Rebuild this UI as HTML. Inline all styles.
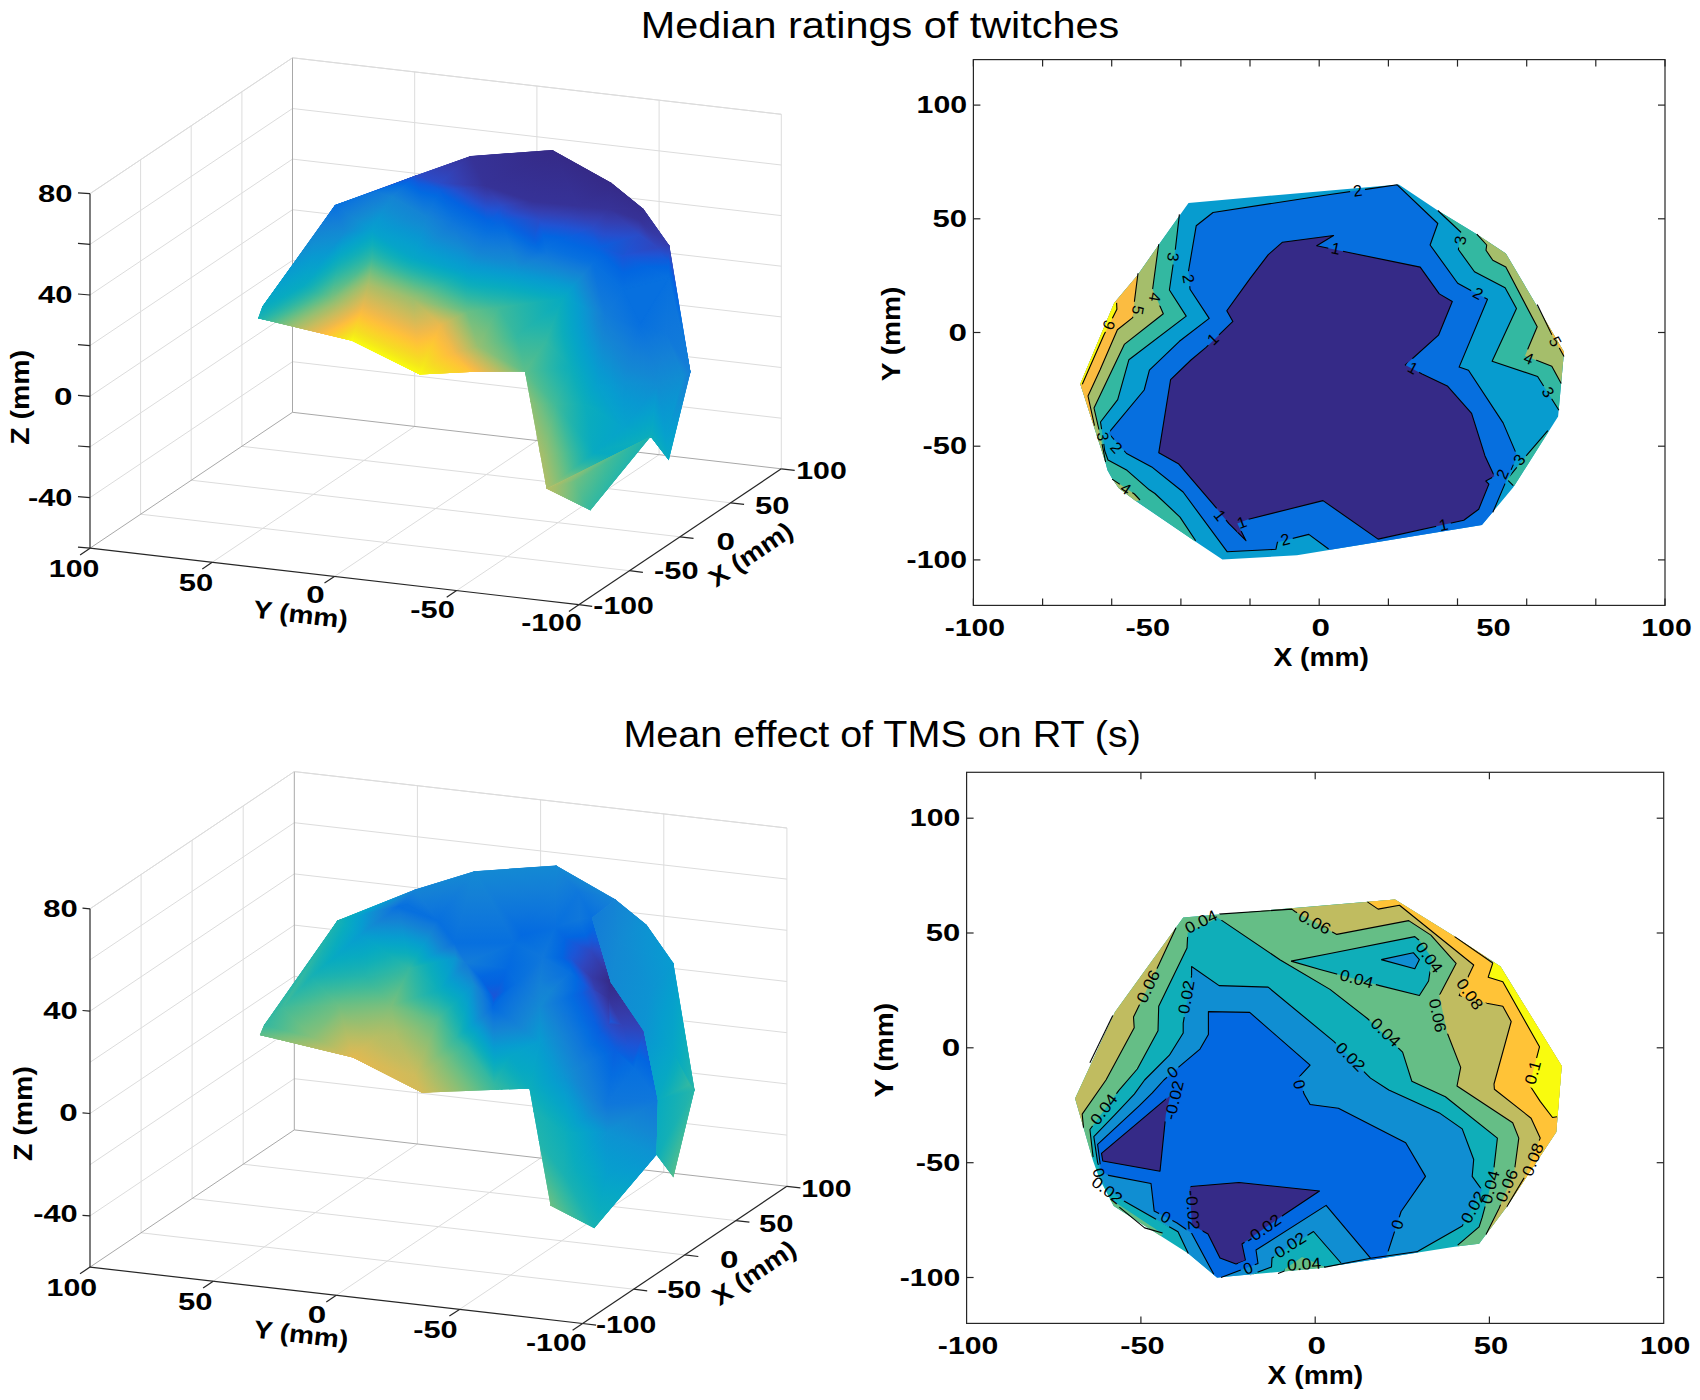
<!DOCTYPE html><html><head><meta charset="utf-8"><style>html,body{margin:0;padding:0;background:#fff;overflow:hidden}svg{display:block}</style></head><body><svg width="1700" height="1400" viewBox="0 0 1700 1400" font-family="Liberation Sans">
<rect width="1700" height="1400" fill="#fff"/>
<line x1="140.6" y1="514.2" x2="629.4" y2="570.7" stroke="#dcdcdc" stroke-width="1.0"/>
<line x1="456.6" y1="590.6" x2="659.1" y2="454.7" stroke="#dcdcdc" stroke-width="1.0"/>
<line x1="191.2" y1="480.2" x2="680" y2="536.8" stroke="#dcdcdc" stroke-width="1.0"/>
<line x1="334.4" y1="576.5" x2="536.9" y2="440.6" stroke="#dcdcdc" stroke-width="1.0"/>
<line x1="241.9" y1="446.3" x2="730.7" y2="502.8" stroke="#dcdcdc" stroke-width="1.0"/>
<line x1="212.2" y1="562.3" x2="414.7" y2="426.4" stroke="#dcdcdc" stroke-width="1.0"/>
<line x1="140.6" y1="514.2" x2="140.6" y2="159.7" stroke="#dcdcdc" stroke-width="1.0"/>
<line x1="191.2" y1="480.2" x2="191.2" y2="125.8" stroke="#dcdcdc" stroke-width="1.0"/>
<line x1="241.9" y1="446.3" x2="241.9" y2="91.8" stroke="#dcdcdc" stroke-width="1.0"/>
<line x1="90" y1="497.6" x2="292.5" y2="361.7" stroke="#dcdcdc" stroke-width="1.0"/>
<line x1="90" y1="446.9" x2="292.5" y2="311" stroke="#dcdcdc" stroke-width="1.0"/>
<line x1="90" y1="396.3" x2="292.5" y2="260.4" stroke="#dcdcdc" stroke-width="1.0"/>
<line x1="90" y1="345.6" x2="292.5" y2="209.7" stroke="#dcdcdc" stroke-width="1.0"/>
<line x1="90" y1="295" x2="292.5" y2="159.1" stroke="#dcdcdc" stroke-width="1.0"/>
<line x1="90" y1="244.4" x2="292.5" y2="108.5" stroke="#dcdcdc" stroke-width="1.0"/>
<line x1="90" y1="193.7" x2="292.5" y2="57.8" stroke="#dcdcdc" stroke-width="1.0"/>
<line x1="414.7" y1="426.4" x2="414.7" y2="71.9" stroke="#dcdcdc" stroke-width="1.0"/>
<line x1="536.9" y1="440.6" x2="536.9" y2="86.1" stroke="#dcdcdc" stroke-width="1.0"/>
<line x1="659.1" y1="454.7" x2="659.1" y2="100.2" stroke="#dcdcdc" stroke-width="1.0"/>
<line x1="292.5" y1="361.7" x2="781.3" y2="418.2" stroke="#dcdcdc" stroke-width="1.0"/>
<line x1="292.5" y1="311" x2="781.3" y2="367.5" stroke="#dcdcdc" stroke-width="1.0"/>
<line x1="292.5" y1="260.4" x2="781.3" y2="316.9" stroke="#dcdcdc" stroke-width="1.0"/>
<line x1="292.5" y1="209.7" x2="781.3" y2="266.2" stroke="#dcdcdc" stroke-width="1.0"/>
<line x1="292.5" y1="159.1" x2="781.3" y2="215.6" stroke="#dcdcdc" stroke-width="1.0"/>
<line x1="292.5" y1="108.5" x2="781.3" y2="165" stroke="#dcdcdc" stroke-width="1.0"/>
<line x1="292.5" y1="57.8" x2="781.3" y2="114.3" stroke="#dcdcdc" stroke-width="1.0"/>
<line x1="292.5" y1="412.3" x2="292.5" y2="57.8" stroke="#a8a8a8" stroke-width="1.0"/>
<line x1="781.3" y1="468.8" x2="781.3" y2="114.3" stroke="#dcdcdc" stroke-width="1.0"/>
<line x1="90" y1="548.2" x2="292.5" y2="412.3" stroke="#a8a8a8" stroke-width="1.0"/>
<line x1="292.5" y1="412.3" x2="781.3" y2="468.8" stroke="#a8a8a8" stroke-width="1.0"/>
<line x1="90" y1="193.7" x2="292.5" y2="57.8" stroke="#dcdcdc" stroke-width="1.0"/>
<line x1="292.5" y1="57.8" x2="781.3" y2="114.3" stroke="#dcdcdc" stroke-width="1.0"/>
<defs><clipPath id="cps1"><polygon points="258.1,318.3 262.2,306.7 335,205.1 416.4,175.3 470.6,156.1 552.4,149.9 611.3,182.8 643.4,208.8 669.4,245.5 690.5,372 668.8,460.2 651.1,437.2 546.6,488.7 524.9,371.5 470,371.9 419.7,374.6 351.8,340.7"/></clipPath><linearGradient id="gs1_0" gradientUnits="userSpaceOnUse" x1="397" y1="410.6" x2="420.6" y2="375.2"><stop offset="0.000" stop-color="#18b1b2"/><stop offset="0.071" stop-color="#2cb7a5"/><stop offset="0.143" stop-color="#45bb96"/><stop offset="0.214" stop-color="#62be87"/><stop offset="0.286" stop-color="#7fbf7a"/><stop offset="0.357" stop-color="#99bf70"/><stop offset="0.429" stop-color="#b0bd66"/><stop offset="0.500" stop-color="#c6bc5e"/><stop offset="0.571" stop-color="#daba55"/><stop offset="0.643" stop-color="#eeb94b"/><stop offset="0.714" stop-color="#febf3d"/><stop offset="0.786" stop-color="#fdcb30"/><stop offset="0.857" stop-color="#f7d925"/><stop offset="0.929" stop-color="#f5e81a"/><stop offset="1.000" stop-color="#f9fb0e"/></linearGradient><linearGradient id="gs1_1" gradientUnits="userSpaceOnUse" x1="663.1" y1="382.3" x2="679.4" y2="431.1"><stop offset="0.000" stop-color="#118cd2"/><stop offset="0.500" stop-color="#0997d1"/><stop offset="1.000" stop-color="#06a0cd"/></linearGradient><linearGradient id="gs1_2" gradientUnits="userSpaceOnUse" x1="667.8" y1="375.4" x2="680.4" y2="458.4"><stop offset="0.000" stop-color="#137fd7"/><stop offset="0.200" stop-color="#1487d3"/><stop offset="0.400" stop-color="#0d92d2"/><stop offset="0.600" stop-color="#079cd0"/><stop offset="0.800" stop-color="#06a4ca"/><stop offset="1.000" stop-color="#07aac1"/></linearGradient><linearGradient id="gs1_3" gradientUnits="userSpaceOnUse" x1="687.7" y1="395.4" x2="670.8" y2="393.4"><stop offset="0.000" stop-color="#137fd7"/><stop offset="0.333" stop-color="#1389d3"/><stop offset="0.667" stop-color="#0a96d1"/><stop offset="1.000" stop-color="#06a0cd"/></linearGradient><linearGradient id="gs1_4" gradientUnits="userSpaceOnUse" x1="535.9" y1="403.1" x2="488.5" y2="420.9"><stop offset="0.000" stop-color="#7abf7c"/><stop offset="0.143" stop-color="#93bf72"/><stop offset="0.286" stop-color="#a9be69"/><stop offset="0.429" stop-color="#bebc61"/><stop offset="0.571" stop-color="#d2bb59"/><stop offset="0.714" stop-color="#e5b950"/><stop offset="0.857" stop-color="#f7ba45"/><stop offset="1.000" stop-color="#ffc436"/></linearGradient><linearGradient id="gs1_5" gradientUnits="userSpaceOnUse" x1="560.1" y1="414.9" x2="531.3" y2="426.9"><stop offset="0.000" stop-color="#3fba99"/><stop offset="0.250" stop-color="#58bd8c"/><stop offset="0.500" stop-color="#73bf80"/><stop offset="0.750" stop-color="#8bbf75"/><stop offset="1.000" stop-color="#a1be6c"/></linearGradient><linearGradient id="gs1_6" gradientUnits="userSpaceOnUse" x1="536" y1="430.1" x2="442.8" y2="456.5"><stop offset="0.000" stop-color="#a1be6c"/><stop offset="0.111" stop-color="#b7bd64"/><stop offset="0.222" stop-color="#cbbb5b"/><stop offset="0.333" stop-color="#dfba53"/><stop offset="0.444" stop-color="#f2b949"/><stop offset="0.556" stop-color="#fec13a"/><stop offset="0.667" stop-color="#fccd2e"/><stop offset="0.778" stop-color="#f7da25"/><stop offset="0.889" stop-color="#f5e81a"/><stop offset="1.000" stop-color="#f9fb0e"/></linearGradient><linearGradient id="gs1_7" gradientUnits="userSpaceOnUse" x1="542.3" y1="399.6" x2="420.1" y2="401.3"><stop offset="0.000" stop-color="#a1be6c"/><stop offset="0.111" stop-color="#b7bd64"/><stop offset="0.222" stop-color="#cbbb5b"/><stop offset="0.333" stop-color="#dfba53"/><stop offset="0.444" stop-color="#f2b949"/><stop offset="0.556" stop-color="#fec13a"/><stop offset="0.667" stop-color="#fccd2e"/><stop offset="0.778" stop-color="#f7da25"/><stop offset="0.889" stop-color="#f5e81a"/><stop offset="1.000" stop-color="#f9fb0e"/></linearGradient><linearGradient id="gs1_8" gradientUnits="userSpaceOnUse" x1="449.1" y1="358.8" x2="433.7" y2="383.4"><stop offset="0.000" stop-color="#ffc436"/><stop offset="0.250" stop-color="#fbd02c"/><stop offset="0.500" stop-color="#f6dc23"/><stop offset="0.750" stop-color="#f5ea19"/><stop offset="1.000" stop-color="#f9fb0e"/></linearGradient><linearGradient id="gs1_9" gradientUnits="userSpaceOnUse" x1="634.4" y1="393.6" x2="652.1" y2="436.8"><stop offset="0.000" stop-color="#118cd2"/><stop offset="0.250" stop-color="#0997d1"/><stop offset="0.500" stop-color="#06a0cd"/><stop offset="0.750" stop-color="#06a7c5"/><stop offset="1.000" stop-color="#0cadbb"/></linearGradient><linearGradient id="gs1_10" gradientUnits="userSpaceOnUse" x1="670.5" y1="413.2" x2="645.4" y2="424.9"><stop offset="0.000" stop-color="#118cd2"/><stop offset="0.250" stop-color="#0997d1"/><stop offset="0.500" stop-color="#06a0cd"/><stop offset="0.750" stop-color="#06a7c5"/><stop offset="1.000" stop-color="#0cadbb"/></linearGradient><linearGradient id="gs1_11" gradientUnits="userSpaceOnUse" x1="668.5" y1="440.5" x2="656.9" y2="447.2"><stop offset="0.000" stop-color="#06a0cd"/><stop offset="0.500" stop-color="#06a7c5"/><stop offset="1.000" stop-color="#0cadbb"/></linearGradient><linearGradient id="gs1_12" gradientUnits="userSpaceOnUse" x1="608.3" y1="400.5" x2="590.5" y2="412.8"><stop offset="0.000" stop-color="#06a0cd"/><stop offset="0.500" stop-color="#06a7c5"/><stop offset="1.000" stop-color="#0cadbb"/></linearGradient><linearGradient id="gs1_13" gradientUnits="userSpaceOnUse" x1="416.3" y1="297.8" x2="432.9" y2="371.6"><stop offset="0.000" stop-color="#9bbf6f"/><stop offset="0.111" stop-color="#b2bd66"/><stop offset="0.222" stop-color="#c7bc5d"/><stop offset="0.333" stop-color="#dbba55"/><stop offset="0.444" stop-color="#efb94b"/><stop offset="0.556" stop-color="#febf3c"/><stop offset="0.667" stop-color="#fdcc2f"/><stop offset="0.778" stop-color="#f7d925"/><stop offset="0.889" stop-color="#f5e81a"/><stop offset="1.000" stop-color="#f9fb0e"/></linearGradient><linearGradient id="gs1_14" gradientUnits="userSpaceOnUse" x1="450.3" y1="341.9" x2="413.7" y2="365.2"><stop offset="0.000" stop-color="#ecb94c"/><stop offset="0.200" stop-color="#fdbe3e"/><stop offset="0.400" stop-color="#fdcb30"/><stop offset="0.600" stop-color="#f7d826"/><stop offset="0.800" stop-color="#f5e71b"/><stop offset="1.000" stop-color="#f9fb0e"/></linearGradient><linearGradient id="gs1_15" gradientUnits="userSpaceOnUse" x1="447.1" y1="217.2" x2="409.3" y2="254.2"><stop offset="0.000" stop-color="#0f77db"/><stop offset="0.200" stop-color="#1480d6"/><stop offset="0.400" stop-color="#138ad3"/><stop offset="0.600" stop-color="#0b95d2"/><stop offset="0.800" stop-color="#069fce"/><stop offset="1.000" stop-color="#06a6c6"/></linearGradient><linearGradient id="gs1_16" gradientUnits="userSpaceOnUse" x1="449.3" y1="149.3" x2="438.8" y2="182.4"><stop offset="0.000" stop-color="#363297"/><stop offset="0.500" stop-color="#353eaf"/><stop offset="1.000" stop-color="#2b4bc7"/></linearGradient><linearGradient id="gs1_17" gradientUnits="userSpaceOnUse" x1="375" y1="189.5" x2="375.7" y2="191.7"><stop offset="0.000" stop-color="#2b4bc7"/><stop offset="0.333" stop-color="#0860df"/><stop offset="0.667" stop-color="#056de0"/><stop offset="1.000" stop-color="#0f77db"/></linearGradient><linearGradient id="gs1_18" gradientUnits="userSpaceOnUse" x1="393.8" y1="176.6" x2="394.9" y2="196.8"><stop offset="0.000" stop-color="#2b4bc7"/><stop offset="0.200" stop-color="#0d5dde"/><stop offset="0.400" stop-color="#026ae1"/><stop offset="0.600" stop-color="#0a73dd"/><stop offset="0.800" stop-color="#117bd9"/><stop offset="1.000" stop-color="#1484d4"/></linearGradient><linearGradient id="gs1_19" gradientUnits="userSpaceOnUse" x1="422" y1="178.6" x2="406.4" y2="205.4"><stop offset="0.000" stop-color="#2b4bc7"/><stop offset="0.200" stop-color="#0d5dde"/><stop offset="0.400" stop-color="#026ae1"/><stop offset="0.600" stop-color="#0a73dd"/><stop offset="0.800" stop-color="#117bd9"/><stop offset="1.000" stop-color="#1484d4"/></linearGradient><linearGradient id="gs1_20" gradientUnits="userSpaceOnUse" x1="477" y1="345.1" x2="461.2" y2="364.8"><stop offset="0.000" stop-color="#95bf71"/><stop offset="0.167" stop-color="#abbe68"/><stop offset="0.333" stop-color="#bfbc60"/><stop offset="0.500" stop-color="#d3bb58"/><stop offset="0.667" stop-color="#e6b950"/><stop offset="0.833" stop-color="#f7ba45"/><stop offset="1.000" stop-color="#ffc436"/></linearGradient><linearGradient id="gs1_21" gradientUnits="userSpaceOnUse" x1="457.9" y1="355.5" x2="451.9" y2="365.3"><stop offset="0.000" stop-color="#f6ba46"/><stop offset="0.500" stop-color="#fec13a"/><stop offset="1.000" stop-color="#fdcb30"/></linearGradient><linearGradient id="gs1_22" gradientUnits="userSpaceOnUse" x1="450.9" y1="341" x2="435.6" y2="351.9"><stop offset="0.000" stop-color="#ecb94c"/><stop offset="0.500" stop-color="#fdbe3e"/><stop offset="1.000" stop-color="#fdcb30"/></linearGradient><linearGradient id="gs1_23" gradientUnits="userSpaceOnUse" x1="373.5" y1="192.6" x2="387.3" y2="224"><stop offset="0.000" stop-color="#0f77db"/><stop offset="0.250" stop-color="#1480d6"/><stop offset="0.500" stop-color="#128bd3"/><stop offset="0.750" stop-color="#0a97d1"/><stop offset="1.000" stop-color="#06a0cd"/></linearGradient><linearGradient id="gs1_24" gradientUnits="userSpaceOnUse" x1="403.4" y1="203.7" x2="383.7" y2="237.5"><stop offset="0.000" stop-color="#1484d4"/><stop offset="0.333" stop-color="#118dd2"/><stop offset="0.667" stop-color="#0998d1"/><stop offset="1.000" stop-color="#06a0cd"/></linearGradient><linearGradient id="gs1_25" gradientUnits="userSpaceOnUse" x1="413.3" y1="211.8" x2="397.2" y2="251.5"><stop offset="0.000" stop-color="#1484d4"/><stop offset="0.250" stop-color="#118dd2"/><stop offset="0.500" stop-color="#0997d1"/><stop offset="0.750" stop-color="#06a0cd"/><stop offset="1.000" stop-color="#06a6c6"/></linearGradient><linearGradient id="gs1_26" gradientUnits="userSpaceOnUse" x1="353.6" y1="195.5" x2="371.8" y2="230.9"><stop offset="0.000" stop-color="#0770df"/><stop offset="0.200" stop-color="#1079da"/><stop offset="0.400" stop-color="#1482d5"/><stop offset="0.600" stop-color="#128cd2"/><stop offset="0.800" stop-color="#0a97d1"/><stop offset="1.000" stop-color="#06a0cd"/></linearGradient><linearGradient id="gs1_27" gradientUnits="userSpaceOnUse" x1="273.6" y1="300.8" x2="277.4" y2="308.3"><stop offset="0.000" stop-color="#07aac1"/><stop offset="0.500" stop-color="#0eaeba"/><stop offset="1.000" stop-color="#18b1b2"/></linearGradient><linearGradient id="gs1_28" gradientUnits="userSpaceOnUse" x1="336.7" y1="357.5" x2="346.4" y2="338"><stop offset="0.000" stop-color="#18b1b2"/><stop offset="0.071" stop-color="#2cb7a5"/><stop offset="0.143" stop-color="#45bb96"/><stop offset="0.214" stop-color="#62be87"/><stop offset="0.286" stop-color="#7fbf7a"/><stop offset="0.357" stop-color="#99bf70"/><stop offset="0.429" stop-color="#b0bd66"/><stop offset="0.500" stop-color="#c6bc5e"/><stop offset="0.571" stop-color="#daba55"/><stop offset="0.643" stop-color="#eeb94b"/><stop offset="0.714" stop-color="#febf3d"/><stop offset="0.786" stop-color="#fdcb30"/><stop offset="0.857" stop-color="#f7d925"/><stop offset="0.929" stop-color="#f5e81a"/><stop offset="1.000" stop-color="#f9fb0e"/></linearGradient><linearGradient id="gs1_29" gradientUnits="userSpaceOnUse" x1="587.6" y1="430.2" x2="539.9" y2="444.7"><stop offset="0.000" stop-color="#07aac1"/><stop offset="0.143" stop-color="#13b0b6"/><stop offset="0.286" stop-color="#24b5aa"/><stop offset="0.429" stop-color="#3ab99d"/><stop offset="0.571" stop-color="#54bd8e"/><stop offset="0.714" stop-color="#70bf81"/><stop offset="0.857" stop-color="#8abf76"/><stop offset="1.000" stop-color="#a1be6c"/></linearGradient><linearGradient id="gs1_30" gradientUnits="userSpaceOnUse" x1="591.6" y1="419.3" x2="557.1" y2="422.1"><stop offset="0.000" stop-color="#07aac1"/><stop offset="0.333" stop-color="#14b0b5"/><stop offset="0.667" stop-color="#27b5a8"/><stop offset="1.000" stop-color="#3fba99"/></linearGradient><linearGradient id="gs1_31" gradientUnits="userSpaceOnUse" x1="622.7" y1="429.6" x2="582.9" y2="426.6"><stop offset="0.000" stop-color="#06a3cb"/><stop offset="0.500" stop-color="#06a8c4"/><stop offset="1.000" stop-color="#0cadbb"/></linearGradient><linearGradient id="gs1_32" gradientUnits="userSpaceOnUse" x1="595.5" y1="457.7" x2="542.3" y2="469.7"><stop offset="0.000" stop-color="#07aac1"/><stop offset="0.143" stop-color="#14b0b5"/><stop offset="0.286" stop-color="#27b5a8"/><stop offset="0.429" stop-color="#3fba99"/><stop offset="0.571" stop-color="#5cbe8a"/><stop offset="0.714" stop-color="#7abf7c"/><stop offset="0.857" stop-color="#95bf71"/><stop offset="1.000" stop-color="#adbe68"/></linearGradient><linearGradient id="gs1_33" gradientUnits="userSpaceOnUse" x1="604.6" y1="453.6" x2="600.4" y2="494.3"><stop offset="0.000" stop-color="#07aac1"/><stop offset="0.143" stop-color="#14b0b5"/><stop offset="0.286" stop-color="#27b5a8"/><stop offset="0.429" stop-color="#3fba99"/><stop offset="0.571" stop-color="#5cbe8a"/><stop offset="0.714" stop-color="#7abf7c"/><stop offset="0.857" stop-color="#95bf71"/><stop offset="1.000" stop-color="#adbe68"/></linearGradient><linearGradient id="gs1_34" gradientUnits="userSpaceOnUse" x1="637.3" y1="456.9" x2="639.5" y2="436"><stop offset="0.000" stop-color="#07aac1"/><stop offset="1.000" stop-color="#0cadbb"/></linearGradient><linearGradient id="gs1_35" gradientUnits="userSpaceOnUse" x1="618.8" y1="428.7" x2="626" y2="447.1"><stop offset="0.000" stop-color="#06a3cb"/><stop offset="0.500" stop-color="#06a8c4"/><stop offset="1.000" stop-color="#0cadbb"/></linearGradient><linearGradient id="gs1_36" gradientUnits="userSpaceOnUse" x1="530.2" y1="272.1" x2="521.4" y2="313"><stop offset="0.000" stop-color="#0d93d2"/><stop offset="0.167" stop-color="#079dcf"/><stop offset="0.333" stop-color="#06a5c8"/><stop offset="0.500" stop-color="#09acbe"/><stop offset="0.667" stop-color="#17b1b3"/><stop offset="0.833" stop-color="#29b6a7"/><stop offset="1.000" stop-color="#3fba99"/></linearGradient><linearGradient id="gs1_37" gradientUnits="userSpaceOnUse" x1="489" y1="187.6" x2="466.3" y2="230.6"><stop offset="0.000" stop-color="#363297"/><stop offset="0.200" stop-color="#3340b4"/><stop offset="0.400" stop-color="#2251d1"/><stop offset="0.600" stop-color="#0363e1"/><stop offset="0.800" stop-color="#066edf"/><stop offset="1.000" stop-color="#0f77db"/></linearGradient><linearGradient id="gs1_38" gradientUnits="userSpaceOnUse" x1="493.1" y1="186.6" x2="488.6" y2="232.1"><stop offset="0.000" stop-color="#363297"/><stop offset="0.250" stop-color="#3341b5"/><stop offset="0.500" stop-color="#2053d4"/><stop offset="0.750" stop-color="#0265e1"/><stop offset="1.000" stop-color="#0770df"/></linearGradient><linearGradient id="gs1_39" gradientUnits="userSpaceOnUse" x1="477.2" y1="168.9" x2="442.1" y2="186.9"><stop offset="0.000" stop-color="#363297"/><stop offset="0.500" stop-color="#353eaf"/><stop offset="1.000" stop-color="#2b4bc7"/></linearGradient><linearGradient id="gs1_40" gradientUnits="userSpaceOnUse" x1="547.8" y1="140.9" x2="480.5" y2="175.5"><stop offset="0.000" stop-color="#352a87"/><stop offset="1.000" stop-color="#363297"/></linearGradient><linearGradient id="gs1_41" gradientUnits="userSpaceOnUse" x1="658.9" y1="335.2" x2="673.4" y2="378.9"><stop offset="0.000" stop-color="#0f77db"/><stop offset="0.500" stop-color="#1481d6"/><stop offset="1.000" stop-color="#118cd2"/></linearGradient><linearGradient id="gs1_42" gradientUnits="userSpaceOnUse" x1="684.4" y1="356.4" x2="674.1" y2="364.7"><stop offset="0.000" stop-color="#0f77db"/><stop offset="0.500" stop-color="#1481d6"/><stop offset="1.000" stop-color="#118cd2"/></linearGradient><linearGradient id="gs1_43" gradientUnits="userSpaceOnUse" x1="455.3" y1="224.6" x2="437.8" y2="267.9"><stop offset="0.000" stop-color="#0f77db"/><stop offset="0.200" stop-color="#1480d6"/><stop offset="0.400" stop-color="#138ad3"/><stop offset="0.600" stop-color="#0b95d2"/><stop offset="0.800" stop-color="#069fce"/><stop offset="1.000" stop-color="#06a6c6"/></linearGradient><linearGradient id="gs1_44" gradientUnits="userSpaceOnUse" x1="496.5" y1="266.3" x2="490.6" y2="306.8"><stop offset="0.000" stop-color="#0d93d2"/><stop offset="0.167" stop-color="#079dcf"/><stop offset="0.333" stop-color="#06a5c8"/><stop offset="0.500" stop-color="#09acbe"/><stop offset="0.667" stop-color="#17b1b3"/><stop offset="0.833" stop-color="#29b6a7"/><stop offset="1.000" stop-color="#3fba99"/></linearGradient><linearGradient id="gs1_45" gradientUnits="userSpaceOnUse" x1="436" y1="261" x2="422.4" y2="301.8"><stop offset="0.000" stop-color="#06a0cd"/><stop offset="0.125" stop-color="#06a8c4"/><stop offset="0.250" stop-color="#0eaeba"/><stop offset="0.375" stop-color="#1eb3ae"/><stop offset="0.500" stop-color="#33b8a1"/><stop offset="0.625" stop-color="#4cbc93"/><stop offset="0.750" stop-color="#67be85"/><stop offset="0.875" stop-color="#83bf79"/><stop offset="1.000" stop-color="#9bbf6f"/></linearGradient><linearGradient id="gs1_46" gradientUnits="userSpaceOnUse" x1="596" y1="381.1" x2="578.6" y2="387.3"><stop offset="0.000" stop-color="#06a0cd"/><stop offset="0.500" stop-color="#06a7c5"/><stop offset="1.000" stop-color="#0cadbb"/></linearGradient><linearGradient id="gs1_47" gradientUnits="userSpaceOnUse" x1="579.1" y1="388.9" x2="553.5" y2="398"><stop offset="0.000" stop-color="#0cadbb"/><stop offset="0.333" stop-color="#1ab2b1"/><stop offset="0.667" stop-color="#2bb6a6"/><stop offset="1.000" stop-color="#3fba99"/></linearGradient><linearGradient id="gs1_48" gradientUnits="userSpaceOnUse" x1="511.4" y1="324.2" x2="475.9" y2="340.3"><stop offset="0.000" stop-color="#33b8a1"/><stop offset="0.250" stop-color="#4abc93"/><stop offset="0.500" stop-color="#64be86"/><stop offset="0.750" stop-color="#7dbf7b"/><stop offset="1.000" stop-color="#95bf71"/></linearGradient><linearGradient id="gs1_49" gradientUnits="userSpaceOnUse" x1="564.4" y1="303.9" x2="501.5" y2="321.1"><stop offset="0.000" stop-color="#07aac1"/><stop offset="0.333" stop-color="#14b0b5"/><stop offset="0.667" stop-color="#27b5a8"/><stop offset="1.000" stop-color="#3fba99"/></linearGradient><linearGradient id="gs1_50" gradientUnits="userSpaceOnUse" x1="546.7" y1="296" x2="539.5" y2="340.4"><stop offset="0.000" stop-color="#07aac1"/><stop offset="0.333" stop-color="#11afb8"/><stop offset="0.667" stop-color="#20b4ad"/><stop offset="1.000" stop-color="#33b8a1"/></linearGradient><linearGradient id="gs1_51" gradientUnits="userSpaceOnUse" x1="333.8" y1="206.4" x2="366.4" y2="236.8"><stop offset="0.000" stop-color="#0770df"/><stop offset="0.200" stop-color="#1079da"/><stop offset="0.400" stop-color="#1482d5"/><stop offset="0.600" stop-color="#128cd2"/><stop offset="0.800" stop-color="#0a97d1"/><stop offset="1.000" stop-color="#06a0cd"/></linearGradient><linearGradient id="gs1_52" gradientUnits="userSpaceOnUse" x1="390.2" y1="240.4" x2="378.9" y2="261.5"><stop offset="0.000" stop-color="#06a0cd"/><stop offset="0.250" stop-color="#06a8c4"/><stop offset="0.500" stop-color="#0eaeba"/><stop offset="0.750" stop-color="#1eb3ae"/><stop offset="1.000" stop-color="#33b8a1"/></linearGradient><linearGradient id="gs1_53" gradientUnits="userSpaceOnUse" x1="355.3" y1="225.2" x2="372.6" y2="257.6"><stop offset="0.000" stop-color="#1389d3"/><stop offset="0.167" stop-color="#0b95d1"/><stop offset="0.333" stop-color="#06a0cd"/><stop offset="0.500" stop-color="#06a7c5"/><stop offset="0.667" stop-color="#0daebb"/><stop offset="0.833" stop-color="#1eb3ae"/><stop offset="1.000" stop-color="#33b8a1"/></linearGradient><linearGradient id="gs1_54" gradientUnits="userSpaceOnUse" x1="500.4" y1="205.5" x2="491.5" y2="233.6"><stop offset="0.000" stop-color="#2b4bc7"/><stop offset="0.333" stop-color="#105bdd"/><stop offset="0.667" stop-color="#0267e1"/><stop offset="1.000" stop-color="#0770df"/></linearGradient><linearGradient id="gs1_55" gradientUnits="userSpaceOnUse" x1="503" y1="219.6" x2="499.2" y2="267.9"><stop offset="0.000" stop-color="#0860df"/><stop offset="0.200" stop-color="#046ce0"/><stop offset="0.400" stop-color="#0d75dc"/><stop offset="0.600" stop-color="#137ed7"/><stop offset="0.800" stop-color="#1487d3"/><stop offset="1.000" stop-color="#0d93d2"/></linearGradient><linearGradient id="gs1_56" gradientUnits="userSpaceOnUse" x1="472.8" y1="178.2" x2="447.8" y2="220.5"><stop offset="0.000" stop-color="#363297"/><stop offset="0.200" stop-color="#3340b4"/><stop offset="0.400" stop-color="#2251d1"/><stop offset="0.600" stop-color="#0363e1"/><stop offset="0.800" stop-color="#066edf"/><stop offset="1.000" stop-color="#0f77db"/></linearGradient><linearGradient id="gs1_57" gradientUnits="userSpaceOnUse" x1="458.3" y1="177.1" x2="452.7" y2="194.6"><stop offset="0.000" stop-color="#363297"/><stop offset="0.333" stop-color="#343fb1"/><stop offset="0.667" stop-color="#264ecd"/><stop offset="1.000" stop-color="#0860df"/></linearGradient><linearGradient id="gs1_58" gradientUnits="userSpaceOnUse" x1="449.7" y1="198" x2="431.7" y2="221.2"><stop offset="0.000" stop-color="#0860df"/><stop offset="0.250" stop-color="#036be0"/><stop offset="0.500" stop-color="#0b74dd"/><stop offset="0.750" stop-color="#127bd9"/><stop offset="1.000" stop-color="#1484d4"/></linearGradient><linearGradient id="gs1_59" gradientUnits="userSpaceOnUse" x1="432.9" y1="180.5" x2="430.7" y2="187.5"><stop offset="0.000" stop-color="#2b4bc7"/><stop offset="1.000" stop-color="#0860df"/></linearGradient><linearGradient id="gs1_60" gradientUnits="userSpaceOnUse" x1="431.4" y1="179.1" x2="422.1" y2="216"><stop offset="0.000" stop-color="#2b4bc7"/><stop offset="0.200" stop-color="#0d5dde"/><stop offset="0.400" stop-color="#026ae1"/><stop offset="0.600" stop-color="#0a73dd"/><stop offset="0.800" stop-color="#117bd9"/><stop offset="1.000" stop-color="#1484d4"/></linearGradient><linearGradient id="gs1_61" gradientUnits="userSpaceOnUse" x1="648.3" y1="208.1" x2="653.7" y2="247.7"><stop offset="0.000" stop-color="#362e8f"/><stop offset="1.000" stop-color="#353eaf"/></linearGradient><linearGradient id="gs1_62" gradientUnits="userSpaceOnUse" x1="653.6" y1="239.5" x2="622.1" y2="253.8"><stop offset="0.000" stop-color="#2f46bf"/><stop offset="1.000" stop-color="#1b55d7"/></linearGradient><linearGradient id="gs1_63" gradientUnits="userSpaceOnUse" x1="659" y1="229.2" x2="651.7" y2="244.5"><stop offset="0.000" stop-color="#363297"/><stop offset="0.500" stop-color="#353cab"/><stop offset="1.000" stop-color="#2f46bf"/></linearGradient><linearGradient id="gs1_64" gradientUnits="userSpaceOnUse" x1="649.5" y1="228.2" x2="642" y2="237.4"><stop offset="0.000" stop-color="#363297"/><stop offset="0.500" stop-color="#353eaf"/><stop offset="1.000" stop-color="#2b4bc7"/></linearGradient><linearGradient id="gs1_65" gradientUnits="userSpaceOnUse" x1="642.7" y1="378.3" x2="622.5" y2="426.9"><stop offset="0.000" stop-color="#118cd2"/><stop offset="0.500" stop-color="#0899d1"/><stop offset="1.000" stop-color="#06a3cb"/></linearGradient><linearGradient id="gs1_66" gradientUnits="userSpaceOnUse" x1="626.7" y1="389.6" x2="606.4" y2="404.3"><stop offset="0.000" stop-color="#0d93d2"/><stop offset="0.500" stop-color="#079cd0"/><stop offset="1.000" stop-color="#06a3cb"/></linearGradient><linearGradient id="gs1_67" gradientUnits="userSpaceOnUse" x1="495.8" y1="232.9" x2="492.2" y2="266.6"><stop offset="0.000" stop-color="#0770df"/><stop offset="0.250" stop-color="#0f78db"/><stop offset="0.500" stop-color="#1480d6"/><stop offset="0.750" stop-color="#1388d3"/><stop offset="1.000" stop-color="#0d93d2"/></linearGradient><linearGradient id="gs1_68" gradientUnits="userSpaceOnUse" x1="489.4" y1="253.9" x2="485.8" y2="274.6"><stop offset="0.000" stop-color="#1484d4"/><stop offset="0.333" stop-color="#118dd2"/><stop offset="0.667" stop-color="#0998d1"/><stop offset="1.000" stop-color="#06a0cd"/></linearGradient><linearGradient id="gs1_69" gradientUnits="userSpaceOnUse" x1="477.2" y1="227.3" x2="467.4" y2="246.1"><stop offset="0.000" stop-color="#0770df"/><stop offset="0.500" stop-color="#117ada"/><stop offset="1.000" stop-color="#1484d4"/></linearGradient><linearGradient id="gs1_70" gradientUnits="userSpaceOnUse" x1="474.2" y1="236.2" x2="456.8" y2="265.2"><stop offset="0.000" stop-color="#0f77db"/><stop offset="0.250" stop-color="#1480d6"/><stop offset="0.500" stop-color="#128bd3"/><stop offset="0.750" stop-color="#0a97d1"/><stop offset="1.000" stop-color="#06a0cd"/></linearGradient><linearGradient id="gs1_71" gradientUnits="userSpaceOnUse" x1="443.6" y1="302.9" x2="435.4" y2="323.9"><stop offset="0.000" stop-color="#6bbf83"/><stop offset="0.167" stop-color="#86bf78"/><stop offset="0.333" stop-color="#9dbe6e"/><stop offset="0.500" stop-color="#b2bd65"/><stop offset="0.667" stop-color="#c7bc5d"/><stop offset="0.833" stop-color="#daba55"/><stop offset="1.000" stop-color="#ecb94c"/></linearGradient><linearGradient id="gs1_72" gradientUnits="userSpaceOnUse" x1="461.2" y1="268.6" x2="440.6" y2="311.8"><stop offset="0.000" stop-color="#06a0cd"/><stop offset="0.125" stop-color="#06a8c4"/><stop offset="0.250" stop-color="#0eaeba"/><stop offset="0.375" stop-color="#1eb3ae"/><stop offset="0.500" stop-color="#33b8a1"/><stop offset="0.625" stop-color="#4cbc93"/><stop offset="0.750" stop-color="#67be85"/><stop offset="0.875" stop-color="#83bf79"/><stop offset="1.000" stop-color="#9bbf6f"/></linearGradient><linearGradient id="gs1_73" gradientUnits="userSpaceOnUse" x1="482.2" y1="274.5" x2="474" y2="313.5"><stop offset="0.000" stop-color="#06a0cd"/><stop offset="0.167" stop-color="#06a8c4"/><stop offset="0.333" stop-color="#0eaeba"/><stop offset="0.500" stop-color="#1fb4ad"/><stop offset="0.667" stop-color="#35b8a0"/><stop offset="0.833" stop-color="#4fbc91"/><stop offset="1.000" stop-color="#6bbf83"/></linearGradient><linearGradient id="gs1_74" gradientUnits="userSpaceOnUse" x1="493.6" y1="304.8" x2="468.9" y2="339.4"><stop offset="0.000" stop-color="#3fba99"/><stop offset="0.333" stop-color="#5cbe8a"/><stop offset="0.667" stop-color="#7abf7c"/><stop offset="1.000" stop-color="#95bf71"/></linearGradient><linearGradient id="gs1_75" gradientUnits="userSpaceOnUse" x1="478.2" y1="330" x2="450.1" y2="347.2"><stop offset="0.000" stop-color="#6bbf83"/><stop offset="0.167" stop-color="#88bf77"/><stop offset="0.333" stop-color="#a1be6c"/><stop offset="0.500" stop-color="#b8bd63"/><stop offset="0.667" stop-color="#cebb5b"/><stop offset="0.833" stop-color="#e2b951"/><stop offset="1.000" stop-color="#f6ba46"/></linearGradient><linearGradient id="gs1_76" gradientUnits="userSpaceOnUse" x1="471.5" y1="319.1" x2="443.5" y2="336.5"><stop offset="0.000" stop-color="#6bbf83"/><stop offset="0.167" stop-color="#88bf77"/><stop offset="0.333" stop-color="#a1be6c"/><stop offset="0.500" stop-color="#b8bd63"/><stop offset="0.667" stop-color="#cebb5b"/><stop offset="0.833" stop-color="#e2b951"/><stop offset="1.000" stop-color="#f6ba46"/></linearGradient><linearGradient id="gs1_77" gradientUnits="userSpaceOnUse" x1="571.6" y1="360.7" x2="525.3" y2="359.3"><stop offset="0.000" stop-color="#0cadbb"/><stop offset="0.250" stop-color="#1ab2b1"/><stop offset="0.500" stop-color="#2db7a5"/><stop offset="0.750" stop-color="#43bb97"/><stop offset="1.000" stop-color="#5cbe8a"/></linearGradient><linearGradient id="gs1_78" gradientUnits="userSpaceOnUse" x1="531" y1="339" x2="525.7" y2="371.6"><stop offset="0.000" stop-color="#33b8a1"/><stop offset="0.500" stop-color="#46bb95"/><stop offset="1.000" stop-color="#5cbe8a"/></linearGradient><linearGradient id="gs1_79" gradientUnits="userSpaceOnUse" x1="545.8" y1="389" x2="532.2" y2="397.8"><stop offset="0.000" stop-color="#3fba99"/><stop offset="0.500" stop-color="#5cbe8a"/><stop offset="1.000" stop-color="#7abf7c"/></linearGradient><linearGradient id="gs1_80" gradientUnits="userSpaceOnUse" x1="572.7" y1="369.6" x2="534.1" y2="389.5"><stop offset="0.000" stop-color="#0cadbb"/><stop offset="0.250" stop-color="#1ab2b1"/><stop offset="0.500" stop-color="#2db7a5"/><stop offset="0.750" stop-color="#43bb97"/><stop offset="1.000" stop-color="#5cbe8a"/></linearGradient><linearGradient id="gs1_81" gradientUnits="userSpaceOnUse" x1="526.1" y1="373.6" x2="484.6" y2="397.4"><stop offset="0.000" stop-color="#5cbe8a"/><stop offset="0.125" stop-color="#78bf7d"/><stop offset="0.250" stop-color="#92bf73"/><stop offset="0.375" stop-color="#a8be69"/><stop offset="0.500" stop-color="#bebc61"/><stop offset="0.625" stop-color="#d1bb59"/><stop offset="0.750" stop-color="#e5b950"/><stop offset="0.875" stop-color="#f7ba45"/><stop offset="1.000" stop-color="#ffc436"/></linearGradient><linearGradient id="gs1_82" gradientUnits="userSpaceOnUse" x1="500.2" y1="351.9" x2="478.7" y2="378.9"><stop offset="0.000" stop-color="#5cbe8a"/><stop offset="0.125" stop-color="#78bf7d"/><stop offset="0.250" stop-color="#92bf73"/><stop offset="0.375" stop-color="#a8be69"/><stop offset="0.500" stop-color="#bebc61"/><stop offset="0.625" stop-color="#d1bb59"/><stop offset="0.750" stop-color="#e5b950"/><stop offset="0.875" stop-color="#f7ba45"/><stop offset="1.000" stop-color="#ffc436"/></linearGradient><linearGradient id="gs1_83" gradientUnits="userSpaceOnUse" x1="520.3" y1="340.9" x2="492.1" y2="363.3"><stop offset="0.000" stop-color="#33b8a1"/><stop offset="0.250" stop-color="#4abc93"/><stop offset="0.500" stop-color="#64be86"/><stop offset="0.750" stop-color="#7dbf7b"/><stop offset="1.000" stop-color="#95bf71"/></linearGradient><linearGradient id="gs1_84" gradientUnits="userSpaceOnUse" x1="329.4" y1="206.2" x2="334.8" y2="232.8"><stop offset="0.000" stop-color="#0770df"/><stop offset="0.333" stop-color="#0f78db"/><stop offset="0.667" stop-color="#1480d6"/><stop offset="1.000" stop-color="#1389d3"/></linearGradient><linearGradient id="gs1_85" gradientUnits="userSpaceOnUse" x1="317.9" y1="230.7" x2="329.9" y2="278.6"><stop offset="0.000" stop-color="#1484d4"/><stop offset="0.250" stop-color="#108fd2"/><stop offset="0.500" stop-color="#089ad0"/><stop offset="0.750" stop-color="#06a3ca"/><stop offset="1.000" stop-color="#07aac1"/></linearGradient><linearGradient id="gs1_86" gradientUnits="userSpaceOnUse" x1="301.6" y1="244.6" x2="309.2" y2="251"><stop offset="0.000" stop-color="#0770df"/><stop offset="0.167" stop-color="#1079da"/><stop offset="0.333" stop-color="#1483d5"/><stop offset="0.500" stop-color="#108ed2"/><stop offset="0.667" stop-color="#089ad0"/><stop offset="0.833" stop-color="#06a3ca"/><stop offset="1.000" stop-color="#07aac1"/></linearGradient><linearGradient id="gs1_87" gradientUnits="userSpaceOnUse" x1="282" y1="249.2" x2="301.2" y2="286.6"><stop offset="0.000" stop-color="#1484d4"/><stop offset="0.250" stop-color="#108fd2"/><stop offset="0.500" stop-color="#089ad0"/><stop offset="0.750" stop-color="#06a3ca"/><stop offset="1.000" stop-color="#07aac1"/></linearGradient><linearGradient id="gs1_88" gradientUnits="userSpaceOnUse" x1="407.9" y1="255.9" x2="392.2" y2="294.7"><stop offset="0.000" stop-color="#06a6c6"/><stop offset="0.125" stop-color="#0badbc"/><stop offset="0.250" stop-color="#1ab2b1"/><stop offset="0.375" stop-color="#2eb7a4"/><stop offset="0.500" stop-color="#46bb95"/><stop offset="0.625" stop-color="#62be87"/><stop offset="0.750" stop-color="#7dbf7b"/><stop offset="0.875" stop-color="#96bf71"/><stop offset="1.000" stop-color="#adbe68"/></linearGradient><linearGradient id="gs1_89" gradientUnits="userSpaceOnUse" x1="393.1" y1="248.5" x2="374.4" y2="288"><stop offset="0.000" stop-color="#06a6c6"/><stop offset="0.125" stop-color="#0badbc"/><stop offset="0.250" stop-color="#1ab2b1"/><stop offset="0.375" stop-color="#2eb7a4"/><stop offset="0.500" stop-color="#46bb95"/><stop offset="0.625" stop-color="#62be87"/><stop offset="0.750" stop-color="#7dbf7b"/><stop offset="0.875" stop-color="#96bf71"/><stop offset="1.000" stop-color="#adbe68"/></linearGradient><linearGradient id="gs1_90" gradientUnits="userSpaceOnUse" x1="602.8" y1="285.6" x2="564.3" y2="301.9"><stop offset="0.000" stop-color="#0770df"/><stop offset="0.167" stop-color="#1079da"/><stop offset="0.333" stop-color="#1483d5"/><stop offset="0.500" stop-color="#108ed2"/><stop offset="0.667" stop-color="#089ad0"/><stop offset="0.833" stop-color="#06a3ca"/><stop offset="1.000" stop-color="#07aac1"/></linearGradient><linearGradient id="gs1_91" gradientUnits="userSpaceOnUse" x1="605.5" y1="314.3" x2="543.3" y2="322.1"><stop offset="0.000" stop-color="#127cd8"/><stop offset="0.143" stop-color="#1486d3"/><stop offset="0.286" stop-color="#0d93d2"/><stop offset="0.429" stop-color="#069ece"/><stop offset="0.571" stop-color="#06a6c6"/><stop offset="0.714" stop-color="#0cadbb"/><stop offset="0.857" stop-color="#1db3af"/><stop offset="1.000" stop-color="#33b8a1"/></linearGradient><linearGradient id="gs1_92" gradientUnits="userSpaceOnUse" x1="610" y1="332.2" x2="547.5" y2="348.3"><stop offset="0.000" stop-color="#127cd8"/><stop offset="0.143" stop-color="#1486d3"/><stop offset="0.286" stop-color="#0d93d2"/><stop offset="0.429" stop-color="#069ece"/><stop offset="0.571" stop-color="#06a6c6"/><stop offset="0.714" stop-color="#0cadbb"/><stop offset="0.857" stop-color="#1db3af"/><stop offset="1.000" stop-color="#33b8a1"/></linearGradient><linearGradient id="gs1_93" gradientUnits="userSpaceOnUse" x1="617.3" y1="345.6" x2="570.2" y2="364"><stop offset="0.000" stop-color="#127cd8"/><stop offset="0.200" stop-color="#1486d3"/><stop offset="0.400" stop-color="#0d93d2"/><stop offset="0.600" stop-color="#069ece"/><stop offset="0.800" stop-color="#06a6c6"/><stop offset="1.000" stop-color="#0cadbb"/></linearGradient><linearGradient id="gs1_94" gradientUnits="userSpaceOnUse" x1="629.5" y1="343.6" x2="590.6" y2="376.7"><stop offset="0.000" stop-color="#127cd8"/><stop offset="0.250" stop-color="#1484d4"/><stop offset="0.500" stop-color="#108ed2"/><stop offset="0.750" stop-color="#0998d1"/><stop offset="1.000" stop-color="#06a0cd"/></linearGradient><linearGradient id="gs1_95" gradientUnits="userSpaceOnUse" x1="652.1" y1="287.4" x2="698.1" y2="367.7"><stop offset="0.000" stop-color="#0770df"/><stop offset="0.500" stop-color="#0f77db"/><stop offset="1.000" stop-color="#137fd7"/></linearGradient><linearGradient id="gs1_96" gradientUnits="userSpaceOnUse" x1="385.9" y1="286.8" x2="372.7" y2="317.1"><stop offset="0.000" stop-color="#9bbf6f"/><stop offset="0.200" stop-color="#b0bd66"/><stop offset="0.400" stop-color="#c4bc5e"/><stop offset="0.600" stop-color="#d7ba57"/><stop offset="0.800" stop-color="#e9b94e"/><stop offset="1.000" stop-color="#fabc42"/></linearGradient><linearGradient id="gs1_97" gradientUnits="userSpaceOnUse" x1="412" y1="298.2" x2="384.2" y2="358.1"><stop offset="0.000" stop-color="#9bbf6f"/><stop offset="0.111" stop-color="#b2bd66"/><stop offset="0.222" stop-color="#c7bc5d"/><stop offset="0.333" stop-color="#dbba55"/><stop offset="0.444" stop-color="#efb94b"/><stop offset="0.556" stop-color="#febf3c"/><stop offset="0.667" stop-color="#fdcc2f"/><stop offset="0.778" stop-color="#f7d925"/><stop offset="0.889" stop-color="#f5e81a"/><stop offset="1.000" stop-color="#f9fb0e"/></linearGradient><linearGradient id="gs1_98" gradientUnits="userSpaceOnUse" x1="386.5" y1="324.7" x2="373.2" y2="351.4"><stop offset="0.000" stop-color="#fabc42"/><stop offset="0.200" stop-color="#fec535"/><stop offset="0.400" stop-color="#fbd12b"/><stop offset="0.600" stop-color="#f6dc23"/><stop offset="0.800" stop-color="#f5ea19"/><stop offset="1.000" stop-color="#f9fb0e"/></linearGradient><linearGradient id="gs1_99" gradientUnits="userSpaceOnUse" x1="518.9" y1="194.5" x2="504.8" y2="221.4"><stop offset="0.000" stop-color="#363297"/><stop offset="0.333" stop-color="#343fb1"/><stop offset="0.667" stop-color="#264ecd"/><stop offset="1.000" stop-color="#0860df"/></linearGradient><linearGradient id="gs1_100" gradientUnits="userSpaceOnUse" x1="527.9" y1="200.1" x2="520.9" y2="225"><stop offset="0.000" stop-color="#363297"/><stop offset="0.333" stop-color="#343fb1"/><stop offset="0.667" stop-color="#264ecd"/><stop offset="1.000" stop-color="#0860df"/></linearGradient><linearGradient id="gs1_101" gradientUnits="userSpaceOnUse" x1="535" y1="144.1" x2="517.5" y2="196.4"><stop offset="0.000" stop-color="#352a87"/><stop offset="1.000" stop-color="#363297"/></linearGradient><linearGradient id="gs1_102" gradientUnits="userSpaceOnUse" x1="507.8" y1="193.2" x2="503.3" y2="206.5"><stop offset="0.000" stop-color="#363297"/><stop offset="0.500" stop-color="#353eaf"/><stop offset="1.000" stop-color="#2b4bc7"/></linearGradient><linearGradient id="gs1_103" gradientUnits="userSpaceOnUse" x1="546.2" y1="254.5" x2="538.6" y2="293.9"><stop offset="0.000" stop-color="#0f77db"/><stop offset="0.200" stop-color="#1481d6"/><stop offset="0.400" stop-color="#118cd2"/><stop offset="0.600" stop-color="#0899d1"/><stop offset="0.800" stop-color="#06a3cb"/><stop offset="1.000" stop-color="#07aac1"/></linearGradient><linearGradient id="gs1_104" gradientUnits="userSpaceOnUse" x1="572.3" y1="256.3" x2="560" y2="297.7"><stop offset="0.000" stop-color="#0770df"/><stop offset="0.167" stop-color="#1079da"/><stop offset="0.333" stop-color="#1483d5"/><stop offset="0.500" stop-color="#108ed2"/><stop offset="0.667" stop-color="#089ad0"/><stop offset="0.833" stop-color="#06a3ca"/><stop offset="1.000" stop-color="#07aac1"/></linearGradient><linearGradient id="gs1_105" gradientUnits="userSpaceOnUse" x1="640.3" y1="241.6" x2="601.3" y2="250.1"><stop offset="0.000" stop-color="#2b4bc7"/><stop offset="1.000" stop-color="#0860df"/></linearGradient><linearGradient id="gs1_106" gradientUnits="userSpaceOnUse" x1="611.6" y1="247.1" x2="597.4" y2="265.7"><stop offset="0.000" stop-color="#1b55d7"/><stop offset="0.500" stop-color="#0266e1"/><stop offset="1.000" stop-color="#0770df"/></linearGradient><linearGradient id="gs1_107" gradientUnits="userSpaceOnUse" x1="602.8" y1="232.7" x2="587.8" y2="259.5"><stop offset="0.000" stop-color="#2b4bc7"/><stop offset="0.333" stop-color="#105bdd"/><stop offset="0.667" stop-color="#0267e1"/><stop offset="1.000" stop-color="#0770df"/></linearGradient><linearGradient id="gs1_108" gradientUnits="userSpaceOnUse" x1="630.2" y1="216.5" x2="625.4" y2="230.1"><stop offset="0.000" stop-color="#363297"/><stop offset="0.500" stop-color="#353eaf"/><stop offset="1.000" stop-color="#2b4bc7"/></linearGradient><linearGradient id="gs1_109" gradientUnits="userSpaceOnUse" x1="617.6" y1="209.6" x2="614.3" y2="248.3"><stop offset="0.000" stop-color="#363297"/><stop offset="0.333" stop-color="#343fb1"/><stop offset="0.667" stop-color="#264ecd"/><stop offset="1.000" stop-color="#0860df"/></linearGradient><linearGradient id="gs1_110" gradientUnits="userSpaceOnUse" x1="608.7" y1="209" x2="593.6" y2="244.1"><stop offset="0.000" stop-color="#363297"/><stop offset="0.333" stop-color="#343fb1"/><stop offset="0.667" stop-color="#264ecd"/><stop offset="1.000" stop-color="#0860df"/></linearGradient><linearGradient id="gs1_111" gradientUnits="userSpaceOnUse" x1="625.5" y1="188.3" x2="616.4" y2="212"><stop offset="0.000" stop-color="#352a87"/><stop offset="1.000" stop-color="#363297"/></linearGradient><linearGradient id="gs1_112" gradientUnits="userSpaceOnUse" x1="632.7" y1="205.1" x2="628.9" y2="216"><stop offset="0.000" stop-color="#362e8f"/><stop offset="1.000" stop-color="#363297"/></linearGradient><linearGradient id="gs1_113" gradientUnits="userSpaceOnUse" x1="649.8" y1="247" x2="649.6" y2="262.1"><stop offset="0.000" stop-color="#2f46bf"/><stop offset="0.500" stop-color="#2053d4"/><stop offset="1.000" stop-color="#0860df"/></linearGradient><linearGradient id="gs1_114" gradientUnits="userSpaceOnUse" x1="653.7" y1="256.1" x2="653.5" y2="277.5"><stop offset="0.000" stop-color="#1b55d7"/><stop offset="0.500" stop-color="#0266e1"/><stop offset="1.000" stop-color="#0770df"/></linearGradient><linearGradient id="gs1_115" gradientUnits="userSpaceOnUse" x1="667" y1="244.9" x2="662.8" y2="260.7"><stop offset="0.000" stop-color="#353eaf"/><stop offset="0.500" stop-color="#274dcb"/><stop offset="1.000" stop-color="#0860df"/></linearGradient><linearGradient id="gs1_116" gradientUnits="userSpaceOnUse" x1="681.8" y1="291.8" x2="670" y2="295"><stop offset="0.000" stop-color="#353eaf"/><stop offset="0.200" stop-color="#274ecc"/><stop offset="0.400" stop-color="#0761e0"/><stop offset="0.600" stop-color="#046de0"/><stop offset="0.800" stop-color="#0d76dc"/><stop offset="1.000" stop-color="#137fd7"/></linearGradient><linearGradient id="gs1_117" gradientUnits="userSpaceOnUse" x1="680.4" y1="302.8" x2="671.6" y2="305.3"><stop offset="0.000" stop-color="#0860df"/><stop offset="0.333" stop-color="#046ce0"/><stop offset="0.667" stop-color="#0d76dc"/><stop offset="1.000" stop-color="#137fd7"/></linearGradient><linearGradient id="gs1_118" gradientUnits="userSpaceOnUse" x1="632.6" y1="253.1" x2="641.1" y2="285.1"><stop offset="0.000" stop-color="#1b55d7"/><stop offset="0.500" stop-color="#0266e1"/><stop offset="1.000" stop-color="#0770df"/></linearGradient><linearGradient id="gs1_119" gradientUnits="userSpaceOnUse" x1="624.3" y1="257" x2="607.2" y2="275.5"><stop offset="0.000" stop-color="#1b55d7"/><stop offset="0.500" stop-color="#0266e1"/><stop offset="1.000" stop-color="#0770df"/></linearGradient><linearGradient id="gs1_120" gradientUnits="userSpaceOnUse" x1="614.1" y1="281.9" x2="593.4" y2="304.3"><stop offset="0.000" stop-color="#0770df"/><stop offset="0.500" stop-color="#0e76dc"/><stop offset="1.000" stop-color="#127cd8"/></linearGradient><linearGradient id="gs1_121" gradientUnits="userSpaceOnUse" x1="346.4" y1="288.2" x2="362.5" y2="311.3"><stop offset="0.000" stop-color="#7abf7c"/><stop offset="0.167" stop-color="#94bf72"/><stop offset="0.333" stop-color="#abbe68"/><stop offset="0.500" stop-color="#c0bc60"/><stop offset="0.667" stop-color="#d4bb58"/><stop offset="0.833" stop-color="#e8b94f"/><stop offset="1.000" stop-color="#fabc42"/></linearGradient><linearGradient id="gs1_122" gradientUnits="userSpaceOnUse" x1="314" y1="254.9" x2="341.8" y2="290.5"><stop offset="0.000" stop-color="#1389d3"/><stop offset="0.125" stop-color="#0a96d1"/><stop offset="0.250" stop-color="#06a1cc"/><stop offset="0.375" stop-color="#07a9c3"/><stop offset="0.500" stop-color="#12afb7"/><stop offset="0.625" stop-color="#25b5a9"/><stop offset="0.750" stop-color="#3eba9a"/><stop offset="0.875" stop-color="#5bbd8a"/><stop offset="1.000" stop-color="#7abf7c"/></linearGradient><linearGradient id="gs1_123" gradientUnits="userSpaceOnUse" x1="335.7" y1="296" x2="359.4" y2="336.2"><stop offset="0.000" stop-color="#7abf7c"/><stop offset="0.100" stop-color="#95bf71"/><stop offset="0.200" stop-color="#adbe68"/><stop offset="0.300" stop-color="#c3bc5f"/><stop offset="0.400" stop-color="#d8ba56"/><stop offset="0.500" stop-color="#ecb94c"/><stop offset="0.600" stop-color="#fdbe3e"/><stop offset="0.700" stop-color="#fdcb30"/><stop offset="0.800" stop-color="#f7d826"/><stop offset="0.900" stop-color="#f5e71b"/><stop offset="1.000" stop-color="#f9fb0e"/></linearGradient><linearGradient id="gs1_124" gradientUnits="userSpaceOnUse" x1="335.1" y1="236.2" x2="360.6" y2="282.5"><stop offset="0.000" stop-color="#1389d3"/><stop offset="0.125" stop-color="#0a96d1"/><stop offset="0.250" stop-color="#06a1cc"/><stop offset="0.375" stop-color="#07a9c3"/><stop offset="0.500" stop-color="#12afb7"/><stop offset="0.625" stop-color="#25b5a9"/><stop offset="0.750" stop-color="#3eba9a"/><stop offset="0.875" stop-color="#5bbd8a"/><stop offset="1.000" stop-color="#7abf7c"/></linearGradient><linearGradient id="gs1_125" gradientUnits="userSpaceOnUse" x1="351.4" y1="271.7" x2="362.6" y2="288.6"><stop offset="0.000" stop-color="#33b8a1"/><stop offset="0.200" stop-color="#4abc93"/><stop offset="0.400" stop-color="#65be86"/><stop offset="0.600" stop-color="#80bf7a"/><stop offset="0.800" stop-color="#97bf70"/><stop offset="1.000" stop-color="#adbe68"/></linearGradient><linearGradient id="gs1_126" gradientUnits="userSpaceOnUse" x1="292.8" y1="291.5" x2="305.1" y2="313.4"><stop offset="0.000" stop-color="#07aac1"/><stop offset="0.200" stop-color="#14b0b5"/><stop offset="0.400" stop-color="#27b5a8"/><stop offset="0.600" stop-color="#3fba99"/><stop offset="0.800" stop-color="#5cbe8a"/><stop offset="1.000" stop-color="#7abf7c"/></linearGradient><linearGradient id="gs1_127" gradientUnits="userSpaceOnUse" x1="300.8" y1="295.2" x2="331.4" y2="351.7"><stop offset="0.000" stop-color="#18b1b2"/><stop offset="0.071" stop-color="#2cb7a5"/><stop offset="0.143" stop-color="#45bb96"/><stop offset="0.214" stop-color="#62be87"/><stop offset="0.286" stop-color="#7fbf7a"/><stop offset="0.357" stop-color="#99bf70"/><stop offset="0.429" stop-color="#b0bd66"/><stop offset="0.500" stop-color="#c6bc5e"/><stop offset="0.571" stop-color="#daba55"/><stop offset="0.643" stop-color="#eeb94b"/><stop offset="0.714" stop-color="#febf3d"/><stop offset="0.786" stop-color="#fdcb30"/><stop offset="0.857" stop-color="#f7d925"/><stop offset="0.929" stop-color="#f5e81a"/><stop offset="1.000" stop-color="#f9fb0e"/></linearGradient><linearGradient id="gs1_128" gradientUnits="userSpaceOnUse" x1="550.2" y1="203" x2="548.5" y2="220.4"><stop offset="0.000" stop-color="#363297"/><stop offset="0.500" stop-color="#353eaf"/><stop offset="1.000" stop-color="#2b4bc7"/></linearGradient><linearGradient id="gs1_129" gradientUnits="userSpaceOnUse" x1="593.6" y1="207.4" x2="591.7" y2="227.1"><stop offset="0.000" stop-color="#363297"/><stop offset="0.500" stop-color="#353eaf"/><stop offset="1.000" stop-color="#2b4bc7"/></linearGradient><linearGradient id="gs1_130" gradientUnits="userSpaceOnUse" x1="600.8" y1="181.8" x2="598.2" y2="207.8"><stop offset="0.000" stop-color="#352a87"/><stop offset="1.000" stop-color="#363297"/></linearGradient><linearGradient id="gs1_131" gradientUnits="userSpaceOnUse" x1="586.4" y1="168.9" x2="568.6" y2="200.7"><stop offset="0.000" stop-color="#352a87"/><stop offset="1.000" stop-color="#363297"/></linearGradient><linearGradient id="gs1_132" gradientUnits="userSpaceOnUse" x1="557.5" y1="150.4" x2="552.2" y2="203.2"><stop offset="0.000" stop-color="#352a87"/><stop offset="1.000" stop-color="#363297"/></linearGradient><linearGradient id="gs1_133" gradientUnits="userSpaceOnUse" x1="523.6" y1="232.8" x2="505.9" y2="262.7"><stop offset="0.000" stop-color="#0860df"/><stop offset="0.200" stop-color="#046ce0"/><stop offset="0.400" stop-color="#0d75dc"/><stop offset="0.600" stop-color="#137ed7"/><stop offset="0.800" stop-color="#1487d3"/><stop offset="1.000" stop-color="#0d93d2"/></linearGradient><linearGradient id="gs1_134" gradientUnits="userSpaceOnUse" x1="531.7" y1="215" x2="521.8" y2="231.7"><stop offset="0.000" stop-color="#2b4bc7"/><stop offset="1.000" stop-color="#0860df"/></linearGradient><linearGradient id="gs1_135" gradientUnits="userSpaceOnUse" x1="650.8" y1="307" x2="673.2" y2="320.9"><stop offset="0.000" stop-color="#0770df"/><stop offset="1.000" stop-color="#0f77db"/></linearGradient><linearGradient id="gs1_137" gradientUnits="userSpaceOnUse" x1="630.9" y1="306" x2="606.8" y2="318"><stop offset="0.000" stop-color="#0770df"/><stop offset="0.500" stop-color="#0e76dc"/><stop offset="1.000" stop-color="#127cd8"/></linearGradient><linearGradient id="gs1_138" gradientUnits="userSpaceOnUse" x1="641.1" y1="325.5" x2="601.6" y2="360"><stop offset="0.000" stop-color="#0770df"/><stop offset="0.250" stop-color="#0f78db"/><stop offset="0.500" stop-color="#1480d6"/><stop offset="0.750" stop-color="#1388d3"/><stop offset="1.000" stop-color="#0d93d2"/></linearGradient><linearGradient id="gs1_139" gradientUnits="userSpaceOnUse" x1="645.1" y1="322.4" x2="666.7" y2="380.8"><stop offset="0.000" stop-color="#0770df"/><stop offset="0.333" stop-color="#1079da"/><stop offset="0.667" stop-color="#1482d5"/><stop offset="1.000" stop-color="#118cd2"/></linearGradient><linearGradient id="gs1_140" gradientUnits="userSpaceOnUse" x1="650.8" y1="327.5" x2="633.3" y2="387.3"><stop offset="0.000" stop-color="#0770df"/><stop offset="0.250" stop-color="#0f78db"/><stop offset="0.500" stop-color="#1480d6"/><stop offset="0.750" stop-color="#1388d3"/><stop offset="1.000" stop-color="#0d93d2"/></linearGradient><linearGradient id="gs1_141" gradientUnits="userSpaceOnUse" x1="534.6" y1="250" x2="534.4" y2="269.5"><stop offset="0.000" stop-color="#0770df"/><stop offset="0.250" stop-color="#0f78db"/><stop offset="0.500" stop-color="#1480d6"/><stop offset="0.750" stop-color="#1388d3"/><stop offset="1.000" stop-color="#0d93d2"/></linearGradient><linearGradient id="gs1_142" gradientUnits="userSpaceOnUse" x1="533.9" y1="239.2" x2="525.8" y2="271.5"><stop offset="0.000" stop-color="#0860df"/><stop offset="0.200" stop-color="#046ce0"/><stop offset="0.400" stop-color="#0d75dc"/><stop offset="0.600" stop-color="#137ed7"/><stop offset="0.800" stop-color="#1487d3"/><stop offset="1.000" stop-color="#0d93d2"/></linearGradient><linearGradient id="gs1_143" gradientUnits="userSpaceOnUse" x1="531.8" y1="227.4" x2="548.8" y2="243.9"><stop offset="0.000" stop-color="#2b4bc7"/><stop offset="0.333" stop-color="#105bdd"/><stop offset="0.667" stop-color="#0267e1"/><stop offset="1.000" stop-color="#0770df"/></linearGradient><linearGradient id="gs1_144" gradientUnits="userSpaceOnUse" x1="543" y1="248.4" x2="546.2" y2="255.1"><stop offset="0.000" stop-color="#0770df"/><stop offset="1.000" stop-color="#0f77db"/></linearGradient><linearGradient id="gs1_145" gradientUnits="userSpaceOnUse" x1="536.6" y1="238.5" x2="541.6" y2="249"><stop offset="0.000" stop-color="#0860df"/><stop offset="0.500" stop-color="#0269e1"/><stop offset="1.000" stop-color="#0770df"/></linearGradient><linearGradient id="gs1_146" gradientUnits="userSpaceOnUse" x1="556.6" y1="203.5" x2="551.7" y2="247.8"><stop offset="0.000" stop-color="#363297"/><stop offset="0.250" stop-color="#3341b5"/><stop offset="0.500" stop-color="#2053d4"/><stop offset="0.750" stop-color="#0265e1"/><stop offset="1.000" stop-color="#0770df"/></linearGradient><linearGradient id="gs1_147" gradientUnits="userSpaceOnUse" x1="575.8" y1="205.5" x2="567.9" y2="251"><stop offset="0.000" stop-color="#363297"/><stop offset="0.250" stop-color="#3341b5"/><stop offset="0.500" stop-color="#2053d4"/><stop offset="0.750" stop-color="#0265e1"/><stop offset="1.000" stop-color="#0770df"/></linearGradient><linearGradient id="gs1_148" gradientUnits="userSpaceOnUse" x1="584.1" y1="224.3" x2="573.8" y2="256.2"><stop offset="0.000" stop-color="#2b4bc7"/><stop offset="0.333" stop-color="#105bdd"/><stop offset="0.667" stop-color="#0267e1"/><stop offset="1.000" stop-color="#0770df"/></linearGradient><linearGradient id="gs1_149" gradientUnits="userSpaceOnUse" x1="562.6" y1="252.6" x2="560.5" y2="259"><stop offset="0.000" stop-color="#0770df"/><stop offset="1.000" stop-color="#0f77db"/></linearGradient><g id="tgs1"><polygon points="419.7,374.6 546.6,488.7 258.1,318.3" fill="url(#gs1_0)" stroke="url(#gs1_0)" stroke-width="0.8"/><polygon points="682.9,375.7 665.7,435.7 657.1,384.3" fill="url(#gs1_1)" stroke="url(#gs1_1)" stroke-width="0.8"/><polygon points="668.8,460.2 665.7,435.7 690.5,372" fill="url(#gs1_2)" stroke="url(#gs1_2)" stroke-width="0.8"/><polygon points="665.7,435.7 682.9,375.7 690.5,372" fill="url(#gs1_3)" stroke="url(#gs1_3)" stroke-width="0.8"/><polygon points="543,455 470,371.9 536.4,404.3" fill="url(#gs1_4)" stroke="url(#gs1_4)" stroke-width="0.8"/><polygon points="555.7,404.3 543,455 536.4,404.3" fill="url(#gs1_5)" stroke="url(#gs1_5)" stroke-width="0.8"/><polygon points="543,455 546.6,488.7 419.7,374.6" fill="url(#gs1_6)" stroke="url(#gs1_6)" stroke-width="0.8"/><polygon points="470,371.9 543,455 419.7,374.6" fill="url(#gs1_7)" stroke="url(#gs1_7)" stroke-width="0.8"/><polygon points="440,358 470,371.9 419.7,374.6" fill="url(#gs1_8)" stroke="url(#gs1_8)" stroke-width="0.8"/><polygon points="657.1,384.3 651.1,437.2 622.9,427.1" fill="url(#gs1_9)" stroke="url(#gs1_9)" stroke-width="0.8"/><polygon points="665.7,435.7 651.1,437.2 657.1,384.3" fill="url(#gs1_10)" stroke="url(#gs1_10)" stroke-width="0.8"/><polygon points="651.1,437.2 665.7,435.7 668.8,460.2" fill="url(#gs1_11)" stroke="url(#gs1_11)" stroke-width="0.8"/><polygon points="584.6,404.3 597.1,384.3 622.9,427.1" fill="url(#gs1_12)" stroke="url(#gs1_12)" stroke-width="0.8"/><polygon points="412.9,298.6 440,325.7 419.7,374.6" fill="url(#gs1_13)" stroke="url(#gs1_13)" stroke-width="0.8"/><polygon points="440,325.7 440,358 419.7,374.6" fill="url(#gs1_14)" stroke="url(#gs1_14)" stroke-width="0.8"/><polygon points="412.9,257.9 426.4,217.1 453.6,223.9" fill="url(#gs1_15)" stroke="url(#gs1_15)" stroke-width="0.8"/><polygon points="440,182.8 416.4,175.3 470.6,156.1" fill="url(#gs1_16)" stroke="url(#gs1_16)" stroke-width="0.8"/><polygon points="416.4,175.3 374.9,192 335,205.1" fill="url(#gs1_17)" stroke="url(#gs1_17)" stroke-width="0.8"/><polygon points="374.9,192 416.4,175.3 392,197" fill="url(#gs1_18)" stroke="url(#gs1_18)" stroke-width="0.8"/><polygon points="416.4,175.3 426.4,217.1 392,197" fill="url(#gs1_19)" stroke="url(#gs1_19)" stroke-width="0.8"/><polygon points="470,371.9 453.6,352.9 478.6,346.4" fill="url(#gs1_20)" stroke="url(#gs1_20)" stroke-width="0.8"/><polygon points="440,358 453.6,352.9 470,371.9" fill="url(#gs1_21)" stroke="url(#gs1_21)" stroke-width="0.8"/><polygon points="440,325.7 453.6,352.9 440,358" fill="url(#gs1_22)" stroke="url(#gs1_22)" stroke-width="0.8"/><polygon points="372.1,230.7 374.9,192 392,197" fill="url(#gs1_23)" stroke="url(#gs1_23)" stroke-width="0.8"/><polygon points="426.4,217.1 372.1,230.7 392,197" fill="url(#gs1_24)" stroke="url(#gs1_24)" stroke-width="0.8"/><polygon points="372.1,230.7 426.4,217.1 412.9,257.9" fill="url(#gs1_25)" stroke="url(#gs1_25)" stroke-width="0.8"/><polygon points="374.9,192 372.1,230.7 335,205.1" fill="url(#gs1_26)" stroke="url(#gs1_26)" stroke-width="0.8"/><polygon points="262.2,306.7 304.3,285 258.1,318.3" fill="url(#gs1_27)" stroke="url(#gs1_27)" stroke-width="0.8"/><polygon points="351.8,340.7 419.7,374.6 258.1,318.3" fill="url(#gs1_28)" stroke="url(#gs1_28)" stroke-width="0.8"/><polygon points="594.3,452.5 543,455 555.7,404.3" fill="url(#gs1_29)" stroke="url(#gs1_29)" stroke-width="0.8"/><polygon points="584.6,404.3 594.3,452.5 555.7,404.3" fill="url(#gs1_30)" stroke="url(#gs1_30)" stroke-width="0.8"/><polygon points="594.3,452.5 584.6,404.3 622.9,427.1" fill="url(#gs1_31)" stroke="url(#gs1_31)" stroke-width="0.8"/><polygon points="543,455 594.3,452.5 546.6,488.7" fill="url(#gs1_32)" stroke="url(#gs1_32)" stroke-width="0.8"/><polygon points="546.6,488.7 594.3,452.5 668.8,460.2" fill="url(#gs1_33)" stroke="url(#gs1_33)" stroke-width="0.8"/><polygon points="594.3,452.5 651.1,437.2 668.8,460.2" fill="url(#gs1_34)" stroke="url(#gs1_34)" stroke-width="0.8"/><polygon points="651.1,437.2 594.3,452.5 622.9,427.1" fill="url(#gs1_35)" stroke="url(#gs1_35)" stroke-width="0.8"/><polygon points="497.9,307.9 517.1,269.3 562.9,298.6" fill="url(#gs1_36)" stroke="url(#gs1_36)" stroke-width="0.8"/><polygon points="485.9,185.9 485.9,231.8 453.6,223.9" fill="url(#gs1_37)" stroke="url(#gs1_37)" stroke-width="0.8"/><polygon points="485.9,185.9 501.2,205.8 485.9,231.8" fill="url(#gs1_38)" stroke="url(#gs1_38)" stroke-width="0.8"/><polygon points="485.9,185.9 440,182.8 470.6,156.1" fill="url(#gs1_39)" stroke="url(#gs1_39)" stroke-width="0.8"/><polygon points="485.9,185.9 470.6,156.1 552.4,149.9" fill="url(#gs1_40)" stroke="url(#gs1_40)" stroke-width="0.8"/><polygon points="665.7,332.9 682.9,375.7 657.1,384.3" fill="url(#gs1_41)" stroke="url(#gs1_41)" stroke-width="0.8"/><polygon points="682.9,375.7 665.7,332.9 690.5,372" fill="url(#gs1_42)" stroke="url(#gs1_42)" stroke-width="0.8"/><polygon points="467.2,271.4 412.9,257.9 453.6,223.9" fill="url(#gs1_43)" stroke="url(#gs1_43)" stroke-width="0.8"/><polygon points="467.2,271.4 517.1,269.3 497.9,307.9" fill="url(#gs1_44)" stroke="url(#gs1_44)" stroke-width="0.8"/><polygon points="412.9,257.9 467.2,271.4 412.9,298.6" fill="url(#gs1_45)" stroke="url(#gs1_45)" stroke-width="0.8"/><polygon points="584.6,404.3 571.4,367.1 597.1,384.3" fill="url(#gs1_46)" stroke="url(#gs1_46)" stroke-width="0.8"/><polygon points="571.4,367.1 584.6,404.3 555.7,404.3" fill="url(#gs1_47)" stroke="url(#gs1_47)" stroke-width="0.8"/><polygon points="497.9,307.9 517.1,336.8 478.6,346.4" fill="url(#gs1_48)" stroke="url(#gs1_48)" stroke-width="0.8"/><polygon points="517.1,336.8 497.9,307.9 562.9,298.6" fill="url(#gs1_49)" stroke="url(#gs1_49)" stroke-width="0.8"/><polygon points="545.7,341.4 517.1,336.8 562.9,298.6" fill="url(#gs1_50)" stroke="url(#gs1_50)" stroke-width="0.8"/><polygon points="372.1,230.7 345,230.7 335,205.1" fill="url(#gs1_51)" stroke="url(#gs1_51)" stroke-width="0.8"/><polygon points="372.1,257.9 372.1,230.7 412.9,257.9" fill="url(#gs1_52)" stroke="url(#gs1_52)" stroke-width="0.8"/><polygon points="372.1,257.9 345,230.7 372.1,230.7" fill="url(#gs1_53)" stroke="url(#gs1_53)" stroke-width="0.8"/><polygon points="501.2,205.8 501.2,219.5 485.9,231.8" fill="url(#gs1_54)" stroke="url(#gs1_54)" stroke-width="0.8"/><polygon points="501.2,219.5 517.1,269.3 485.9,231.8" fill="url(#gs1_55)" stroke="url(#gs1_55)" stroke-width="0.8"/><polygon points="440,190.5 485.9,185.9 453.6,223.9" fill="url(#gs1_56)" stroke="url(#gs1_56)" stroke-width="0.8"/><polygon points="485.9,185.9 440,190.5 440,182.8" fill="url(#gs1_57)" stroke="url(#gs1_57)" stroke-width="0.8"/><polygon points="426.4,217.1 440,190.5 453.6,223.9" fill="url(#gs1_58)" stroke="url(#gs1_58)" stroke-width="0.8"/><polygon points="440,190.5 416.4,175.3 440,182.8" fill="url(#gs1_59)" stroke="url(#gs1_59)" stroke-width="0.8"/><polygon points="416.4,175.3 440,190.5 426.4,217.1" fill="url(#gs1_60)" stroke="url(#gs1_60)" stroke-width="0.8"/><polygon points="638.8,219.5 643.4,208.8 669.4,245.5" fill="url(#gs1_61)" stroke="url(#gs1_61)" stroke-width="0.8"/><polygon points="638.8,234.8 657.1,247.1 622.9,255.7" fill="url(#gs1_62)" stroke="url(#gs1_62)" stroke-width="0.8"/><polygon points="657.1,247.1 638.8,219.5 669.4,245.5" fill="url(#gs1_63)" stroke="url(#gs1_63)" stroke-width="0.8"/><polygon points="638.8,219.5 657.1,247.1 638.8,234.8" fill="url(#gs1_64)" stroke="url(#gs1_64)" stroke-width="0.8"/><polygon points="622.9,384.3 657.1,384.3 622.9,427.1" fill="url(#gs1_65)" stroke="url(#gs1_65)" stroke-width="0.8"/><polygon points="597.1,384.3 622.9,384.3 622.9,427.1" fill="url(#gs1_66)" stroke="url(#gs1_66)" stroke-width="0.8"/><polygon points="517.1,269.3 478.6,252 485.9,231.8" fill="url(#gs1_67)" stroke="url(#gs1_67)" stroke-width="0.8"/><polygon points="467.2,271.4 478.6,252 517.1,269.3" fill="url(#gs1_68)" stroke="url(#gs1_68)" stroke-width="0.8"/><polygon points="485.9,231.8 478.6,252 453.6,223.9" fill="url(#gs1_69)" stroke="url(#gs1_69)" stroke-width="0.8"/><polygon points="478.6,252 467.2,271.4 453.6,223.9" fill="url(#gs1_70)" stroke="url(#gs1_70)" stroke-width="0.8"/><polygon points="467.2,312.1 440,325.7 412.9,298.6" fill="url(#gs1_71)" stroke="url(#gs1_71)" stroke-width="0.8"/><polygon points="467.2,271.4 467.2,312.1 412.9,298.6" fill="url(#gs1_72)" stroke="url(#gs1_72)" stroke-width="0.8"/><polygon points="467.2,312.1 467.2,271.4 497.9,307.9" fill="url(#gs1_73)" stroke="url(#gs1_73)" stroke-width="0.8"/><polygon points="467.2,312.1 497.9,307.9 478.6,346.4" fill="url(#gs1_74)" stroke="url(#gs1_74)" stroke-width="0.8"/><polygon points="453.6,352.9 467.2,312.1 478.6,346.4" fill="url(#gs1_75)" stroke="url(#gs1_75)" stroke-width="0.8"/><polygon points="467.2,312.1 453.6,352.9 440,325.7" fill="url(#gs1_76)" stroke="url(#gs1_76)" stroke-width="0.8"/><polygon points="571.4,367.1 524.9,371.5 545.7,341.4" fill="url(#gs1_77)" stroke="url(#gs1_77)" stroke-width="0.8"/><polygon points="524.9,371.5 517.1,336.8 545.7,341.4" fill="url(#gs1_78)" stroke="url(#gs1_78)" stroke-width="0.8"/><polygon points="524.9,371.5 555.7,404.3 536.4,404.3" fill="url(#gs1_79)" stroke="url(#gs1_79)" stroke-width="0.8"/><polygon points="524.9,371.5 571.4,367.1 555.7,404.3" fill="url(#gs1_80)" stroke="url(#gs1_80)" stroke-width="0.8"/><polygon points="470,371.9 524.9,371.5 536.4,404.3" fill="url(#gs1_81)" stroke="url(#gs1_81)" stroke-width="0.8"/><polygon points="524.9,371.5 470,371.9 478.6,346.4" fill="url(#gs1_82)" stroke="url(#gs1_82)" stroke-width="0.8"/><polygon points="517.1,336.8 524.9,371.5 478.6,346.4" fill="url(#gs1_83)" stroke="url(#gs1_83)" stroke-width="0.8"/><polygon points="345,230.7 317.9,230.7 335,205.1" fill="url(#gs1_84)" stroke="url(#gs1_84)" stroke-width="0.8"/><polygon points="317.9,230.7 345,230.7 304.3,285" fill="url(#gs1_85)" stroke="url(#gs1_85)" stroke-width="0.8"/><polygon points="317.9,230.7 262.2,306.7 335,205.1" fill="url(#gs1_86)" stroke="url(#gs1_86)" stroke-width="0.8"/><polygon points="262.2,306.7 317.9,230.7 304.3,285" fill="url(#gs1_87)" stroke="url(#gs1_87)" stroke-width="0.8"/><polygon points="368.1,285 412.9,257.9 412.9,298.6" fill="url(#gs1_88)" stroke="url(#gs1_88)" stroke-width="0.8"/><polygon points="368.1,285 372.1,257.9 412.9,257.9" fill="url(#gs1_89)" stroke="url(#gs1_89)" stroke-width="0.8"/><polygon points="593,262.4 605.7,315.7 562.9,298.6" fill="url(#gs1_90)" stroke="url(#gs1_90)" stroke-width="0.8"/><polygon points="605.7,315.7 545.7,341.4 562.9,298.6" fill="url(#gs1_91)" stroke="url(#gs1_91)" stroke-width="0.8"/><polygon points="605.7,315.7 571.4,367.1 545.7,341.4" fill="url(#gs1_92)" stroke="url(#gs1_92)" stroke-width="0.8"/><polygon points="571.4,367.1 605.7,315.7 597.1,384.3" fill="url(#gs1_93)" stroke="url(#gs1_93)" stroke-width="0.8"/><polygon points="605.7,315.7 622.9,384.3 597.1,384.3" fill="url(#gs1_94)" stroke="url(#gs1_94)" stroke-width="0.8"/><polygon points="665.7,332.9 669,277.7 690.5,372" fill="url(#gs1_95)" stroke="url(#gs1_95)" stroke-width="0.8"/><polygon points="361.3,312.1 368.1,285 412.9,298.6" fill="url(#gs1_96)" stroke="url(#gs1_96)" stroke-width="0.8"/><polygon points="361.3,312.1 412.9,298.6 419.7,374.6" fill="url(#gs1_97)" stroke="url(#gs1_97)" stroke-width="0.8"/><polygon points="351.8,340.7 361.3,312.1 419.7,374.6" fill="url(#gs1_98)" stroke="url(#gs1_98)" stroke-width="0.8"/><polygon points="531.8,201.2 501.2,219.5 501.2,205.8" fill="url(#gs1_99)" stroke="url(#gs1_99)" stroke-width="0.8"/><polygon points="531.8,201.2 539.4,219.5 501.2,219.5" fill="url(#gs1_100)" stroke="url(#gs1_100)" stroke-width="0.8"/><polygon points="531.8,201.2 485.9,185.9 552.4,149.9" fill="url(#gs1_101)" stroke="url(#gs1_101)" stroke-width="0.8"/><polygon points="485.9,185.9 531.8,201.2 501.2,205.8" fill="url(#gs1_102)" stroke="url(#gs1_102)" stroke-width="0.8"/><polygon points="517.1,269.3 547.1,254.7 562.9,298.6" fill="url(#gs1_103)" stroke="url(#gs1_103)" stroke-width="0.8"/><polygon points="547.1,254.7 593,262.4 562.9,298.6" fill="url(#gs1_104)" stroke="url(#gs1_104)" stroke-width="0.8"/><polygon points="600.6,247.1 638.8,234.8 622.9,255.7" fill="url(#gs1_105)" stroke="url(#gs1_105)" stroke-width="0.8"/><polygon points="593,262.4 600.6,247.1 622.9,255.7" fill="url(#gs1_106)" stroke="url(#gs1_106)" stroke-width="0.8"/><polygon points="593,227.2 600.6,247.1 593,262.4" fill="url(#gs1_107)" stroke="url(#gs1_107)" stroke-width="0.8"/><polygon points="608.2,208.8 638.8,219.5 638.8,234.8" fill="url(#gs1_108)" stroke="url(#gs1_108)" stroke-width="0.8"/><polygon points="600.6,247.1 608.2,208.8 638.8,234.8" fill="url(#gs1_109)" stroke="url(#gs1_109)" stroke-width="0.8"/><polygon points="608.2,208.8 600.6,247.1 593,227.2" fill="url(#gs1_110)" stroke="url(#gs1_110)" stroke-width="0.8"/><polygon points="608.2,208.8 611.3,182.8 643.4,208.8" fill="url(#gs1_111)" stroke="url(#gs1_111)" stroke-width="0.8"/><polygon points="638.8,219.5 608.2,208.8 643.4,208.8" fill="url(#gs1_112)" stroke="url(#gs1_112)" stroke-width="0.8"/><polygon points="657.1,247.1 669,262.4 622.9,255.7" fill="url(#gs1_113)" stroke="url(#gs1_113)" stroke-width="0.8"/><polygon points="669,262.4 669,277.7 622.9,255.7" fill="url(#gs1_114)" stroke="url(#gs1_114)" stroke-width="0.8"/><polygon points="669,262.4 657.1,247.1 669.4,245.5" fill="url(#gs1_115)" stroke="url(#gs1_115)" stroke-width="0.8"/><polygon points="669,262.4 669.4,245.5 690.5,372" fill="url(#gs1_116)" stroke="url(#gs1_116)" stroke-width="0.8"/><polygon points="669,277.7 669,262.4 690.5,372" fill="url(#gs1_117)" stroke="url(#gs1_117)" stroke-width="0.8"/><polygon points="669,277.7 622.9,290 622.9,255.7" fill="url(#gs1_118)" stroke="url(#gs1_118)" stroke-width="0.8"/><polygon points="622.9,290 593,262.4 622.9,255.7" fill="url(#gs1_119)" stroke="url(#gs1_119)" stroke-width="0.8"/><polygon points="622.9,290 605.7,315.7 593,262.4" fill="url(#gs1_120)" stroke="url(#gs1_120)" stroke-width="0.8"/><polygon points="361.3,312.1 331.4,298.6 368.1,285" fill="url(#gs1_121)" stroke="url(#gs1_121)" stroke-width="0.8"/><polygon points="345,230.7 331.4,298.6 304.3,285" fill="url(#gs1_122)" stroke="url(#gs1_122)" stroke-width="0.8"/><polygon points="331.4,298.6 361.3,312.1 351.8,340.7" fill="url(#gs1_123)" stroke="url(#gs1_123)" stroke-width="0.8"/><polygon points="372.1,257.9 331.4,298.6 345,230.7" fill="url(#gs1_124)" stroke="url(#gs1_124)" stroke-width="0.8"/><polygon points="368.1,285 331.4,298.6 372.1,257.9" fill="url(#gs1_125)" stroke="url(#gs1_125)" stroke-width="0.8"/><polygon points="304.3,285 331.4,298.6 258.1,318.3" fill="url(#gs1_126)" stroke="url(#gs1_126)" stroke-width="0.8"/><polygon points="331.4,298.6 351.8,340.7 258.1,318.3" fill="url(#gs1_127)" stroke="url(#gs1_127)" stroke-width="0.8"/><polygon points="531.8,201.2 577.7,205.8 539.4,219.5" fill="url(#gs1_128)" stroke="url(#gs1_128)" stroke-width="0.8"/><polygon points="577.7,205.8 608.2,208.8 593,227.2" fill="url(#gs1_129)" stroke="url(#gs1_129)" stroke-width="0.8"/><polygon points="608.2,208.8 577.7,205.8 611.3,182.8" fill="url(#gs1_130)" stroke="url(#gs1_130)" stroke-width="0.8"/><polygon points="611.3,182.8 577.7,205.8 552.4,149.9" fill="url(#gs1_131)" stroke="url(#gs1_131)" stroke-width="0.8"/><polygon points="577.7,205.8 531.8,201.2 552.4,149.9" fill="url(#gs1_132)" stroke="url(#gs1_132)" stroke-width="0.8"/><polygon points="501.2,219.5 534.8,239.4 517.1,269.3" fill="url(#gs1_133)" stroke="url(#gs1_133)" stroke-width="0.8"/><polygon points="539.4,219.5 534.8,239.4 501.2,219.5" fill="url(#gs1_134)" stroke="url(#gs1_134)" stroke-width="0.8"/><polygon points="640,324.3 669,277.7 665.7,332.9" fill="url(#gs1_135)" stroke="url(#gs1_135)" stroke-width="0.8"/><polygon points="640,324.3 622.9,290 669,277.7" fill="#0770df" stroke="#0770df" stroke-width="0.8"/><polygon points="622.9,290 640,324.3 605.7,315.7" fill="url(#gs1_137)" stroke="url(#gs1_137)" stroke-width="0.8"/><polygon points="605.7,315.7 640,324.3 622.9,384.3" fill="url(#gs1_138)" stroke="url(#gs1_138)" stroke-width="0.8"/><polygon points="640,324.3 665.7,332.9 657.1,384.3" fill="url(#gs1_139)" stroke="url(#gs1_139)" stroke-width="0.8"/><polygon points="622.9,384.3 640,324.3 657.1,384.3" fill="url(#gs1_140)" stroke="url(#gs1_140)" stroke-width="0.8"/><polygon points="539.4,250.1 547.1,254.7 517.1,269.3" fill="url(#gs1_141)" stroke="url(#gs1_141)" stroke-width="0.8"/><polygon points="534.8,239.4 539.4,250.1 517.1,269.3" fill="url(#gs1_142)" stroke="url(#gs1_142)" stroke-width="0.8"/><polygon points="545.7,247.1 534.8,239.4 539.4,219.5" fill="url(#gs1_143)" stroke="url(#gs1_143)" stroke-width="0.8"/><polygon points="539.4,250.1 545.7,247.1 547.1,254.7" fill="url(#gs1_144)" stroke="url(#gs1_144)" stroke-width="0.8"/><polygon points="545.7,247.1 539.4,250.1 534.8,239.4" fill="url(#gs1_145)" stroke="url(#gs1_145)" stroke-width="0.8"/><polygon points="577.7,205.8 545.7,247.1 539.4,219.5" fill="url(#gs1_146)" stroke="url(#gs1_146)" stroke-width="0.8"/><polygon points="545.7,247.1 577.7,205.8 593,227.2" fill="url(#gs1_147)" stroke="url(#gs1_147)" stroke-width="0.8"/><polygon points="545.7,247.1 593,227.2 593,262.4" fill="url(#gs1_148)" stroke="url(#gs1_148)" stroke-width="0.8"/><polygon points="547.1,254.7 545.7,247.1 593,262.4" fill="url(#gs1_149)" stroke="url(#gs1_149)" stroke-width="0.8"/></g></defs><g clip-path="url(#cps1)"><use href="#tgs1"/><use href="#tgs1"/></g>
<defs><clipPath id="cps1b"><polygon points="546.6,488.7 590.4,510.4 651.2,436.1"/></clipPath><linearGradient id="gs1b_0" gradientUnits="userSpaceOnUse" x1="599.3" y1="478.8" x2="582.8" y2="458.9"><stop offset="0.000" stop-color="#18b1b2"/><stop offset="0.167" stop-color="#2eb7a4"/><stop offset="0.333" stop-color="#49bb94"/><stop offset="0.500" stop-color="#67be85"/><stop offset="0.667" stop-color="#86bf78"/><stop offset="0.833" stop-color="#a0be6d"/><stop offset="1.000" stop-color="#b8bd63"/></linearGradient><linearGradient id="gs1b_1" gradientUnits="userSpaceOnUse" x1="591.9" y1="495.7" x2="546.4" y2="491"><stop offset="0.000" stop-color="#33b8a1"/><stop offset="0.200" stop-color="#4dbc92"/><stop offset="0.400" stop-color="#6bbf83"/><stop offset="0.600" stop-color="#88bf77"/><stop offset="0.800" stop-color="#a1be6c"/><stop offset="1.000" stop-color="#b8bd63"/></linearGradient><linearGradient id="gs1b_2" gradientUnits="userSpaceOnUse" x1="623.6" y1="486" x2="584.5" y2="464.3"><stop offset="0.000" stop-color="#18b1b2"/><stop offset="0.250" stop-color="#29b6a7"/><stop offset="0.500" stop-color="#3cba9b"/><stop offset="0.750" stop-color="#53bd8f"/><stop offset="1.000" stop-color="#6bbf83"/></linearGradient><g id="tgs1b"><polygon points="651.2,436.1 575,481.4 546.6,488.7" fill="url(#gs1b_0)" stroke="url(#gs1b_0)" stroke-width="0.8"/><polygon points="575,481.4 590.4,510.4 546.6,488.7" fill="url(#gs1b_1)" stroke="url(#gs1b_1)" stroke-width="0.8"/><polygon points="590.4,510.4 575,481.4 651.2,436.1" fill="url(#gs1b_2)" stroke="url(#gs1b_2)" stroke-width="0.8"/></g></defs><g clip-path="url(#cps1b)"><use href="#tgs1b"/><use href="#tgs1b"/></g>
<line x1="90" y1="548.2" x2="90" y2="193.7" stroke="#262626" stroke-width="1.2"/>
<line x1="90" y1="548.2" x2="578.8" y2="604.7" stroke="#262626" stroke-width="1.2"/>
<line x1="578.8" y1="604.7" x2="781.3" y2="468.8" stroke="#262626" stroke-width="1.2"/>
<line x1="90" y1="548.2" x2="78" y2="547.2" stroke="#262626" stroke-width="1.2"/>
<line x1="90" y1="497.6" x2="78" y2="496.6" stroke="#262626" stroke-width="1.2"/>
<line x1="90" y1="446.9" x2="78" y2="446" stroke="#262626" stroke-width="1.2"/>
<line x1="90" y1="396.3" x2="78" y2="395.3" stroke="#262626" stroke-width="1.2"/>
<line x1="90" y1="345.6" x2="78" y2="344.7" stroke="#262626" stroke-width="1.2"/>
<line x1="90" y1="295" x2="78" y2="294" stroke="#262626" stroke-width="1.2"/>
<line x1="90" y1="244.4" x2="78" y2="243.4" stroke="#262626" stroke-width="1.2"/>
<line x1="90" y1="193.7" x2="78" y2="192.8" stroke="#262626" stroke-width="1.2"/>
<line x1="578.8" y1="604.7" x2="568.9" y2="611.4" stroke="#262626" stroke-width="1.2"/>
<line x1="456.6" y1="590.6" x2="446.7" y2="597.2" stroke="#262626" stroke-width="1.2"/>
<line x1="334.4" y1="576.5" x2="324.5" y2="583.1" stroke="#262626" stroke-width="1.2"/>
<line x1="212.2" y1="562.3" x2="202.3" y2="569" stroke="#262626" stroke-width="1.2"/>
<line x1="90" y1="548.2" x2="80.1" y2="554.9" stroke="#262626" stroke-width="1.2"/>
<line x1="578.8" y1="604.7" x2="592.2" y2="606.3" stroke="#262626" stroke-width="1.2"/>
<line x1="629.4" y1="570.7" x2="642.9" y2="572.3" stroke="#262626" stroke-width="1.2"/>
<line x1="680" y1="536.8" x2="693.5" y2="538.3" stroke="#262626" stroke-width="1.2"/>
<line x1="730.7" y1="502.8" x2="744.1" y2="504.3" stroke="#262626" stroke-width="1.2"/>
<line x1="781.3" y1="468.8" x2="794.7" y2="470.4" stroke="#262626" stroke-width="1.2"/>
<line x1="141.1" y1="1232.8" x2="633.7" y2="1289.2" stroke="#dcdcdc" stroke-width="1.0"/>
<line x1="459.5" y1="1309.4" x2="663.8" y2="1172.2" stroke="#dcdcdc" stroke-width="1.0"/>
<line x1="192.1" y1="1198.5" x2="684.8" y2="1254.9" stroke="#dcdcdc" stroke-width="1.0"/>
<line x1="336.3" y1="1295.3" x2="540.6" y2="1158.1" stroke="#dcdcdc" stroke-width="1.0"/>
<line x1="243.2" y1="1164.2" x2="735.8" y2="1220.6" stroke="#dcdcdc" stroke-width="1.0"/>
<line x1="213.2" y1="1281.2" x2="417.4" y2="1144" stroke="#dcdcdc" stroke-width="1.0"/>
<line x1="141.1" y1="1232.8" x2="141.1" y2="874.5" stroke="#dcdcdc" stroke-width="1.0"/>
<line x1="192.1" y1="1198.5" x2="192.1" y2="840.2" stroke="#dcdcdc" stroke-width="1.0"/>
<line x1="243.2" y1="1164.2" x2="243.2" y2="805.9" stroke="#dcdcdc" stroke-width="1.0"/>
<line x1="90" y1="1215.9" x2="294.3" y2="1078.7" stroke="#dcdcdc" stroke-width="1.0"/>
<line x1="90" y1="1164.7" x2="294.3" y2="1027.5" stroke="#dcdcdc" stroke-width="1.0"/>
<line x1="90" y1="1113.5" x2="294.3" y2="976.3" stroke="#dcdcdc" stroke-width="1.0"/>
<line x1="90" y1="1062.3" x2="294.3" y2="925.1" stroke="#dcdcdc" stroke-width="1.0"/>
<line x1="90" y1="1011.1" x2="294.3" y2="873.9" stroke="#dcdcdc" stroke-width="1.0"/>
<line x1="90" y1="959.9" x2="294.3" y2="822.7" stroke="#dcdcdc" stroke-width="1.0"/>
<line x1="90" y1="908.8" x2="294.3" y2="771.6" stroke="#dcdcdc" stroke-width="1.0"/>
<line x1="417.4" y1="1144" x2="417.4" y2="785.7" stroke="#dcdcdc" stroke-width="1.0"/>
<line x1="540.6" y1="1158.1" x2="540.6" y2="799.8" stroke="#dcdcdc" stroke-width="1.0"/>
<line x1="663.8" y1="1172.2" x2="663.8" y2="813.9" stroke="#dcdcdc" stroke-width="1.0"/>
<line x1="294.3" y1="1078.7" x2="786.9" y2="1135.1" stroke="#dcdcdc" stroke-width="1.0"/>
<line x1="294.3" y1="1027.5" x2="786.9" y2="1083.9" stroke="#dcdcdc" stroke-width="1.0"/>
<line x1="294.3" y1="976.3" x2="786.9" y2="1032.7" stroke="#dcdcdc" stroke-width="1.0"/>
<line x1="294.3" y1="925.1" x2="786.9" y2="981.5" stroke="#dcdcdc" stroke-width="1.0"/>
<line x1="294.3" y1="873.9" x2="786.9" y2="930.3" stroke="#dcdcdc" stroke-width="1.0"/>
<line x1="294.3" y1="822.7" x2="786.9" y2="879.1" stroke="#dcdcdc" stroke-width="1.0"/>
<line x1="294.3" y1="771.6" x2="786.9" y2="828" stroke="#dcdcdc" stroke-width="1.0"/>
<line x1="294.3" y1="1129.9" x2="294.3" y2="771.6" stroke="#a8a8a8" stroke-width="1.0"/>
<line x1="786.9" y1="1186.3" x2="786.9" y2="828" stroke="#dcdcdc" stroke-width="1.0"/>
<line x1="90" y1="1267.1" x2="294.3" y2="1129.9" stroke="#a8a8a8" stroke-width="1.0"/>
<line x1="294.3" y1="1129.9" x2="786.9" y2="1186.3" stroke="#a8a8a8" stroke-width="1.0"/>
<line x1="90" y1="908.8" x2="294.3" y2="771.6" stroke="#dcdcdc" stroke-width="1.0"/>
<line x1="294.3" y1="771.6" x2="786.9" y2="828" stroke="#dcdcdc" stroke-width="1.0"/>
<defs><clipPath id="cps2"><polygon points="259.8,1034.9 264,1025.1 337.4,920.6 415.1,889.5 474.4,871.2 556.2,865.5 615.5,899.4 591.9,917.7 610.8,982.2 643.8,1031 657.9,1100 656.5,1154.9 594.3,1228.3 550.6,1205.8 529.4,1088.6 422.1,1092.8 352.9,1057.5"/></clipPath><linearGradient id="gs2_0" gradientUnits="userSpaceOnUse" x1="339.9" y1="1072.5" x2="348" y2="1055.2"><stop offset="0.000" stop-color="#5cbe8a"/><stop offset="0.167" stop-color="#77bf7d"/><stop offset="0.333" stop-color="#91bf73"/><stop offset="0.500" stop-color="#a7be6a"/><stop offset="0.667" stop-color="#bcbd62"/><stop offset="0.833" stop-color="#cfbb5a"/><stop offset="1.000" stop-color="#e2b951"/></linearGradient><linearGradient id="gs2_1" gradientUnits="userSpaceOnUse" x1="627.4" y1="1045.5" x2="622.2" y2="1057.9"><stop offset="0.000" stop-color="#1b55d7"/><stop offset="1.000" stop-color="#0364e1"/></linearGradient><linearGradient id="gs2_2" gradientUnits="userSpaceOnUse" x1="636.1" y1="1030" x2="632.1" y2="1062"><stop offset="0.000" stop-color="#2f46bf"/><stop offset="0.500" stop-color="#1b55d7"/><stop offset="1.000" stop-color="#0364e1"/></linearGradient><linearGradient id="gs2_3" gradientUnits="userSpaceOnUse" x1="477.1" y1="1062.3" x2="427.8" y2="1100.2"><stop offset="0.000" stop-color="#33b8a1"/><stop offset="0.167" stop-color="#4fbc91"/><stop offset="0.333" stop-color="#6ebf82"/><stop offset="0.500" stop-color="#8bbf75"/><stop offset="0.667" stop-color="#a5be6b"/><stop offset="0.833" stop-color="#bdbd61"/><stop offset="1.000" stop-color="#d3bb58"/></linearGradient><linearGradient id="gs2_4" gradientUnits="userSpaceOnUse" x1="535.8" y1="1096.6" x2="516.5" y2="1112.1"><stop offset="0.000" stop-color="#0cadbb"/><stop offset="0.500" stop-color="#1db3af"/><stop offset="1.000" stop-color="#33b8a1"/></linearGradient><linearGradient id="gs2_5" gradientUnits="userSpaceOnUse" x1="580" y1="892.9" x2="586.2" y2="880.4"><stop offset="0.000" stop-color="#0f77db"/><stop offset="0.500" stop-color="#1480d6"/><stop offset="1.000" stop-color="#1389d3"/></linearGradient><linearGradient id="gs2_6" gradientUnits="userSpaceOnUse" x1="520.7" y1="934.8" x2="516.1" y2="868.3"><stop offset="0.000" stop-color="#036ae1"/><stop offset="0.333" stop-color="#0d75dc"/><stop offset="0.667" stop-color="#137fd7"/><stop offset="1.000" stop-color="#1389d3"/></linearGradient><linearGradient id="gs2_7" gradientUnits="userSpaceOnUse" x1="608.7" y1="977.3" x2="643.1" y2="962.2"><stop offset="0.000" stop-color="#352a87"/><stop offset="0.167" stop-color="#353aa8"/><stop offset="0.333" stop-color="#294cca"/><stop offset="0.500" stop-color="#0462e0"/><stop offset="0.667" stop-color="#066fdf"/><stop offset="0.833" stop-color="#1079da"/><stop offset="1.000" stop-color="#1484d4"/></linearGradient><linearGradient id="gs2_8" gradientUnits="userSpaceOnUse" x1="625.2" y1="1149.8" x2="611.9" y2="1231.2"><stop offset="0.000" stop-color="#0d93d2"/><stop offset="0.250" stop-color="#079dcf"/><stop offset="0.500" stop-color="#06a6c7"/><stop offset="0.750" stop-color="#0aacbe"/><stop offset="1.000" stop-color="#18b1b2"/></linearGradient><linearGradient id="gs2_9" gradientUnits="userSpaceOnUse" x1="404.3" y1="1121.9" x2="421.9" y2="1092.7"><stop offset="0.000" stop-color="#5cbe8a"/><stop offset="0.200" stop-color="#78bf7d"/><stop offset="0.400" stop-color="#92bf72"/><stop offset="0.600" stop-color="#a9be69"/><stop offset="0.800" stop-color="#bfbc61"/><stop offset="1.000" stop-color="#d3bb58"/></linearGradient><linearGradient id="gs2_10" gradientUnits="userSpaceOnUse" x1="512.5" y1="1111.8" x2="458.9" y2="1147.8"><stop offset="0.000" stop-color="#33b8a1"/><stop offset="0.167" stop-color="#4fbc91"/><stop offset="0.333" stop-color="#6ebf82"/><stop offset="0.500" stop-color="#8bbf75"/><stop offset="0.667" stop-color="#a5be6b"/><stop offset="0.833" stop-color="#bdbd61"/><stop offset="1.000" stop-color="#d3bb58"/></linearGradient><linearGradient id="gs2_11" gradientUnits="userSpaceOnUse" x1="661.9" y1="1044.7" x2="633.8" y2="1081.7"><stop offset="0.000" stop-color="#2f46bf"/><stop offset="0.250" stop-color="#1857d8"/><stop offset="0.500" stop-color="#0266e1"/><stop offset="0.750" stop-color="#076fdf"/><stop offset="1.000" stop-color="#0f77db"/></linearGradient><linearGradient id="gs2_12" gradientUnits="userSpaceOnUse" x1="630.4" y1="1049.3" x2="642.2" y2="1057.9"><stop offset="0.000" stop-color="#2f46bf"/><stop offset="0.333" stop-color="#1757d9"/><stop offset="0.667" stop-color="#0266e1"/><stop offset="1.000" stop-color="#0770df"/></linearGradient><linearGradient id="gs2_13" gradientUnits="userSpaceOnUse" x1="628.3" y1="1058.4" x2="625.4" y2="1063"><stop offset="0.000" stop-color="#0860df"/><stop offset="0.500" stop-color="#0269e1"/><stop offset="1.000" stop-color="#0770df"/></linearGradient><linearGradient id="gs2_14" gradientUnits="userSpaceOnUse" x1="586.8" y1="913.4" x2="605.6" y2="891.1"><stop offset="0.000" stop-color="#0770df"/><stop offset="0.500" stop-color="#117ada"/><stop offset="1.000" stop-color="#1484d4"/></linearGradient><linearGradient id="gs2_15" gradientUnits="userSpaceOnUse" x1="591.8" y1="909.6" x2="579.1" y2="909.9"><stop offset="0.000" stop-color="#0770df"/><stop offset="1.000" stop-color="#0f77db"/></linearGradient><linearGradient id="gs2_16" gradientUnits="userSpaceOnUse" x1="532.5" y1="928" x2="549" y2="953.2"><stop offset="0.000" stop-color="#036ae1"/><stop offset="0.500" stop-color="#0871de"/><stop offset="1.000" stop-color="#0f77db"/></linearGradient><linearGradient id="gs2_17" gradientUnits="userSpaceOnUse" x1="555.5" y1="913.2" x2="579.2" y2="912.8"><stop offset="0.000" stop-color="#0770df"/><stop offset="1.000" stop-color="#0f77db"/></linearGradient><linearGradient id="gs2_18" gradientUnits="userSpaceOnUse" x1="576.1" y1="912.6" x2="547.2" y2="872"><stop offset="0.000" stop-color="#0770df"/><stop offset="0.333" stop-color="#0f78db"/><stop offset="0.667" stop-color="#1480d6"/><stop offset="1.000" stop-color="#1389d3"/></linearGradient><linearGradient id="gs2_19" gradientUnits="userSpaceOnUse" x1="540.7" y1="937.3" x2="551.2" y2="864.8"><stop offset="0.000" stop-color="#036ae1"/><stop offset="0.333" stop-color="#0d75dc"/><stop offset="0.667" stop-color="#137fd7"/><stop offset="1.000" stop-color="#1389d3"/></linearGradient><linearGradient id="gs2_20" gradientUnits="userSpaceOnUse" x1="446.5" y1="919.1" x2="439.6" y2="876.8"><stop offset="0.000" stop-color="#0770df"/><stop offset="0.333" stop-color="#0f78db"/><stop offset="0.667" stop-color="#1480d6"/><stop offset="1.000" stop-color="#1389d3"/></linearGradient><linearGradient id="gs2_21" gradientUnits="userSpaceOnUse" x1="387.9" y1="912.7" x2="377.7" y2="896"><stop offset="0.000" stop-color="#0770df"/><stop offset="0.143" stop-color="#117ada"/><stop offset="0.286" stop-color="#1484d4"/><stop offset="0.429" stop-color="#0f8fd2"/><stop offset="0.571" stop-color="#079cd0"/><stop offset="0.714" stop-color="#06a5c9"/><stop offset="0.857" stop-color="#09acbe"/><stop offset="1.000" stop-color="#18b1b2"/></linearGradient><linearGradient id="gs2_22" gradientUnits="userSpaceOnUse" x1="439.7" y1="923.3" x2="486.9" y2="888"><stop offset="0.000" stop-color="#0770df"/><stop offset="0.333" stop-color="#0f78db"/><stop offset="0.667" stop-color="#1480d6"/><stop offset="1.000" stop-color="#1389d3"/></linearGradient><linearGradient id="gs2_23" gradientUnits="userSpaceOnUse" x1="289.1" y1="980.1" x2="298.7" y2="988"><stop offset="0.000" stop-color="#18b1b2"/><stop offset="0.500" stop-color="#2ab6a6"/><stop offset="1.000" stop-color="#3fba99"/></linearGradient><linearGradient id="gs2_24" gradientUnits="userSpaceOnUse" x1="394.9" y1="925.7" x2="338.2" y2="916.2"><stop offset="0.000" stop-color="#0770df"/><stop offset="0.143" stop-color="#117ada"/><stop offset="0.286" stop-color="#1484d4"/><stop offset="0.429" stop-color="#0f8fd2"/><stop offset="0.571" stop-color="#079cd0"/><stop offset="0.714" stop-color="#06a5c9"/><stop offset="0.857" stop-color="#09acbe"/><stop offset="1.000" stop-color="#18b1b2"/></linearGradient><linearGradient id="gs2_25" gradientUnits="userSpaceOnUse" x1="313.8" y1="970.3" x2="302.8" y2="965.1"><stop offset="0.000" stop-color="#18b1b2"/><stop offset="0.500" stop-color="#2ab6a6"/><stop offset="1.000" stop-color="#3fba99"/></linearGradient><linearGradient id="gs2_26" gradientUnits="userSpaceOnUse" x1="352" y1="951.8" x2="328" y2="940.4"><stop offset="0.000" stop-color="#079cd0"/><stop offset="0.333" stop-color="#06a5c9"/><stop offset="0.667" stop-color="#09acbe"/><stop offset="1.000" stop-color="#18b1b2"/></linearGradient><linearGradient id="gs2_27" gradientUnits="userSpaceOnUse" x1="342" y1="937.7" x2="348.5" y2="979.9"><stop offset="0.000" stop-color="#079cd0"/><stop offset="0.250" stop-color="#06a4c9"/><stop offset="0.500" stop-color="#08abc0"/><stop offset="0.750" stop-color="#15b0b5"/><stop offset="1.000" stop-color="#27b5a8"/></linearGradient><linearGradient id="gs2_28" gradientUnits="userSpaceOnUse" x1="571.3" y1="1084.1" x2="543.7" y2="1106.4"><stop offset="0.000" stop-color="#0d93d2"/><stop offset="0.333" stop-color="#069ece"/><stop offset="0.667" stop-color="#06a6c6"/><stop offset="1.000" stop-color="#0cadbb"/></linearGradient><linearGradient id="gs2_29" gradientUnits="userSpaceOnUse" x1="559.1" y1="1062.6" x2="524.6" y2="1077.1"><stop offset="0.000" stop-color="#0d93d2"/><stop offset="0.333" stop-color="#069ece"/><stop offset="0.667" stop-color="#06a6c6"/><stop offset="1.000" stop-color="#0cadbb"/></linearGradient><linearGradient id="gs2_30" gradientUnits="userSpaceOnUse" x1="567.5" y1="955.4" x2="556.6" y2="968.8"><stop offset="0.000" stop-color="#1b55d7"/><stop offset="0.333" stop-color="#0265e1"/><stop offset="0.667" stop-color="#066fdf"/><stop offset="1.000" stop-color="#0f77db"/></linearGradient><linearGradient id="gs2_31" gradientUnits="userSpaceOnUse" x1="607.8" y1="977.6" x2="593.6" y2="986.8"><stop offset="0.000" stop-color="#352a87"/><stop offset="0.500" stop-color="#36349b"/><stop offset="1.000" stop-color="#353eaf"/></linearGradient><linearGradient id="gs2_32" gradientUnits="userSpaceOnUse" x1="584.3" y1="965.5" x2="570.5" y2="973.9"><stop offset="0.000" stop-color="#363aa7"/><stop offset="0.250" stop-color="#2e47c1"/><stop offset="0.500" stop-color="#1658da"/><stop offset="0.750" stop-color="#0266e1"/><stop offset="1.000" stop-color="#0770df"/></linearGradient><linearGradient id="gs2_33" gradientUnits="userSpaceOnUse" x1="631.1" y1="1025.4" x2="630.2" y2="1045.3"><stop offset="0.000" stop-color="#3342b7"/><stop offset="1.000" stop-color="#1b55d7"/></linearGradient><linearGradient id="gs2_34" gradientUnits="userSpaceOnUse" x1="626.2" y1="1026.6" x2="617.1" y2="1050.8"><stop offset="0.000" stop-color="#3342b7"/><stop offset="0.500" stop-color="#2450cf"/><stop offset="1.000" stop-color="#0860df"/></linearGradient><linearGradient id="gs2_35" gradientUnits="userSpaceOnUse" x1="591.9" y1="984.7" x2="550.6" y2="984.8"><stop offset="0.000" stop-color="#2b4bc7"/><stop offset="0.200" stop-color="#0d5dde"/><stop offset="0.400" stop-color="#026ae1"/><stop offset="0.600" stop-color="#0a73dd"/><stop offset="0.800" stop-color="#117bd9"/><stop offset="1.000" stop-color="#1484d4"/></linearGradient><linearGradient id="gs2_36" gradientUnits="userSpaceOnUse" x1="594.8" y1="984.9" x2="590.5" y2="986.8"><stop offset="0.000" stop-color="#363aa7"/><stop offset="1.000" stop-color="#2b4bc7"/></linearGradient><linearGradient id="gs2_37" gradientUnits="userSpaceOnUse" x1="591.2" y1="976.7" x2="575.7" y2="984.4"><stop offset="0.000" stop-color="#363aa7"/><stop offset="0.250" stop-color="#2e47c1"/><stop offset="0.500" stop-color="#1658da"/><stop offset="0.750" stop-color="#0266e1"/><stop offset="1.000" stop-color="#0770df"/></linearGradient><linearGradient id="gs2_38" gradientUnits="userSpaceOnUse" x1="654.5" y1="1098.4" x2="633.5" y2="1144.4"><stop offset="0.000" stop-color="#0f77db"/><stop offset="0.333" stop-color="#137fd6"/><stop offset="0.667" stop-color="#1388d3"/><stop offset="1.000" stop-color="#0d93d2"/></linearGradient><linearGradient id="gs2_39" gradientUnits="userSpaceOnUse" x1="628.9" y1="1142.3" x2="612.9" y2="1177.4"><stop offset="0.000" stop-color="#0d93d2"/><stop offset="0.500" stop-color="#089ad0"/><stop offset="1.000" stop-color="#06a0cd"/></linearGradient><linearGradient id="gs2_40" gradientUnits="userSpaceOnUse" x1="560.2" y1="1122.1" x2="518.7" y2="1140.3"><stop offset="0.000" stop-color="#0cadbb"/><stop offset="0.500" stop-color="#1db3af"/><stop offset="1.000" stop-color="#33b8a1"/></linearGradient><linearGradient id="gs2_41" gradientUnits="userSpaceOnUse" x1="547.6" y1="1147.8" x2="523.5" y2="1163.2"><stop offset="0.000" stop-color="#18b1b2"/><stop offset="0.250" stop-color="#29b6a7"/><stop offset="0.500" stop-color="#3cba9b"/><stop offset="0.750" stop-color="#53bd8f"/><stop offset="1.000" stop-color="#6bbf83"/></linearGradient><linearGradient id="gs2_42" gradientUnits="userSpaceOnUse" x1="610.3" y1="1180.6" x2="577.9" y2="1198.6"><stop offset="0.000" stop-color="#06a0cd"/><stop offset="0.333" stop-color="#06a7c5"/><stop offset="0.667" stop-color="#0badbc"/><stop offset="1.000" stop-color="#18b1b2"/></linearGradient><linearGradient id="gs2_43" gradientUnits="userSpaceOnUse" x1="577.9" y1="1198.5" x2="553.9" y2="1211.8"><stop offset="0.000" stop-color="#18b1b2"/><stop offset="0.250" stop-color="#29b6a7"/><stop offset="0.500" stop-color="#3cba9b"/><stop offset="0.750" stop-color="#53bd8f"/><stop offset="1.000" stop-color="#6bbf83"/></linearGradient><linearGradient id="gs2_44" gradientUnits="userSpaceOnUse" x1="572.2" y1="953.4" x2="543.8" y2="949.2"><stop offset="0.000" stop-color="#1b55d7"/><stop offset="0.333" stop-color="#0265e1"/><stop offset="0.667" stop-color="#066fdf"/><stop offset="1.000" stop-color="#0f77db"/></linearGradient><linearGradient id="gs2_45" gradientUnits="userSpaceOnUse" x1="565.1" y1="942.6" x2="545.2" y2="939.7"><stop offset="0.000" stop-color="#0364e1"/><stop offset="0.500" stop-color="#066edf"/><stop offset="1.000" stop-color="#0f77db"/></linearGradient><linearGradient id="gs2_46" gradientUnits="userSpaceOnUse" x1="566.7" y1="938.6" x2="567.1" y2="919"><stop offset="0.000" stop-color="#0364e1"/><stop offset="0.500" stop-color="#066edf"/><stop offset="1.000" stop-color="#0f77db"/></linearGradient><linearGradient id="gs2_47" gradientUnits="userSpaceOnUse" x1="493.2" y1="994.2" x2="478.3" y2="999.1"><stop offset="0.000" stop-color="#1b55d7"/><stop offset="0.200" stop-color="#0266e1"/><stop offset="0.400" stop-color="#0870df"/><stop offset="0.600" stop-color="#1079da"/><stop offset="0.800" stop-color="#1482d5"/><stop offset="1.000" stop-color="#118cd2"/></linearGradient><linearGradient id="gs2_48" gradientUnits="userSpaceOnUse" x1="497.8" y1="992.6" x2="504" y2="997.9"><stop offset="0.000" stop-color="#1b55d7"/><stop offset="0.500" stop-color="#0266e1"/><stop offset="1.000" stop-color="#0770df"/></linearGradient><linearGradient id="gs2_50" gradientUnits="userSpaceOnUse" x1="407.4" y1="905.5" x2="405.7" y2="890.6"><stop offset="0.000" stop-color="#0770df"/><stop offset="0.500" stop-color="#117ada"/><stop offset="1.000" stop-color="#1484d4"/></linearGradient><linearGradient id="gs2_51" gradientUnits="userSpaceOnUse" x1="417" y1="910.8" x2="424.9" y2="894.2"><stop offset="0.000" stop-color="#0770df"/><stop offset="0.500" stop-color="#117ada"/><stop offset="1.000" stop-color="#1484d4"/></linearGradient><linearGradient id="gs2_52" gradientUnits="userSpaceOnUse" x1="522.4" y1="916.3" x2="474.2" y2="916.2"><stop offset="0.000" stop-color="#036ae1"/><stop offset="0.333" stop-color="#0d75dc"/><stop offset="0.667" stop-color="#137fd7"/><stop offset="1.000" stop-color="#1389d3"/></linearGradient><linearGradient id="gs2_53" gradientUnits="userSpaceOnUse" x1="481" y1="942.9" x2="481" y2="871.2"><stop offset="0.000" stop-color="#0770df"/><stop offset="0.333" stop-color="#0f78db"/><stop offset="0.667" stop-color="#1480d6"/><stop offset="1.000" stop-color="#1389d3"/></linearGradient><linearGradient id="gs2_54" gradientUnits="userSpaceOnUse" x1="527" y1="935" x2="525.8" y2="956.5"><stop offset="0.000" stop-color="#036ae1"/><stop offset="0.500" stop-color="#0871de"/><stop offset="1.000" stop-color="#0f77db"/></linearGradient><linearGradient id="gs2_55" gradientUnits="userSpaceOnUse" x1="337.1" y1="973.6" x2="341.2" y2="1005"><stop offset="0.000" stop-color="#18b1b2"/><stop offset="0.250" stop-color="#29b6a7"/><stop offset="0.500" stop-color="#3cba9b"/><stop offset="0.750" stop-color="#53bd8f"/><stop offset="1.000" stop-color="#6bbf83"/></linearGradient><linearGradient id="gs2_56" gradientUnits="userSpaceOnUse" x1="304.2" y1="979.4" x2="316.6" y2="1013.4"><stop offset="0.000" stop-color="#18b1b2"/><stop offset="0.250" stop-color="#29b6a7"/><stop offset="0.500" stop-color="#3cba9b"/><stop offset="0.750" stop-color="#53bd8f"/><stop offset="1.000" stop-color="#6bbf83"/></linearGradient><linearGradient id="gs2_57" gradientUnits="userSpaceOnUse" x1="444.3" y1="940.2" x2="434.7" y2="975.4"><stop offset="0.000" stop-color="#0770df"/><stop offset="0.125" stop-color="#117ad9"/><stop offset="0.250" stop-color="#1484d4"/><stop offset="0.375" stop-color="#0e91d2"/><stop offset="0.500" stop-color="#079dcf"/><stop offset="0.625" stop-color="#06a6c7"/><stop offset="0.750" stop-color="#0badbc"/><stop offset="0.875" stop-color="#1cb3af"/><stop offset="1.000" stop-color="#33b8a1"/></linearGradient><linearGradient id="gs2_58" gradientUnits="userSpaceOnUse" x1="447.5" y1="933.8" x2="406.4" y2="964.5"><stop offset="0.000" stop-color="#0770df"/><stop offset="0.125" stop-color="#117ad9"/><stop offset="0.250" stop-color="#1484d4"/><stop offset="0.375" stop-color="#0e91d2"/><stop offset="0.500" stop-color="#079dcf"/><stop offset="0.625" stop-color="#06a6c7"/><stop offset="0.750" stop-color="#0badbc"/><stop offset="0.875" stop-color="#1cb3af"/><stop offset="1.000" stop-color="#33b8a1"/></linearGradient><linearGradient id="gs2_59" gradientUnits="userSpaceOnUse" x1="421.2" y1="914.7" x2="402.8" y2="966.2"><stop offset="0.000" stop-color="#0770df"/><stop offset="0.125" stop-color="#117ad9"/><stop offset="0.250" stop-color="#1484d4"/><stop offset="0.375" stop-color="#0e91d2"/><stop offset="0.500" stop-color="#079dcf"/><stop offset="0.625" stop-color="#06a6c7"/><stop offset="0.750" stop-color="#0badbc"/><stop offset="0.875" stop-color="#1cb3af"/><stop offset="1.000" stop-color="#33b8a1"/></linearGradient><linearGradient id="gs2_60" gradientUnits="userSpaceOnUse" x1="390.3" y1="906.2" x2="388" y2="967.8"><stop offset="0.000" stop-color="#0770df"/><stop offset="0.125" stop-color="#117ad9"/><stop offset="0.250" stop-color="#1484d4"/><stop offset="0.375" stop-color="#0e91d2"/><stop offset="0.500" stop-color="#079dcf"/><stop offset="0.625" stop-color="#06a6c7"/><stop offset="0.750" stop-color="#0badbc"/><stop offset="0.875" stop-color="#1cb3af"/><stop offset="1.000" stop-color="#33b8a1"/></linearGradient><linearGradient id="gs2_61" gradientUnits="userSpaceOnUse" x1="369.2" y1="931.9" x2="384.5" y2="977"><stop offset="0.000" stop-color="#079cd0"/><stop offset="0.200" stop-color="#06a3ca"/><stop offset="0.400" stop-color="#07aac2"/><stop offset="0.600" stop-color="#10afb8"/><stop offset="0.800" stop-color="#20b4ad"/><stop offset="1.000" stop-color="#33b8a1"/></linearGradient><linearGradient id="gs2_62" gradientUnits="userSpaceOnUse" x1="524.7" y1="970.1" x2="542.6" y2="980.7"><stop offset="0.000" stop-color="#0770df"/><stop offset="0.500" stop-color="#1078da"/><stop offset="1.000" stop-color="#1481d6"/></linearGradient><linearGradient id="gs2_63" gradientUnits="userSpaceOnUse" x1="563.1" y1="963.2" x2="537.4" y2="981.3"><stop offset="0.000" stop-color="#0770df"/><stop offset="0.500" stop-color="#1078da"/><stop offset="1.000" stop-color="#1481d6"/></linearGradient><linearGradient id="gs2_64" gradientUnits="userSpaceOnUse" x1="557.7" y1="969.3" x2="551.1" y2="991.3"><stop offset="0.000" stop-color="#0770df"/><stop offset="0.500" stop-color="#117ada"/><stop offset="1.000" stop-color="#1484d4"/></linearGradient><linearGradient id="gs2_65" gradientUnits="userSpaceOnUse" x1="492.6" y1="984.5" x2="516.8" y2="981.5"><stop offset="0.000" stop-color="#1b55d7"/><stop offset="0.500" stop-color="#0266e1"/><stop offset="1.000" stop-color="#0770df"/></linearGradient><linearGradient id="gs2_66" gradientUnits="userSpaceOnUse" x1="508.9" y1="966" x2="538.3" y2="973.8"><stop offset="0.000" stop-color="#036ae1"/><stop offset="0.500" stop-color="#0871de"/><stop offset="1.000" stop-color="#0f77db"/></linearGradient><linearGradient id="gs2_67" gradientUnits="userSpaceOnUse" x1="505.9" y1="962" x2="539.8" y2="949.7"><stop offset="0.000" stop-color="#036ae1"/><stop offset="0.500" stop-color="#0871de"/><stop offset="1.000" stop-color="#0f77db"/></linearGradient><linearGradient id="gs2_68" gradientUnits="userSpaceOnUse" x1="612.4" y1="979.9" x2="584.7" y2="961.5"><stop offset="0.000" stop-color="#352a87"/><stop offset="0.500" stop-color="#3638a3"/><stop offset="1.000" stop-color="#2f46bf"/></linearGradient><linearGradient id="gs2_69" gradientUnits="userSpaceOnUse" x1="594.2" y1="976.1" x2="621.6" y2="901.6"><stop offset="0.000" stop-color="#352a87"/><stop offset="0.167" stop-color="#353aa8"/><stop offset="0.333" stop-color="#294cca"/><stop offset="0.500" stop-color="#0462e0"/><stop offset="0.667" stop-color="#066fdf"/><stop offset="0.833" stop-color="#1079da"/><stop offset="1.000" stop-color="#1484d4"/></linearGradient><linearGradient id="gs2_70" gradientUnits="userSpaceOnUse" x1="589.2" y1="950.6" x2="609.2" y2="897.1"><stop offset="0.000" stop-color="#2f46bf"/><stop offset="0.200" stop-color="#1559da"/><stop offset="0.400" stop-color="#0268e1"/><stop offset="0.600" stop-color="#0972de"/><stop offset="0.800" stop-color="#117bd9"/><stop offset="1.000" stop-color="#1484d4"/></linearGradient><linearGradient id="gs2_71" gradientUnits="userSpaceOnUse" x1="596.1" y1="969.3" x2="573.4" y2="955.5"><stop offset="0.000" stop-color="#363aa7"/><stop offset="0.500" stop-color="#2f46bf"/><stop offset="1.000" stop-color="#1b55d7"/></linearGradient><linearGradient id="gs2_72" gradientUnits="userSpaceOnUse" x1="588.9" y1="956.2" x2="563.5" y2="942.9"><stop offset="0.000" stop-color="#2f46bf"/><stop offset="0.500" stop-color="#1b55d7"/><stop offset="1.000" stop-color="#0364e1"/></linearGradient><linearGradient id="gs2_73" gradientUnits="userSpaceOnUse" x1="600.2" y1="943.3" x2="578.7" y2="919.9"><stop offset="0.000" stop-color="#2f46bf"/><stop offset="0.250" stop-color="#1857d8"/><stop offset="0.500" stop-color="#0266e1"/><stop offset="0.750" stop-color="#076fdf"/><stop offset="1.000" stop-color="#0f77db"/></linearGradient><linearGradient id="gs2_74" gradientUnits="userSpaceOnUse" x1="580.4" y1="952.5" x2="577.1" y2="919.5"><stop offset="0.000" stop-color="#2f46bf"/><stop offset="0.250" stop-color="#1857d8"/><stop offset="0.500" stop-color="#0266e1"/><stop offset="0.750" stop-color="#076fdf"/><stop offset="1.000" stop-color="#0f77db"/></linearGradient><linearGradient id="gs2_75" gradientUnits="userSpaceOnUse" x1="618.8" y1="1010.9" x2="608.8" y2="1019.1"><stop offset="0.000" stop-color="#363297"/><stop offset="0.500" stop-color="#3342b7"/><stop offset="1.000" stop-color="#1b55d7"/></linearGradient><linearGradient id="gs2_76" gradientUnits="userSpaceOnUse" x1="612.5" y1="988.1" x2="596.5" y2="992.7"><stop offset="0.000" stop-color="#352a87"/><stop offset="0.500" stop-color="#36349b"/><stop offset="1.000" stop-color="#353eaf"/></linearGradient><linearGradient id="gs2_77" gradientUnits="userSpaceOnUse" x1="616.2" y1="981.1" x2="627.5" y2="1034.4"><stop offset="0.000" stop-color="#352a87"/><stop offset="0.500" stop-color="#3638a3"/><stop offset="1.000" stop-color="#2f46bf"/></linearGradient><linearGradient id="gs2_78" gradientUnits="userSpaceOnUse" x1="624.1" y1="998.1" x2="625.2" y2="1031.6"><stop offset="0.000" stop-color="#363297"/><stop offset="0.500" stop-color="#353cab"/><stop offset="1.000" stop-color="#2f46bf"/></linearGradient><linearGradient id="gs2_79" gradientUnits="userSpaceOnUse" x1="600.6" y1="991" x2="596.9" y2="994.8"><stop offset="0.000" stop-color="#363297"/><stop offset="0.500" stop-color="#353eaf"/><stop offset="1.000" stop-color="#2b4bc7"/></linearGradient><linearGradient id="gs2_80" gradientUnits="userSpaceOnUse" x1="621.9" y1="1024.9" x2="606.8" y2="1043.3"><stop offset="0.000" stop-color="#3342b7"/><stop offset="0.500" stop-color="#2450cf"/><stop offset="1.000" stop-color="#0860df"/></linearGradient><linearGradient id="gs2_81" gradientUnits="userSpaceOnUse" x1="614.1" y1="1026.1" x2="613.5" y2="1021.1"><stop offset="0.000" stop-color="#3342b7"/><stop offset="1.000" stop-color="#1b55d7"/></linearGradient><linearGradient id="gs2_82" gradientUnits="userSpaceOnUse" x1="615.9" y1="1032.6" x2="565.6" y2="1076.9"><stop offset="0.000" stop-color="#2b4bc7"/><stop offset="0.167" stop-color="#0b5edf"/><stop offset="0.333" stop-color="#036be0"/><stop offset="0.500" stop-color="#0d75dc"/><stop offset="0.667" stop-color="#137ed7"/><stop offset="0.833" stop-color="#1487d3"/><stop offset="1.000" stop-color="#0d93d2"/></linearGradient><linearGradient id="gs2_83" gradientUnits="userSpaceOnUse" x1="610.8" y1="1029.3" x2="547.4" y2="1057.9"><stop offset="0.000" stop-color="#2b4bc7"/><stop offset="0.167" stop-color="#0760e0"/><stop offset="0.333" stop-color="#056ee0"/><stop offset="0.500" stop-color="#1078da"/><stop offset="0.667" stop-color="#1483d5"/><stop offset="0.833" stop-color="#108fd2"/><stop offset="1.000" stop-color="#079cd0"/></linearGradient><linearGradient id="gs2_84" gradientUnits="userSpaceOnUse" x1="605.7" y1="1014.1" x2="611.9" y2="1015.3"><stop offset="0.000" stop-color="#363297"/><stop offset="0.500" stop-color="#3342b7"/><stop offset="1.000" stop-color="#1b55d7"/></linearGradient><linearGradient id="gs2_85" gradientUnits="userSpaceOnUse" x1="609.8" y1="1001" x2="599.7" y2="1006"><stop offset="0.000" stop-color="#363297"/><stop offset="0.500" stop-color="#353eaf"/><stop offset="1.000" stop-color="#2b4bc7"/></linearGradient><linearGradient id="gs2_86" gradientUnits="userSpaceOnUse" x1="607.6" y1="1104.6" x2="577.3" y2="1142.5"><stop offset="0.000" stop-color="#0f77db"/><stop offset="0.167" stop-color="#1480d6"/><stop offset="0.333" stop-color="#128ad3"/><stop offset="0.500" stop-color="#0a96d1"/><stop offset="0.667" stop-color="#06a0cd"/><stop offset="0.833" stop-color="#06a7c5"/><stop offset="1.000" stop-color="#0cadbb"/></linearGradient><linearGradient id="gs2_87" gradientUnits="userSpaceOnUse" x1="600.3" y1="1092.1" x2="556" y2="1116.9"><stop offset="0.000" stop-color="#0f77db"/><stop offset="0.167" stop-color="#1480d6"/><stop offset="0.333" stop-color="#128ad3"/><stop offset="0.500" stop-color="#0a96d1"/><stop offset="0.667" stop-color="#06a0cd"/><stop offset="0.833" stop-color="#06a7c5"/><stop offset="1.000" stop-color="#0cadbb"/></linearGradient><linearGradient id="gs2_88" gradientUnits="userSpaceOnUse" x1="606.8" y1="1055.1" x2="628.9" y2="1090.5"><stop offset="0.000" stop-color="#0860df"/><stop offset="0.500" stop-color="#056de0"/><stop offset="1.000" stop-color="#0f77db"/></linearGradient><linearGradient id="gs2_89" gradientUnits="userSpaceOnUse" x1="621.1" y1="1068" x2="568.1" y2="1086"><stop offset="0.000" stop-color="#0860df"/><stop offset="0.200" stop-color="#046ce0"/><stop offset="0.400" stop-color="#0d75dc"/><stop offset="0.600" stop-color="#137ed7"/><stop offset="0.800" stop-color="#1487d3"/><stop offset="1.000" stop-color="#0d93d2"/></linearGradient><linearGradient id="gs2_90" gradientUnits="userSpaceOnUse" x1="631.3" y1="1068.9" x2="634" y2="1101.9"><stop offset="0.000" stop-color="#0770df"/><stop offset="1.000" stop-color="#0f77db"/></linearGradient><linearGradient id="gs2_91" gradientUnits="userSpaceOnUse" x1="623.2" y1="1102.8" x2="625.5" y2="1130.9"><stop offset="0.000" stop-color="#0f77db"/><stop offset="0.333" stop-color="#137fd6"/><stop offset="0.667" stop-color="#1388d3"/><stop offset="1.000" stop-color="#0d93d2"/></linearGradient><linearGradient id="gs2_92" gradientUnits="userSpaceOnUse" x1="502.8" y1="1020" x2="466.2" y2="1048"><stop offset="0.000" stop-color="#036ae1"/><stop offset="0.111" stop-color="#0c75dd"/><stop offset="0.222" stop-color="#137ed7"/><stop offset="0.333" stop-color="#1388d3"/><stop offset="0.444" stop-color="#0c94d2"/><stop offset="0.556" stop-color="#069fce"/><stop offset="0.667" stop-color="#06a7c5"/><stop offset="0.778" stop-color="#0dadbb"/><stop offset="0.889" stop-color="#1db3af"/><stop offset="1.000" stop-color="#33b8a1"/></linearGradient><linearGradient id="gs2_93" gradientUnits="userSpaceOnUse" x1="505.4" y1="1005.4" x2="510.8" y2="1045.4"><stop offset="0.000" stop-color="#036ae1"/><stop offset="0.200" stop-color="#0b74dd"/><stop offset="0.400" stop-color="#127dd8"/><stop offset="0.600" stop-color="#1486d4"/><stop offset="0.800" stop-color="#0e91d2"/><stop offset="1.000" stop-color="#079cd0"/></linearGradient><linearGradient id="gs2_94" gradientUnits="userSpaceOnUse" x1="496.5" y1="1050.8" x2="478.8" y2="1064.4"><stop offset="0.000" stop-color="#079cd0"/><stop offset="0.200" stop-color="#06a3ca"/><stop offset="0.400" stop-color="#07aac2"/><stop offset="0.600" stop-color="#10afb8"/><stop offset="0.800" stop-color="#20b4ad"/><stop offset="1.000" stop-color="#33b8a1"/></linearGradient><linearGradient id="gs2_95" gradientUnits="userSpaceOnUse" x1="481.5" y1="1002.8" x2="438.7" y2="1021.9"><stop offset="0.000" stop-color="#118cd2"/><stop offset="0.143" stop-color="#0998d1"/><stop offset="0.286" stop-color="#06a2cb"/><stop offset="0.429" stop-color="#07a9c2"/><stop offset="0.571" stop-color="#11afb7"/><stop offset="0.714" stop-color="#23b5ab"/><stop offset="0.857" stop-color="#3ab99d"/><stop offset="1.000" stop-color="#55bd8e"/></linearGradient><linearGradient id="gs2_96" gradientUnits="userSpaceOnUse" x1="492.9" y1="1007.2" x2="451.7" y2="1013.9"><stop offset="0.000" stop-color="#036ae1"/><stop offset="0.111" stop-color="#0c75dd"/><stop offset="0.222" stop-color="#137ed7"/><stop offset="0.333" stop-color="#1388d3"/><stop offset="0.444" stop-color="#0c94d2"/><stop offset="0.556" stop-color="#069fce"/><stop offset="0.667" stop-color="#06a7c5"/><stop offset="0.778" stop-color="#0dadbb"/><stop offset="0.889" stop-color="#1db3af"/><stop offset="1.000" stop-color="#33b8a1"/></linearGradient><linearGradient id="gs2_97" gradientUnits="userSpaceOnUse" x1="492.9" y1="1007.1" x2="460.8" y2="1043.1"><stop offset="0.000" stop-color="#036ae1"/><stop offset="0.111" stop-color="#0c75dd"/><stop offset="0.222" stop-color="#137ed7"/><stop offset="0.333" stop-color="#1388d3"/><stop offset="0.444" stop-color="#0c94d2"/><stop offset="0.556" stop-color="#069fce"/><stop offset="0.667" stop-color="#06a7c5"/><stop offset="0.778" stop-color="#0dadbb"/><stop offset="0.889" stop-color="#1db3af"/><stop offset="1.000" stop-color="#33b8a1"/></linearGradient><linearGradient id="gs2_98" gradientUnits="userSpaceOnUse" x1="322.9" y1="1017.1" x2="352.9" y2="1057.6"><stop offset="0.000" stop-color="#6bbf83"/><stop offset="0.200" stop-color="#88bf77"/><stop offset="0.400" stop-color="#a1be6c"/><stop offset="0.600" stop-color="#b8bd63"/><stop offset="0.800" stop-color="#cebb5b"/><stop offset="1.000" stop-color="#e2b951"/></linearGradient><linearGradient id="gs2_99" gradientUnits="userSpaceOnUse" x1="301.4" y1="998" x2="320.1" y2="1033.3"><stop offset="0.000" stop-color="#3fba99"/><stop offset="0.333" stop-color="#57bd8c"/><stop offset="0.667" stop-color="#70bf81"/><stop offset="1.000" stop-color="#88bf77"/></linearGradient><linearGradient id="gs2_100" gradientUnits="userSpaceOnUse" x1="306.4" y1="1028.2" x2="311.5" y2="1063.5"><stop offset="0.000" stop-color="#5cbe8a"/><stop offset="0.167" stop-color="#77bf7d"/><stop offset="0.333" stop-color="#91bf73"/><stop offset="0.500" stop-color="#a7be6a"/><stop offset="0.667" stop-color="#bcbd62"/><stop offset="0.833" stop-color="#cfbb5a"/><stop offset="1.000" stop-color="#e2b951"/></linearGradient><linearGradient id="gs2_101" gradientUnits="userSpaceOnUse" x1="277.7" y1="1023.2" x2="280.1" y2="1041.5"><stop offset="0.000" stop-color="#33b8a1"/><stop offset="0.333" stop-color="#4dbc92"/><stop offset="0.667" stop-color="#6bbf83"/><stop offset="1.000" stop-color="#88bf77"/></linearGradient><linearGradient id="gs2_102" gradientUnits="userSpaceOnUse" x1="269.7" y1="1014.4" x2="312.7" y2="1037.6"><stop offset="0.000" stop-color="#33b8a1"/><stop offset="0.333" stop-color="#4dbc92"/><stop offset="0.667" stop-color="#6bbf83"/><stop offset="1.000" stop-color="#88bf77"/></linearGradient><linearGradient id="gs2_103" gradientUnits="userSpaceOnUse" x1="356.3" y1="1005.6" x2="355.4" y2="1057.6"><stop offset="0.000" stop-color="#6bbf83"/><stop offset="0.200" stop-color="#88bf77"/><stop offset="0.400" stop-color="#a1be6c"/><stop offset="0.600" stop-color="#b8bd63"/><stop offset="0.800" stop-color="#cebb5b"/><stop offset="1.000" stop-color="#e2b951"/></linearGradient><linearGradient id="gs2_104" gradientUnits="userSpaceOnUse" x1="457.6" y1="962.7" x2="414.5" y2="980.7"><stop offset="0.000" stop-color="#0d93d2"/><stop offset="0.200" stop-color="#069ece"/><stop offset="0.400" stop-color="#06a6c6"/><stop offset="0.600" stop-color="#0cadbb"/><stop offset="0.800" stop-color="#1db3af"/><stop offset="1.000" stop-color="#33b8a1"/></linearGradient><linearGradient id="gs2_105" gradientUnits="userSpaceOnUse" x1="465.3" y1="978.5" x2="434.9" y2="1017.3"><stop offset="0.000" stop-color="#118cd2"/><stop offset="0.143" stop-color="#0998d1"/><stop offset="0.286" stop-color="#06a2cb"/><stop offset="0.429" stop-color="#07a9c2"/><stop offset="0.571" stop-color="#11afb7"/><stop offset="0.714" stop-color="#23b5ab"/><stop offset="0.857" stop-color="#3ab99d"/><stop offset="1.000" stop-color="#55bd8e"/></linearGradient><linearGradient id="gs2_106" gradientUnits="userSpaceOnUse" x1="516.4" y1="984.2" x2="544.5" y2="997.3"><stop offset="0.000" stop-color="#0770df"/><stop offset="0.333" stop-color="#0f78db"/><stop offset="0.667" stop-color="#1480d6"/><stop offset="1.000" stop-color="#1389d3"/></linearGradient><linearGradient id="gs2_107" gradientUnits="userSpaceOnUse" x1="497.6" y1="1000.2" x2="545.7" y2="1033.1"><stop offset="0.000" stop-color="#036ae1"/><stop offset="0.200" stop-color="#0b74dd"/><stop offset="0.400" stop-color="#127dd8"/><stop offset="0.600" stop-color="#1486d4"/><stop offset="0.800" stop-color="#0e91d2"/><stop offset="1.000" stop-color="#079cd0"/></linearGradient><linearGradient id="gs2_108" gradientUnits="userSpaceOnUse" x1="504.1" y1="990.6" x2="536.4" y2="1012.4"><stop offset="0.000" stop-color="#036ae1"/><stop offset="0.333" stop-color="#0d75dc"/><stop offset="0.667" stop-color="#137fd7"/><stop offset="1.000" stop-color="#1389d3"/></linearGradient><linearGradient id="gs2_109" gradientUnits="userSpaceOnUse" x1="542.5" y1="984.7" x2="544.8" y2="1006.5"><stop offset="0.000" stop-color="#1481d6"/><stop offset="1.000" stop-color="#1389d3"/></linearGradient><linearGradient id="gs2_110" gradientUnits="userSpaceOnUse" x1="598.1" y1="1005.1" x2="538" y2="1037.7"><stop offset="0.000" stop-color="#2b4bc7"/><stop offset="0.167" stop-color="#0760e0"/><stop offset="0.333" stop-color="#056ee0"/><stop offset="0.500" stop-color="#1078da"/><stop offset="0.667" stop-color="#1483d5"/><stop offset="0.833" stop-color="#108fd2"/><stop offset="1.000" stop-color="#079cd0"/></linearGradient><linearGradient id="gs2_111" gradientUnits="userSpaceOnUse" x1="586.3" y1="1005.4" x2="546" y2="990.7"><stop offset="0.000" stop-color="#2b4bc7"/><stop offset="0.200" stop-color="#0a5fdf"/><stop offset="0.400" stop-color="#046ce0"/><stop offset="0.600" stop-color="#0d76dc"/><stop offset="0.800" stop-color="#137fd7"/><stop offset="1.000" stop-color="#1389d3"/></linearGradient><linearGradient id="gs2_112" gradientUnits="userSpaceOnUse" x1="596.4" y1="999.2" x2="547.8" y2="1022.9"><stop offset="0.000" stop-color="#2b4bc7"/><stop offset="0.200" stop-color="#0a5fdf"/><stop offset="0.400" stop-color="#046ce0"/><stop offset="0.600" stop-color="#0d76dc"/><stop offset="0.800" stop-color="#137fd7"/><stop offset="1.000" stop-color="#1389d3"/></linearGradient><linearGradient id="gs2_113" gradientUnits="userSpaceOnUse" x1="486.9" y1="983.9" x2="476.3" y2="989.8"><stop offset="0.000" stop-color="#1b55d7"/><stop offset="0.200" stop-color="#0266e1"/><stop offset="0.400" stop-color="#0870df"/><stop offset="0.600" stop-color="#1079da"/><stop offset="0.800" stop-color="#1482d5"/><stop offset="1.000" stop-color="#118cd2"/></linearGradient><linearGradient id="gs2_114" gradientUnits="userSpaceOnUse" x1="495.9" y1="996.6" x2="492.9" y2="970.3"><stop offset="0.000" stop-color="#1b55d7"/><stop offset="0.500" stop-color="#0462e0"/><stop offset="1.000" stop-color="#036ae1"/></linearGradient><linearGradient id="gs2_115" gradientUnits="userSpaceOnUse" x1="536.3" y1="1039.8" x2="516.8" y2="1082.9"><stop offset="0.000" stop-color="#079cd0"/><stop offset="0.333" stop-color="#06a3cb"/><stop offset="0.667" stop-color="#06a8c4"/><stop offset="1.000" stop-color="#0cadbb"/></linearGradient><linearGradient id="gs2_116" gradientUnits="userSpaceOnUse" x1="514" y1="1044.9" x2="515.4" y2="1055.6"><stop offset="0.000" stop-color="#079cd0"/><stop offset="0.500" stop-color="#06a2cc"/><stop offset="1.000" stop-color="#06a6c6"/></linearGradient><linearGradient id="gs2_117" gradientUnits="userSpaceOnUse" x1="520.2" y1="1066.3" x2="499.4" y2="1089.2"><stop offset="0.000" stop-color="#06a6c6"/><stop offset="0.333" stop-color="#0cadbb"/><stop offset="0.667" stop-color="#1db3af"/><stop offset="1.000" stop-color="#33b8a1"/></linearGradient><linearGradient id="gs2_118" gradientUnits="userSpaceOnUse" x1="497.1" y1="1047.2" x2="501.9" y2="1083.3"><stop offset="0.000" stop-color="#079cd0"/><stop offset="0.200" stop-color="#06a3ca"/><stop offset="0.400" stop-color="#07aac2"/><stop offset="0.600" stop-color="#10afb8"/><stop offset="0.800" stop-color="#20b4ad"/><stop offset="1.000" stop-color="#33b8a1"/></linearGradient><linearGradient id="gs2_119" gradientUnits="userSpaceOnUse" x1="437.5" y1="1019.3" x2="399.2" y2="1061.4"><stop offset="0.000" stop-color="#55bd8e"/><stop offset="0.200" stop-color="#71bf80"/><stop offset="0.400" stop-color="#8cbf75"/><stop offset="0.600" stop-color="#a3be6b"/><stop offset="0.800" stop-color="#b9bd63"/><stop offset="1.000" stop-color="#cebb5b"/></linearGradient><linearGradient id="gs2_120" gradientUnits="userSpaceOnUse" x1="455.4" y1="1037.8" x2="407.6" y2="1054.8"><stop offset="0.000" stop-color="#33b8a1"/><stop offset="0.167" stop-color="#4dbc92"/><stop offset="0.333" stop-color="#6bbf83"/><stop offset="0.500" stop-color="#88bf77"/><stop offset="0.667" stop-color="#a1be6c"/><stop offset="0.833" stop-color="#b8bd63"/><stop offset="1.000" stop-color="#cebb5b"/></linearGradient><linearGradient id="gs2_121" gradientUnits="userSpaceOnUse" x1="400.6" y1="1035.7" x2="388.7" y2="1065.3"><stop offset="0.000" stop-color="#adbe68"/><stop offset="0.500" stop-color="#bebc61"/><stop offset="1.000" stop-color="#cebb5b"/></linearGradient><linearGradient id="gs2_122" gradientUnits="userSpaceOnUse" x1="468.5" y1="1052.2" x2="416.2" y2="1082.7"><stop offset="0.000" stop-color="#33b8a1"/><stop offset="0.167" stop-color="#4fbc91"/><stop offset="0.333" stop-color="#6ebf82"/><stop offset="0.500" stop-color="#8bbf75"/><stop offset="0.667" stop-color="#a5be6b"/><stop offset="0.833" stop-color="#bdbd61"/><stop offset="1.000" stop-color="#d3bb58"/></linearGradient><linearGradient id="gs2_123" gradientUnits="userSpaceOnUse" x1="457.7" y1="1040.4" x2="421.3" y2="1081.4"><stop offset="0.000" stop-color="#33b8a1"/><stop offset="0.167" stop-color="#4dbc92"/><stop offset="0.333" stop-color="#6bbf83"/><stop offset="0.500" stop-color="#88bf77"/><stop offset="0.667" stop-color="#a1be6c"/><stop offset="0.833" stop-color="#b8bd63"/><stop offset="1.000" stop-color="#cebb5b"/></linearGradient><linearGradient id="gs2_124" gradientUnits="userSpaceOnUse" x1="405.2" y1="1066.5" x2="384.8" y2="1087.9"><stop offset="0.000" stop-color="#cebb5b"/><stop offset="1.000" stop-color="#e2b951"/></linearGradient><linearGradient id="gs2_125" gradientUnits="userSpaceOnUse" x1="388.3" y1="1044.2" x2="374.1" y2="1069.5"><stop offset="0.000" stop-color="#b8bd63"/><stop offset="0.500" stop-color="#cebb5b"/><stop offset="1.000" stop-color="#e2b951"/></linearGradient><linearGradient id="gs2_126" gradientUnits="userSpaceOnUse" x1="436.1" y1="981.4" x2="388.4" y2="995.3"><stop offset="0.000" stop-color="#0cadbb"/><stop offset="0.200" stop-color="#1bb2b0"/><stop offset="0.400" stop-color="#2eb7a4"/><stop offset="0.600" stop-color="#45bb96"/><stop offset="0.800" stop-color="#5fbe88"/><stop offset="1.000" stop-color="#7abf7c"/></linearGradient><linearGradient id="gs2_127" gradientUnits="userSpaceOnUse" x1="384.8" y1="970.9" x2="396.3" y2="1004"><stop offset="0.000" stop-color="#27b5a8"/><stop offset="0.333" stop-color="#3fba99"/><stop offset="0.667" stop-color="#5cbe8a"/><stop offset="1.000" stop-color="#7abf7c"/></linearGradient><linearGradient id="gs2_128" gradientUnits="userSpaceOnUse" x1="416.7" y1="1006.1" x2="398.1" y2="1035.3"><stop offset="0.000" stop-color="#55bd8e"/><stop offset="0.250" stop-color="#6dbf82"/><stop offset="0.500" stop-color="#84bf78"/><stop offset="0.750" stop-color="#99bf6f"/><stop offset="1.000" stop-color="#adbe68"/></linearGradient><linearGradient id="gs2_129" gradientUnits="userSpaceOnUse" x1="432.5" y1="986.7" x2="415.1" y2="1018.6"><stop offset="0.000" stop-color="#0cadbb"/><stop offset="0.200" stop-color="#1bb2b0"/><stop offset="0.400" stop-color="#2eb7a4"/><stop offset="0.600" stop-color="#45bb96"/><stop offset="0.800" stop-color="#5fbe88"/><stop offset="1.000" stop-color="#7abf7c"/></linearGradient><linearGradient id="gs2_130" gradientUnits="userSpaceOnUse" x1="390.7" y1="1005.6" x2="385.3" y2="1038.7"><stop offset="0.000" stop-color="#7abf7c"/><stop offset="0.333" stop-color="#91bf73"/><stop offset="0.667" stop-color="#a5be6b"/><stop offset="1.000" stop-color="#b8bd63"/></linearGradient><linearGradient id="gs2_131" gradientUnits="userSpaceOnUse" x1="364.1" y1="977.3" x2="366.8" y2="1007.9"><stop offset="0.000" stop-color="#27b5a8"/><stop offset="0.333" stop-color="#3fba99"/><stop offset="0.667" stop-color="#5cbe8a"/><stop offset="1.000" stop-color="#7abf7c"/></linearGradient><linearGradient id="gs2_132" gradientUnits="userSpaceOnUse" x1="367.2" y1="1002.3" x2="370.9" y2="1037.6"><stop offset="0.000" stop-color="#6bbf83"/><stop offset="0.333" stop-color="#88bf77"/><stop offset="0.667" stop-color="#a1be6c"/><stop offset="1.000" stop-color="#b8bd63"/></linearGradient><linearGradient id="gs2_133" gradientUnits="userSpaceOnUse" x1="477.5" y1="972.6" x2="469.2" y2="977.2"><stop offset="0.000" stop-color="#0267e1"/><stop offset="0.250" stop-color="#0871de"/><stop offset="0.500" stop-color="#117ada"/><stop offset="0.750" stop-color="#1482d5"/><stop offset="1.000" stop-color="#118cd2"/></linearGradient><linearGradient id="gs2_134" gradientUnits="userSpaceOnUse" x1="465.5" y1="970.9" x2="439.6" y2="969.7"><stop offset="0.000" stop-color="#127cd8"/><stop offset="0.200" stop-color="#1486d3"/><stop offset="0.400" stop-color="#0d93d2"/><stop offset="0.600" stop-color="#069ece"/><stop offset="0.800" stop-color="#06a6c6"/><stop offset="1.000" stop-color="#0cadbb"/></linearGradient><linearGradient id="gs2_135" gradientUnits="userSpaceOnUse" x1="470.3" y1="966.8" x2="445" y2="995.6"><stop offset="0.000" stop-color="#127cd8"/><stop offset="0.200" stop-color="#1486d3"/><stop offset="0.400" stop-color="#0d93d2"/><stop offset="0.600" stop-color="#069ece"/><stop offset="0.800" stop-color="#06a6c6"/><stop offset="1.000" stop-color="#0cadbb"/></linearGradient><linearGradient id="gs2_136" gradientUnits="userSpaceOnUse" x1="461.6" y1="952.3" x2="455.1" y2="957.4"><stop offset="0.000" stop-color="#0770df"/><stop offset="0.250" stop-color="#0f78db"/><stop offset="0.500" stop-color="#1480d6"/><stop offset="0.750" stop-color="#1388d3"/><stop offset="1.000" stop-color="#0d93d2"/></linearGradient><linearGradient id="gs2_137" gradientUnits="userSpaceOnUse" x1="478.2" y1="942.9" x2="478.2" y2="962.9"><stop offset="0.000" stop-color="#0770df"/><stop offset="0.500" stop-color="#0e76dc"/><stop offset="1.000" stop-color="#127cd8"/></linearGradient><linearGradient id="gs2_138" gradientUnits="userSpaceOnUse" x1="508.9" y1="967.7" x2="479.2" y2="945.3"><stop offset="0.000" stop-color="#036ae1"/><stop offset="0.500" stop-color="#0b74dd"/><stop offset="1.000" stop-color="#127cd8"/></linearGradient><linearGradient id="gs2_139" gradientUnits="userSpaceOnUse" x1="486.1" y1="975.7" x2="482.4" y2="959.2"><stop offset="0.000" stop-color="#0267e1"/><stop offset="0.500" stop-color="#0a72de"/><stop offset="1.000" stop-color="#127cd8"/></linearGradient><linearGradient id="gs2_140" gradientUnits="userSpaceOnUse" x1="615.5" y1="1149.3" x2="564.7" y2="1174.7"><stop offset="0.000" stop-color="#0d93d2"/><stop offset="0.250" stop-color="#079dcf"/><stop offset="0.500" stop-color="#06a6c7"/><stop offset="0.750" stop-color="#0aacbe"/><stop offset="1.000" stop-color="#18b1b2"/></linearGradient><linearGradient id="gs2_141" gradientUnits="userSpaceOnUse" x1="608.7" y1="1139" x2="558.9" y2="1151.5"><stop offset="0.000" stop-color="#0d93d2"/><stop offset="0.250" stop-color="#079dcf"/><stop offset="0.500" stop-color="#06a6c7"/><stop offset="0.750" stop-color="#0aacbe"/><stop offset="1.000" stop-color="#18b1b2"/></linearGradient><g id="tgs2"><polygon points="352.9,1057.5 422.1,1092.8 259.8,1034.9" fill="url(#gs2_0)" stroke="url(#gs2_0)" stroke-width="0.8"/><polygon points="626.5,1045.1 632,1062 615,1050" fill="url(#gs2_1)" stroke="url(#gs2_1)" stroke-width="0.8"/><polygon points="632,1062 626.5,1045.1 643.8,1031" fill="url(#gs2_2)" stroke="url(#gs2_2)" stroke-width="0.8"/><polygon points="494.1,1084.4 422.1,1092.8 465.9,1047.6" fill="url(#gs2_3)" stroke="url(#gs2_3)" stroke-width="0.8"/><polygon points="564.7,1132.4 494.1,1084.4 529.4,1088.6" fill="url(#gs2_4)" stroke="url(#gs2_4)" stroke-width="0.8"/><polygon points="615.5,899.4 578.8,892.4 556.2,865.5" fill="url(#gs2_5)" stroke="url(#gs2_5)" stroke-width="0.8"/><polygon points="522.4,934.7 474.4,871.2 556.2,865.5" fill="url(#gs2_6)" stroke="url(#gs2_6)" stroke-width="0.8"/><polygon points="643.8,1031 610.8,982.2 615.5,899.4" fill="url(#gs2_7)" stroke="url(#gs2_7)" stroke-width="0.8"/><polygon points="607.1,1174.7 656.5,1154.9 594.3,1228.3" fill="url(#gs2_8)" stroke="url(#gs2_8)" stroke-width="0.8"/><polygon points="422.1,1092.8 550.6,1205.8 259.8,1034.9" fill="url(#gs2_9)" stroke="url(#gs2_9)" stroke-width="0.8"/><polygon points="494.1,1084.4 550.6,1205.8 422.1,1092.8" fill="url(#gs2_10)" stroke="url(#gs2_10)" stroke-width="0.8"/><polygon points="634.3,1068.7 643.8,1031 657.9,1100" fill="url(#gs2_11)" stroke="url(#gs2_11)" stroke-width="0.8"/><polygon points="634.3,1068.7 632,1062 643.8,1031" fill="url(#gs2_12)" stroke="url(#gs2_12)" stroke-width="0.8"/><polygon points="632,1062 634.3,1068.7 615,1050" fill="url(#gs2_13)" stroke="url(#gs2_13)" stroke-width="0.8"/><polygon points="591.9,917.7 578.8,892.4 615.5,899.4" fill="url(#gs2_14)" stroke="url(#gs2_14)" stroke-width="0.8"/><polygon points="578.8,892.4 591.9,917.7 579.3,919.3" fill="url(#gs2_15)" stroke="url(#gs2_15)" stroke-width="0.8"/><polygon points="522.4,934.7 555.7,927.2 542.6,957.4" fill="url(#gs2_16)" stroke="url(#gs2_16)" stroke-width="0.8"/><polygon points="555.7,927.2 578.8,892.4 579.3,919.3" fill="url(#gs2_17)" stroke="url(#gs2_17)" stroke-width="0.8"/><polygon points="578.8,892.4 555.7,927.2 556.2,865.5" fill="url(#gs2_18)" stroke="url(#gs2_18)" stroke-width="0.8"/><polygon points="555.7,927.2 522.4,934.7 556.2,865.5" fill="url(#gs2_19)" stroke="url(#gs2_19)" stroke-width="0.8"/><polygon points="437.6,920.6 415.1,889.5 474.4,871.2" fill="url(#gs2_20)" stroke="url(#gs2_20)" stroke-width="0.8"/><polygon points="337.4,920.6 415.1,889.5 398.1,906.5" fill="url(#gs2_21)" stroke="url(#gs2_21)" stroke-width="0.8"/><polygon points="454.3,942.9 437.6,920.6 474.4,871.2" fill="url(#gs2_22)" stroke="url(#gs2_22)" stroke-width="0.8"/><polygon points="282.4,1008.1 264,1025.1 337.4,920.6" fill="url(#gs2_23)" stroke="url(#gs2_23)" stroke-width="0.8"/><polygon points="360,935 337.4,920.6 398.1,906.5" fill="url(#gs2_24)" stroke="url(#gs2_24)" stroke-width="0.8"/><polygon points="310.6,977.1 282.4,1008.1 337.4,920.6" fill="url(#gs2_25)" stroke="url(#gs2_25)" stroke-width="0.8"/><polygon points="360,935 310.6,977.1 337.4,920.6" fill="url(#gs2_26)" stroke="url(#gs2_26)" stroke-width="0.8"/><polygon points="310.6,977.1 360,935 367.1,977.1" fill="url(#gs2_27)" stroke="url(#gs2_27)" stroke-width="0.8"/><polygon points="564.7,1075.9 564.7,1132.4 529.4,1088.6" fill="url(#gs2_28)" stroke="url(#gs2_28)" stroke-width="0.8"/><polygon points="540,1041.4 564.7,1075.9 529.4,1088.6" fill="url(#gs2_29)" stroke="url(#gs2_29)" stroke-width="0.8"/><polygon points="571.4,958.6 570,973 542.6,957.4" fill="url(#gs2_30)" stroke="url(#gs2_30)" stroke-width="0.8"/><polygon points="591.4,977.1 610.8,982.2 595.7,990" fill="url(#gs2_31)" stroke="url(#gs2_31)" stroke-width="0.8"/><polygon points="591.4,977.1 570,973 571.4,958.6" fill="url(#gs2_32)" stroke="url(#gs2_32)" stroke-width="0.8"/><polygon points="626.5,1045.1 622,1025 643.8,1031" fill="url(#gs2_33)" stroke="url(#gs2_33)" stroke-width="0.8"/><polygon points="622,1025 626.5,1045.1 615,1050" fill="url(#gs2_34)" stroke="url(#gs2_34)" stroke-width="0.8"/><polygon points="570,973 591.9,990.1 550.6,991.2" fill="url(#gs2_35)" stroke="url(#gs2_35)" stroke-width="0.8"/><polygon points="591.9,990.1 591.4,977.1 595.7,990" fill="url(#gs2_36)" stroke="url(#gs2_36)" stroke-width="0.8"/><polygon points="591.4,977.1 591.9,990.1 570,973" fill="url(#gs2_37)" stroke="url(#gs2_37)" stroke-width="0.8"/><polygon points="656.5,1154.9 607.1,1132.4 657.9,1100" fill="url(#gs2_38)" stroke="url(#gs2_38)" stroke-width="0.8"/><polygon points="607.1,1174.7 607.1,1132.4 656.5,1154.9" fill="url(#gs2_39)" stroke="url(#gs2_39)" stroke-width="0.8"/><polygon points="564.7,1132.4 564.7,1174.7 494.1,1084.4" fill="url(#gs2_40)" stroke="url(#gs2_40)" stroke-width="0.8"/><polygon points="564.7,1174.7 550.6,1205.8 494.1,1084.4" fill="url(#gs2_41)" stroke="url(#gs2_41)" stroke-width="0.8"/><polygon points="564.7,1174.7 607.1,1174.7 594.3,1228.3" fill="url(#gs2_42)" stroke="url(#gs2_42)" stroke-width="0.8"/><polygon points="550.6,1205.8 564.7,1174.7 594.3,1228.3" fill="url(#gs2_43)" stroke="url(#gs2_43)" stroke-width="0.8"/><polygon points="565.7,938.6 571.4,958.6 542.6,957.4" fill="url(#gs2_44)" stroke="url(#gs2_44)" stroke-width="0.8"/><polygon points="555.7,927.2 565.7,938.6 542.6,957.4" fill="url(#gs2_45)" stroke="url(#gs2_45)" stroke-width="0.8"/><polygon points="565.7,938.6 555.7,927.2 579.3,919.3" fill="url(#gs2_46)" stroke="url(#gs2_46)" stroke-width="0.8"/><polygon points="492.9,1007.1 473.6,985 494.1,996.8" fill="url(#gs2_47)" stroke="url(#gs2_47)" stroke-width="0.8"/><polygon points="517,983 492.9,1007.1 494.1,996.8" fill="url(#gs2_48)" stroke="url(#gs2_48)" stroke-width="0.8"/><polygon points="407.1,903.6 437.6,920.6 398.1,906.5" fill="#0871de" stroke="#0871de" stroke-width="0.8"/><polygon points="415.1,889.5 407.1,903.6 398.1,906.5" fill="url(#gs2_50)" stroke="url(#gs2_50)" stroke-width="0.8"/><polygon points="407.1,903.6 415.1,889.5 437.6,920.6" fill="url(#gs2_51)" stroke="url(#gs2_51)" stroke-width="0.8"/><polygon points="522.4,934.7 514.3,942.9 474.4,871.2" fill="url(#gs2_52)" stroke="url(#gs2_52)" stroke-width="0.8"/><polygon points="514.3,942.9 454.3,942.9 474.4,871.2" fill="url(#gs2_53)" stroke="url(#gs2_53)" stroke-width="0.8"/><polygon points="514.3,942.9 522.4,934.7 542.6,957.4" fill="url(#gs2_54)" stroke="url(#gs2_54)" stroke-width="0.8"/><polygon points="338.8,1005.3 310.6,977.1 367.1,977.1" fill="url(#gs2_55)" stroke="url(#gs2_55)" stroke-width="0.8"/><polygon points="310.6,977.1 338.8,1005.3 282.4,1008.1" fill="url(#gs2_56)" stroke="url(#gs2_56)" stroke-width="0.8"/><polygon points="409.4,968.6 454.3,942.9 455.7,958.2" fill="url(#gs2_57)" stroke="url(#gs2_57)" stroke-width="0.8"/><polygon points="454.3,942.9 409.4,968.6 437.6,920.6" fill="url(#gs2_58)" stroke="url(#gs2_58)" stroke-width="0.8"/><polygon points="437.6,920.6 409.4,968.6 398.1,906.5" fill="url(#gs2_59)" stroke="url(#gs2_59)" stroke-width="0.8"/><polygon points="409.4,968.6 360,935 398.1,906.5" fill="url(#gs2_60)" stroke="url(#gs2_60)" stroke-width="0.8"/><polygon points="360,935 409.4,968.6 367.1,977.1" fill="url(#gs2_61)" stroke="url(#gs2_61)" stroke-width="0.8"/><polygon points="540,985 517,983 542.6,957.4" fill="url(#gs2_62)" stroke="url(#gs2_62)" stroke-width="0.8"/><polygon points="570,973 540,985 542.6,957.4" fill="url(#gs2_63)" stroke="url(#gs2_63)" stroke-width="0.8"/><polygon points="540,985 570,973 550.6,991.2" fill="url(#gs2_64)" stroke="url(#gs2_64)" stroke-width="0.8"/><polygon points="508.2,968.6 517,983 494.1,996.8" fill="url(#gs2_65)" stroke="url(#gs2_65)" stroke-width="0.8"/><polygon points="517,983 508.2,968.6 542.6,957.4" fill="url(#gs2_66)" stroke="url(#gs2_66)" stroke-width="0.8"/><polygon points="508.2,968.6 514.3,942.9 542.6,957.4" fill="url(#gs2_67)" stroke="url(#gs2_67)" stroke-width="0.8"/><polygon points="591.4,977.1 591.4,951.4 610.8,982.2" fill="url(#gs2_68)" stroke="url(#gs2_68)" stroke-width="0.8"/><polygon points="610.8,982.2 591.4,951.4 615.5,899.4" fill="url(#gs2_69)" stroke="url(#gs2_69)" stroke-width="0.8"/><polygon points="591.4,951.4 591.9,917.7 615.5,899.4" fill="url(#gs2_70)" stroke="url(#gs2_70)" stroke-width="0.8"/><polygon points="591.4,951.4 591.4,977.1 571.4,958.6" fill="url(#gs2_71)" stroke="url(#gs2_71)" stroke-width="0.8"/><polygon points="565.7,938.6 591.4,951.4 571.4,958.6" fill="url(#gs2_72)" stroke="url(#gs2_72)" stroke-width="0.8"/><polygon points="591.9,917.7 591.4,951.4 579.3,919.3" fill="url(#gs2_73)" stroke="url(#gs2_73)" stroke-width="0.8"/><polygon points="591.4,951.4 565.7,938.6 579.3,919.3" fill="url(#gs2_74)" stroke="url(#gs2_74)" stroke-width="0.8"/><polygon points="608.6,998.6 622,1025 610.8,1021.5" fill="url(#gs2_75)" stroke="url(#gs2_75)" stroke-width="0.8"/><polygon points="610.8,982.2 608.6,998.6 595.7,990" fill="url(#gs2_76)" stroke="url(#gs2_76)" stroke-width="0.8"/><polygon points="608.6,998.6 610.8,982.2 643.8,1031" fill="url(#gs2_77)" stroke="url(#gs2_77)" stroke-width="0.8"/><polygon points="622,1025 608.6,998.6 643.8,1031" fill="url(#gs2_78)" stroke="url(#gs2_78)" stroke-width="0.8"/><polygon points="608.6,998.6 591.9,990.1 595.7,990" fill="url(#gs2_79)" stroke="url(#gs2_79)" stroke-width="0.8"/><polygon points="608.6,1024.3 622,1025 615,1050" fill="url(#gs2_80)" stroke="url(#gs2_80)" stroke-width="0.8"/><polygon points="622,1025 608.6,1024.3 610.8,1021.5" fill="url(#gs2_81)" stroke="url(#gs2_81)" stroke-width="0.8"/><polygon points="564.7,1075.9 608.6,1024.3 615,1050" fill="url(#gs2_82)" stroke="url(#gs2_82)" stroke-width="0.8"/><polygon points="540,1041.4 608.6,1024.3 564.7,1075.9" fill="url(#gs2_83)" stroke="url(#gs2_83)" stroke-width="0.8"/><polygon points="608.6,1024.3 608.6,998.6 610.8,1021.5" fill="url(#gs2_84)" stroke="url(#gs2_84)" stroke-width="0.8"/><polygon points="608.6,998.6 608.6,1024.3 591.9,990.1" fill="url(#gs2_85)" stroke="url(#gs2_85)" stroke-width="0.8"/><polygon points="607.1,1104.1 607.1,1132.4 564.7,1132.4" fill="url(#gs2_86)" stroke="url(#gs2_86)" stroke-width="0.8"/><polygon points="564.7,1075.9 607.1,1104.1 564.7,1132.4" fill="url(#gs2_87)" stroke="url(#gs2_87)" stroke-width="0.8"/><polygon points="634.3,1068.7 607.1,1104.1 615,1050" fill="url(#gs2_88)" stroke="url(#gs2_88)" stroke-width="0.8"/><polygon points="607.1,1104.1 564.7,1075.9 615,1050" fill="url(#gs2_89)" stroke="url(#gs2_89)" stroke-width="0.8"/><polygon points="607.1,1104.1 634.3,1068.7 657.9,1100" fill="url(#gs2_90)" stroke="url(#gs2_90)" stroke-width="0.8"/><polygon points="607.1,1132.4 607.1,1104.1 657.9,1100" fill="url(#gs2_91)" stroke="url(#gs2_91)" stroke-width="0.8"/><polygon points="492.9,1007.1 494.1,1047.6 465.9,1047.6" fill="url(#gs2_92)" stroke="url(#gs2_92)" stroke-width="0.8"/><polygon points="494.1,1047.6 492.9,1007.1 540,1041.4" fill="url(#gs2_93)" stroke="url(#gs2_93)" stroke-width="0.8"/><polygon points="494.1,1047.6 494.1,1084.4 465.9,1047.6" fill="url(#gs2_94)" stroke="url(#gs2_94)" stroke-width="0.8"/><polygon points="455.7,1038.6 437.6,1019.4 473.6,985" fill="url(#gs2_95)" stroke="url(#gs2_95)" stroke-width="0.8"/><polygon points="492.9,1007.1 455.7,1038.6 473.6,985" fill="url(#gs2_96)" stroke="url(#gs2_96)" stroke-width="0.8"/><polygon points="455.7,1038.6 492.9,1007.1 465.9,1047.6" fill="url(#gs2_97)" stroke="url(#gs2_97)" stroke-width="0.8"/><polygon points="312.9,1037.1 338.8,1005.3 352.9,1057.5" fill="url(#gs2_98)" stroke="url(#gs2_98)" stroke-width="0.8"/><polygon points="338.8,1005.3 312.9,1037.1 282.4,1008.1" fill="url(#gs2_99)" stroke="url(#gs2_99)" stroke-width="0.8"/><polygon points="312.9,1037.1 352.9,1057.5 259.8,1034.9" fill="url(#gs2_100)" stroke="url(#gs2_100)" stroke-width="0.8"/><polygon points="264,1025.1 312.9,1037.1 259.8,1034.9" fill="url(#gs2_101)" stroke="url(#gs2_101)" stroke-width="0.8"/><polygon points="312.9,1037.1 264,1025.1 282.4,1008.1" fill="url(#gs2_102)" stroke="url(#gs2_102)" stroke-width="0.8"/><polygon points="338.8,1005.3 375.7,1037.1 352.9,1057.5" fill="url(#gs2_103)" stroke="url(#gs2_103)" stroke-width="0.8"/><polygon points="438.6,990 409.4,968.6 455.7,958.2" fill="url(#gs2_104)" stroke="url(#gs2_104)" stroke-width="0.8"/><polygon points="437.6,1019.4 438.6,990 473.6,985" fill="url(#gs2_105)" stroke="url(#gs2_105)" stroke-width="0.8"/><polygon points="540,985 540,1007 517,983" fill="url(#gs2_106)" stroke="url(#gs2_106)" stroke-width="0.8"/><polygon points="492.9,1007.1 540,1007 540,1041.4" fill="url(#gs2_107)" stroke="url(#gs2_107)" stroke-width="0.8"/><polygon points="540,1007 492.9,1007.1 517,983" fill="url(#gs2_108)" stroke="url(#gs2_108)" stroke-width="0.8"/><polygon points="540,1007 540,985 550.6,991.2" fill="url(#gs2_109)" stroke="url(#gs2_109)" stroke-width="0.8"/><polygon points="540,1007 608.6,1024.3 540,1041.4" fill="url(#gs2_110)" stroke="url(#gs2_110)" stroke-width="0.8"/><polygon points="591.9,990.1 540,1007 550.6,991.2" fill="url(#gs2_111)" stroke="url(#gs2_111)" stroke-width="0.8"/><polygon points="608.6,1024.3 540,1007 591.9,990.1" fill="url(#gs2_112)" stroke="url(#gs2_112)" stroke-width="0.8"/><polygon points="473.6,985 480,977.1 494.1,996.8" fill="url(#gs2_113)" stroke="url(#gs2_113)" stroke-width="0.8"/><polygon points="480,977.1 508.2,968.6 494.1,996.8" fill="url(#gs2_114)" stroke="url(#gs2_114)" stroke-width="0.8"/><polygon points="509.3,1056.4 540,1041.4 529.4,1088.6" fill="url(#gs2_115)" stroke="url(#gs2_115)" stroke-width="0.8"/><polygon points="509.3,1056.4 494.1,1047.6 540,1041.4" fill="url(#gs2_116)" stroke="url(#gs2_116)" stroke-width="0.8"/><polygon points="494.1,1084.4 509.3,1056.4 529.4,1088.6" fill="url(#gs2_117)" stroke="url(#gs2_117)" stroke-width="0.8"/><polygon points="494.1,1047.6 509.3,1056.4 494.1,1084.4" fill="url(#gs2_118)" stroke="url(#gs2_118)" stroke-width="0.8"/><polygon points="415.1,1075.9 395.3,1033.5 437.6,1019.4" fill="url(#gs2_119)" stroke="url(#gs2_119)" stroke-width="0.8"/><polygon points="455.7,1038.6 415.1,1075.9 437.6,1019.4" fill="url(#gs2_120)" stroke="url(#gs2_120)" stroke-width="0.8"/><polygon points="415.1,1075.9 375.7,1037.1 395.3,1033.5" fill="url(#gs2_121)" stroke="url(#gs2_121)" stroke-width="0.8"/><polygon points="422.1,1092.8 415.1,1075.9 465.9,1047.6" fill="url(#gs2_122)" stroke="url(#gs2_122)" stroke-width="0.8"/><polygon points="415.1,1075.9 455.7,1038.6 465.9,1047.6" fill="url(#gs2_123)" stroke="url(#gs2_123)" stroke-width="0.8"/><polygon points="352.9,1057.5 415.1,1075.9 422.1,1092.8" fill="url(#gs2_124)" stroke="url(#gs2_124)" stroke-width="0.8"/><polygon points="375.7,1037.1 415.1,1075.9 352.9,1057.5" fill="url(#gs2_125)" stroke="url(#gs2_125)" stroke-width="0.8"/><polygon points="438.6,990 391.4,1005.7 409.4,968.6" fill="url(#gs2_126)" stroke="url(#gs2_126)" stroke-width="0.8"/><polygon points="409.4,968.6 391.4,1005.7 367.1,977.1" fill="url(#gs2_127)" stroke="url(#gs2_127)" stroke-width="0.8"/><polygon points="395.3,1033.5 391.4,1005.7 437.6,1019.4" fill="url(#gs2_128)" stroke="url(#gs2_128)" stroke-width="0.8"/><polygon points="391.4,1005.7 438.6,990 437.6,1019.4" fill="url(#gs2_129)" stroke="url(#gs2_129)" stroke-width="0.8"/><polygon points="375.7,1037.1 391.4,1005.7 395.3,1033.5" fill="url(#gs2_130)" stroke="url(#gs2_130)" stroke-width="0.8"/><polygon points="391.4,1005.7 338.8,1005.3 367.1,977.1" fill="url(#gs2_131)" stroke="url(#gs2_131)" stroke-width="0.8"/><polygon points="391.4,1005.7 375.7,1037.1 338.8,1005.3" fill="url(#gs2_132)" stroke="url(#gs2_132)" stroke-width="0.8"/><polygon points="465.9,962.9 480,977.1 473.6,985" fill="url(#gs2_133)" stroke="url(#gs2_133)" stroke-width="0.8"/><polygon points="465.9,962.9 438.6,990 455.7,958.2" fill="url(#gs2_134)" stroke="url(#gs2_134)" stroke-width="0.8"/><polygon points="438.6,990 465.9,962.9 473.6,985" fill="url(#gs2_135)" stroke="url(#gs2_135)" stroke-width="0.8"/><polygon points="454.3,942.9 465.9,962.9 455.7,958.2" fill="url(#gs2_136)" stroke="url(#gs2_136)" stroke-width="0.8"/><polygon points="514.3,942.9 465.9,962.9 454.3,942.9" fill="url(#gs2_137)" stroke="url(#gs2_137)" stroke-width="0.8"/><polygon points="508.2,968.6 465.9,962.9 514.3,942.9" fill="url(#gs2_138)" stroke="url(#gs2_138)" stroke-width="0.8"/><polygon points="480,977.1 465.9,962.9 508.2,968.6" fill="url(#gs2_139)" stroke="url(#gs2_139)" stroke-width="0.8"/><polygon points="564.7,1174.7 607.1,1132.4 607.1,1174.7" fill="url(#gs2_140)" stroke="url(#gs2_140)" stroke-width="0.8"/><polygon points="607.1,1132.4 564.7,1174.7 564.7,1132.4" fill="url(#gs2_141)" stroke="url(#gs2_141)" stroke-width="0.8"/></g></defs><g clip-path="url(#cps2)"><use href="#tgs2"/><use href="#tgs2"/></g>
<defs><clipPath id="cps2b"><polygon points="591.9,917.7 615.5,899.4 646.6,924.8 673.4,962.9 694.6,1090 673.4,1177.5 656.5,1154.9 657.9,1100 643.8,1031 610.8,982.2"/></clipPath><linearGradient id="gs2b_0" gradientUnits="userSpaceOnUse" x1="590.8" y1="1067.1" x2="672.6" y2="1086.3"><stop offset="0.000" stop-color="#1389d3"/><stop offset="0.250" stop-color="#0b95d2"/><stop offset="0.500" stop-color="#069fce"/><stop offset="0.750" stop-color="#06a7c6"/><stop offset="1.000" stop-color="#0cadbb"/></linearGradient><linearGradient id="gs2b_1" gradientUnits="userSpaceOnUse" x1="663.9" y1="1136.4" x2="686.3" y2="1145.4"><stop offset="0.000" stop-color="#0cadbb"/><stop offset="0.250" stop-color="#19b2b1"/><stop offset="0.500" stop-color="#2ab6a6"/><stop offset="0.750" stop-color="#3eba9a"/><stop offset="1.000" stop-color="#55bd8e"/></linearGradient><linearGradient id="gs2b_2" gradientUnits="userSpaceOnUse" x1="655.6" y1="1112.4" x2="689.3" y2="1118.6"><stop offset="0.000" stop-color="#07aac1"/><stop offset="0.500" stop-color="#14b0b5"/><stop offset="1.000" stop-color="#27b5a8"/></linearGradient><linearGradient id="gs2b_3" gradientUnits="userSpaceOnUse" x1="639.5" y1="1007.8" x2="592" y2="1032.9"><stop offset="0.000" stop-color="#127cd8"/><stop offset="0.200" stop-color="#1486d3"/><stop offset="0.400" stop-color="#0d93d2"/><stop offset="0.600" stop-color="#069ece"/><stop offset="0.800" stop-color="#06a6c6"/><stop offset="1.000" stop-color="#0cadbb"/></linearGradient><linearGradient id="gs2b_4" gradientUnits="userSpaceOnUse" x1="677.9" y1="1104.3" x2="682.5" y2="1082.9"><stop offset="0.000" stop-color="#07aac1"/><stop offset="0.333" stop-color="#11afb8"/><stop offset="0.667" stop-color="#20b4ad"/><stop offset="1.000" stop-color="#33b8a1"/></linearGradient><linearGradient id="gs2b_5" gradientUnits="userSpaceOnUse" x1="652.2" y1="1022.7" x2="616.3" y2="1059.4"><stop offset="0.000" stop-color="#1389d3"/><stop offset="0.250" stop-color="#0c93d2"/><stop offset="0.500" stop-color="#079dcf"/><stop offset="0.750" stop-color="#06a4c9"/><stop offset="1.000" stop-color="#07aac1"/></linearGradient><linearGradient id="gs2b_6" gradientUnits="userSpaceOnUse" x1="608.5" y1="997.1" x2="648.1" y2="1003.1"><stop offset="0.000" stop-color="#1389d3"/><stop offset="1.000" stop-color="#0d93d2"/></linearGradient><linearGradient id="gs2b_7" gradientUnits="userSpaceOnUse" x1="592.2" y1="916.3" x2="623.1" y2="923.3"><stop offset="0.000" stop-color="#127cd8"/><stop offset="0.500" stop-color="#1482d5"/><stop offset="1.000" stop-color="#1389d3"/></linearGradient><linearGradient id="gs2b_8" gradientUnits="userSpaceOnUse" x1="610.4" y1="917.7" x2="645.8" y2="927.7"><stop offset="0.000" stop-color="#1484d4"/><stop offset="0.500" stop-color="#128bd3"/><stop offset="1.000" stop-color="#0d93d2"/></linearGradient><linearGradient id="gs2b_9" gradientUnits="userSpaceOnUse" x1="586.8" y1="943.6" x2="617.3" y2="949.6"><stop offset="0.000" stop-color="#127cd8"/><stop offset="0.500" stop-color="#1482d5"/><stop offset="1.000" stop-color="#1389d3"/></linearGradient><linearGradient id="gs2b_10" gradientUnits="userSpaceOnUse" x1="613.4" y1="969.1" x2="652.7" y2="976.9"><stop offset="0.000" stop-color="#1389d3"/><stop offset="1.000" stop-color="#0d93d2"/></linearGradient><linearGradient id="gs2b_11" gradientUnits="userSpaceOnUse" x1="621.4" y1="968.1" x2="673.4" y2="962.5"><stop offset="0.000" stop-color="#1389d3"/><stop offset="0.500" stop-color="#0d93d2"/><stop offset="1.000" stop-color="#079cd0"/></linearGradient><linearGradient id="gs2b_12" gradientUnits="userSpaceOnUse" x1="618.6" y1="943" x2="673.8" y2="944.1"><stop offset="0.000" stop-color="#1389d3"/><stop offset="0.500" stop-color="#0d93d2"/><stop offset="1.000" stop-color="#079cd0"/></linearGradient><linearGradient id="gs2b_13" gradientUnits="userSpaceOnUse" x1="645" y1="1023" x2="677.5" y2="1028"><stop offset="0.000" stop-color="#0d93d2"/><stop offset="0.500" stop-color="#069ece"/><stop offset="1.000" stop-color="#06a6c6"/></linearGradient><linearGradient id="gs2b_14" gradientUnits="userSpaceOnUse" x1="648.1" y1="996.9" x2="686.5" y2="1007.9"><stop offset="0.000" stop-color="#0d93d2"/><stop offset="0.500" stop-color="#069ece"/><stop offset="1.000" stop-color="#06a6c6"/></linearGradient><linearGradient id="gs2b_15" gradientUnits="userSpaceOnUse" x1="664" y1="1074.9" x2="688.8" y2="1085.8"><stop offset="0.000" stop-color="#06a6c6"/><stop offset="0.333" stop-color="#0cadbb"/><stop offset="0.667" stop-color="#1db3af"/><stop offset="1.000" stop-color="#33b8a1"/></linearGradient><linearGradient id="gs2b_16" gradientUnits="userSpaceOnUse" x1="634.4" y1="1047.9" x2="674.5" y2="1070.3"><stop offset="0.000" stop-color="#0d93d2"/><stop offset="0.333" stop-color="#079ccf"/><stop offset="0.667" stop-color="#06a4c9"/><stop offset="1.000" stop-color="#07aac1"/></linearGradient><linearGradient id="gs2b_17" gradientUnits="userSpaceOnUse" x1="663.4" y1="1032.8" x2="702" y2="1038.4"><stop offset="0.000" stop-color="#079cd0"/><stop offset="0.250" stop-color="#06a4c9"/><stop offset="0.500" stop-color="#08abc0"/><stop offset="0.750" stop-color="#15b0b5"/><stop offset="1.000" stop-color="#27b5a8"/></linearGradient><linearGradient id="gs2b_18" gradientUnits="userSpaceOnUse" x1="688.7" y1="1073.8" x2="684.1" y2="1077.1"><stop offset="0.000" stop-color="#06a6c6"/><stop offset="0.333" stop-color="#0cadbb"/><stop offset="0.667" stop-color="#1db3af"/><stop offset="1.000" stop-color="#33b8a1"/></linearGradient><g id="tgs2b"><polygon points="657.9,1100 656.5,1154.9 610.8,982.2" fill="url(#gs2b_0)" stroke="url(#gs2b_0)" stroke-width="0.8"/><polygon points="673.4,1177.5 656.5,1154.9 694.6,1090" fill="url(#gs2b_1)" stroke="url(#gs2b_1)" stroke-width="0.8"/><polygon points="656.5,1154.9 657.9,1100 694.6,1090" fill="url(#gs2b_2)" stroke="url(#gs2b_2)" stroke-width="0.8"/><polygon points="610.8,982.2 656.5,1154.9 591.9,917.7" fill="url(#gs2b_3)" stroke="url(#gs2b_3)" stroke-width="0.8"/><polygon points="657.9,1100 689.4,1084.4 694.6,1090" fill="url(#gs2b_4)" stroke="url(#gs2b_4)" stroke-width="0.8"/><polygon points="643.8,1031 657.9,1100 610.8,982.2" fill="url(#gs2b_5)" stroke="url(#gs2b_5)" stroke-width="0.8"/><polygon points="650.1,990.1 643.8,1031 610.8,982.2" fill="url(#gs2b_6)" stroke="url(#gs2b_6)" stroke-width="0.8"/><polygon points="615.5,899.4 618.6,942.9 591.9,917.7" fill="url(#gs2b_7)" stroke="url(#gs2b_7)" stroke-width="0.8"/><polygon points="646.6,924.8 618.6,942.9 615.5,899.4" fill="url(#gs2b_8)" stroke="url(#gs2b_8)" stroke-width="0.8"/><polygon points="618.6,942.9 610.8,982.2 591.9,917.7" fill="url(#gs2b_9)" stroke="url(#gs2b_9)" stroke-width="0.8"/><polygon points="618.6,942.9 650.1,990.1 610.8,982.2" fill="url(#gs2b_10)" stroke="url(#gs2b_10)" stroke-width="0.8"/><polygon points="650.1,990.1 618.6,942.9 673.4,962.9" fill="url(#gs2b_11)" stroke="url(#gs2b_11)" stroke-width="0.8"/><polygon points="618.6,942.9 646.6,924.8 673.4,962.9" fill="url(#gs2b_12)" stroke="url(#gs2b_12)" stroke-width="0.8"/><polygon points="673.6,1053 643.8,1031 650.1,990.1" fill="url(#gs2b_13)" stroke="url(#gs2b_13)" stroke-width="0.8"/><polygon points="673.6,1053 650.1,990.1 673.4,962.9" fill="url(#gs2b_14)" stroke="url(#gs2b_14)" stroke-width="0.8"/><polygon points="673.6,1053 689.4,1084.4 657.9,1100" fill="url(#gs2b_15)" stroke="url(#gs2b_15)" stroke-width="0.8"/><polygon points="643.8,1031 673.6,1053 657.9,1100" fill="url(#gs2b_16)" stroke="url(#gs2b_16)" stroke-width="0.8"/><polygon points="673.6,1053 673.4,962.9 694.6,1090" fill="url(#gs2b_17)" stroke="url(#gs2b_17)" stroke-width="0.8"/><polygon points="689.4,1084.4 673.6,1053 694.6,1090" fill="url(#gs2b_18)" stroke="url(#gs2b_18)" stroke-width="0.8"/></g></defs><g clip-path="url(#cps2b)"><use href="#tgs2b"/><use href="#tgs2b"/></g>
<line x1="90" y1="1267.1" x2="90" y2="908.8" stroke="#262626" stroke-width="1.2"/>
<line x1="90" y1="1267.1" x2="582.6" y2="1323.5" stroke="#262626" stroke-width="1.2"/>
<line x1="582.6" y1="1323.5" x2="786.9" y2="1186.3" stroke="#262626" stroke-width="1.2"/>
<line x1="90" y1="1215.9" x2="82.5" y2="1215.3" stroke="#262626" stroke-width="1.2"/>
<line x1="90" y1="1113.5" x2="82.5" y2="1112.9" stroke="#262626" stroke-width="1.2"/>
<line x1="90" y1="1011.1" x2="82.5" y2="1010.5" stroke="#262626" stroke-width="1.2"/>
<line x1="90" y1="908.8" x2="82.5" y2="908.2" stroke="#262626" stroke-width="1.2"/>
<line x1="582.6" y1="1323.5" x2="572.6" y2="1330.2" stroke="#262626" stroke-width="1.2"/>
<line x1="459.5" y1="1309.4" x2="449.4" y2="1316.1" stroke="#262626" stroke-width="1.2"/>
<line x1="336.3" y1="1295.3" x2="326.3" y2="1302" stroke="#262626" stroke-width="1.2"/>
<line x1="213.2" y1="1281.2" x2="203.1" y2="1287.9" stroke="#262626" stroke-width="1.2"/>
<line x1="90" y1="1267.1" x2="80" y2="1273.8" stroke="#262626" stroke-width="1.2"/>
<line x1="582.6" y1="1323.5" x2="596.1" y2="1325.1" stroke="#262626" stroke-width="1.2"/>
<line x1="633.7" y1="1289.2" x2="647.2" y2="1290.8" stroke="#262626" stroke-width="1.2"/>
<line x1="684.8" y1="1254.9" x2="698.3" y2="1256.5" stroke="#262626" stroke-width="1.2"/>
<line x1="735.8" y1="1220.6" x2="749.4" y2="1222.2" stroke="#262626" stroke-width="1.2"/>
<line x1="786.9" y1="1186.3" x2="800.4" y2="1187.9" stroke="#262626" stroke-width="1.2"/>
<text x="72.5" y="202.1" font-size="23" text-anchor="end" font-weight="bold" textLength="34.5" lengthAdjust="spacingAndGlyphs" fill="#000">80</text>
<text x="72.5" y="303" font-size="23" text-anchor="end" font-weight="bold" textLength="34.5" lengthAdjust="spacingAndGlyphs" fill="#000">40</text>
<text x="72.5" y="404.5" font-size="23" text-anchor="end" font-weight="bold" textLength="18.5" lengthAdjust="spacingAndGlyphs" fill="#000">0</text>
<text x="72.5" y="505.7" font-size="23" text-anchor="end" font-weight="bold" textLength="44.5" lengthAdjust="spacingAndGlyphs" fill="#000">-40</text>
<text x="74.1" y="576.8" font-size="23" text-anchor="middle" font-weight="bold" textLength="50.5" lengthAdjust="spacingAndGlyphs" fill="#000">100</text>
<text x="195.9" y="590.5" font-size="23" text-anchor="middle" font-weight="bold" textLength="34.5" lengthAdjust="spacingAndGlyphs" fill="#000">50</text>
<text x="315.6" y="603.1" font-size="23" text-anchor="middle" font-weight="bold" textLength="18.5" lengthAdjust="spacingAndGlyphs" fill="#000">0</text>
<text x="432.6" y="617.9" font-size="23" text-anchor="middle" font-weight="bold" textLength="44.5" lengthAdjust="spacingAndGlyphs" fill="#000">-50</text>
<text x="551.5" y="630.8" font-size="23" text-anchor="middle" font-weight="bold" textLength="60.5" lengthAdjust="spacingAndGlyphs" fill="#000">-100</text>
<text x="821.5" y="478.7" font-size="23" text-anchor="middle" font-weight="bold" textLength="50.5" lengthAdjust="spacingAndGlyphs" fill="#000">100</text>
<text x="772.3" y="514.1" font-size="23" text-anchor="middle" font-weight="bold" textLength="34.5" lengthAdjust="spacingAndGlyphs" fill="#000">50</text>
<text x="725.8" y="549.5" font-size="23" text-anchor="middle" font-weight="bold" textLength="18.5" lengthAdjust="spacingAndGlyphs" fill="#000">0</text>
<text x="676.3" y="579.2" font-size="23" text-anchor="middle" font-weight="bold" textLength="44.5" lengthAdjust="spacingAndGlyphs" fill="#000">-50</text>
<text x="623.6" y="613.7" font-size="23" text-anchor="middle" font-weight="bold" textLength="60.5" lengthAdjust="spacingAndGlyphs" fill="#000">-100</text>
<text x="21.2" y="404.8" font-size="25" text-anchor="middle" font-weight="bold" textLength="95" lengthAdjust="spacingAndGlyphs" transform="rotate(-90 21.2 397.3)">Z (mm)</text>
<text x="300.5" y="623" font-size="25" text-anchor="middle" font-weight="bold" textLength="95" lengthAdjust="spacingAndGlyphs" transform="rotate(6.6 300.5 615.5)">Y (mm)</text>
<text x="751.3" y="562.8" font-size="25" text-anchor="middle" font-weight="bold" textLength="95" lengthAdjust="spacingAndGlyphs" transform="rotate(-34 751.3 555.3)">X (mm)</text>
<text x="77.7" y="916.8" font-size="23" text-anchor="end" font-weight="bold" textLength="34.5" lengthAdjust="spacingAndGlyphs" fill="#000">80</text>
<text x="77.7" y="1018.8" font-size="23" text-anchor="end" font-weight="bold" textLength="34.5" lengthAdjust="spacingAndGlyphs" fill="#000">40</text>
<text x="77.7" y="1121.4" font-size="23" text-anchor="end" font-weight="bold" textLength="18.5" lengthAdjust="spacingAndGlyphs" fill="#000">0</text>
<text x="77.7" y="1221.6" font-size="23" text-anchor="end" font-weight="bold" textLength="44.5" lengthAdjust="spacingAndGlyphs" fill="#000">-40</text>
<text x="71.8" y="1295.9" font-size="23" text-anchor="middle" font-weight="bold" textLength="50.5" lengthAdjust="spacingAndGlyphs" fill="#000">100</text>
<text x="195.2" y="1309.7" font-size="23" text-anchor="middle" font-weight="bold" textLength="34.5" lengthAdjust="spacingAndGlyphs" fill="#000">50</text>
<text x="317" y="1322.7" font-size="23" text-anchor="middle" font-weight="bold" textLength="18.5" lengthAdjust="spacingAndGlyphs" fill="#000">0</text>
<text x="435.4" y="1337.7" font-size="23" text-anchor="middle" font-weight="bold" textLength="44.5" lengthAdjust="spacingAndGlyphs" fill="#000">-50</text>
<text x="556.3" y="1351.2" font-size="23" text-anchor="middle" font-weight="bold" textLength="60.5" lengthAdjust="spacingAndGlyphs" fill="#000">-100</text>
<text x="826.4" y="1196.6" font-size="23" text-anchor="middle" font-weight="bold" textLength="50.5" lengthAdjust="spacingAndGlyphs" fill="#000">100</text>
<text x="776.3" y="1232.4" font-size="23" text-anchor="middle" font-weight="bold" textLength="34.5" lengthAdjust="spacingAndGlyphs" fill="#000">50</text>
<text x="729.3" y="1267.8" font-size="23" text-anchor="middle" font-weight="bold" textLength="18.5" lengthAdjust="spacingAndGlyphs" fill="#000">0</text>
<text x="679.2" y="1298.3" font-size="23" text-anchor="middle" font-weight="bold" textLength="44.5" lengthAdjust="spacingAndGlyphs" fill="#000">-50</text>
<text x="626.2" y="1333.4" font-size="23" text-anchor="middle" font-weight="bold" textLength="60.5" lengthAdjust="spacingAndGlyphs" fill="#000">-100</text>
<text x="24.9" y="1121.1" font-size="25" text-anchor="middle" font-weight="bold" textLength="95" lengthAdjust="spacingAndGlyphs" transform="rotate(-90 24.9 1113.6)">Z (mm)</text>
<text x="301" y="1343" font-size="25" text-anchor="middle" font-weight="bold" textLength="95" lengthAdjust="spacingAndGlyphs" transform="rotate(6.6 301 1335.5)">Y (mm)</text>
<text x="754.6" y="1281.2" font-size="25" text-anchor="middle" font-weight="bold" textLength="95" lengthAdjust="spacingAndGlyphs" transform="rotate(-34 754.6 1273.7)">X (mm)</text>
<text x="1321.2" y="666.1" font-size="25" text-anchor="middle" font-weight="bold" textLength="95.6" lengthAdjust="spacingAndGlyphs">X (mm)</text>
<text x="1315.4" y="1383.6" font-size="25" text-anchor="middle" font-weight="bold" textLength="95.6" lengthAdjust="spacingAndGlyphs">X (mm)</text>
<text x="900.2" y="334" font-size="25" text-anchor="middle" font-weight="bold" textLength="94.7" lengthAdjust="spacingAndGlyphs" transform="rotate(-90 900.2 334)">Y (mm)</text>
<text x="893" y="1050.2" font-size="25" text-anchor="middle" font-weight="bold" textLength="94.6" lengthAdjust="spacingAndGlyphs" transform="rotate(-90 893 1050.2)">Y (mm)</text>
<text x="880" y="38" font-size="37.2" text-anchor="middle" font-weight="normal" textLength="478.5" lengthAdjust="spacingAndGlyphs" fill="#000">Median ratings of twitches</text>
<text x="882.2" y="746.7" font-size="37.2" text-anchor="middle" font-weight="normal" textLength="517.5" lengthAdjust="spacingAndGlyphs" fill="#000">Mean effect of TMS on RT (s)</text>
<rect x="973.4" y="59.6" width="691.6" height="545.8" fill="none" stroke="#262626" stroke-width="1.2"/>
<line x1="973.4" y1="605.4" x2="973.4" y2="598.4" stroke="#262626" stroke-width="1.2"/>
<line x1="973.4" y1="59.6" x2="973.4" y2="66.6" stroke="#262626" stroke-width="1.2"/>
<line x1="1042.6" y1="605.4" x2="1042.6" y2="598.4" stroke="#262626" stroke-width="1.2"/>
<line x1="1042.6" y1="59.6" x2="1042.6" y2="66.6" stroke="#262626" stroke-width="1.2"/>
<line x1="1111.7" y1="605.4" x2="1111.7" y2="598.4" stroke="#262626" stroke-width="1.2"/>
<line x1="1111.7" y1="59.6" x2="1111.7" y2="66.6" stroke="#262626" stroke-width="1.2"/>
<line x1="1180.9" y1="605.4" x2="1180.9" y2="598.4" stroke="#262626" stroke-width="1.2"/>
<line x1="1180.9" y1="59.6" x2="1180.9" y2="66.6" stroke="#262626" stroke-width="1.2"/>
<line x1="1250" y1="605.4" x2="1250" y2="598.4" stroke="#262626" stroke-width="1.2"/>
<line x1="1250" y1="59.6" x2="1250" y2="66.6" stroke="#262626" stroke-width="1.2"/>
<line x1="1319.2" y1="605.4" x2="1319.2" y2="598.4" stroke="#262626" stroke-width="1.2"/>
<line x1="1319.2" y1="59.6" x2="1319.2" y2="66.6" stroke="#262626" stroke-width="1.2"/>
<line x1="1388.4" y1="605.4" x2="1388.4" y2="598.4" stroke="#262626" stroke-width="1.2"/>
<line x1="1388.4" y1="59.6" x2="1388.4" y2="66.6" stroke="#262626" stroke-width="1.2"/>
<line x1="1457.5" y1="605.4" x2="1457.5" y2="598.4" stroke="#262626" stroke-width="1.2"/>
<line x1="1457.5" y1="59.6" x2="1457.5" y2="66.6" stroke="#262626" stroke-width="1.2"/>
<line x1="1526.7" y1="605.4" x2="1526.7" y2="598.4" stroke="#262626" stroke-width="1.2"/>
<line x1="1526.7" y1="59.6" x2="1526.7" y2="66.6" stroke="#262626" stroke-width="1.2"/>
<line x1="1595.8" y1="605.4" x2="1595.8" y2="598.4" stroke="#262626" stroke-width="1.2"/>
<line x1="1595.8" y1="59.6" x2="1595.8" y2="66.6" stroke="#262626" stroke-width="1.2"/>
<line x1="1665" y1="605.4" x2="1665" y2="598.4" stroke="#262626" stroke-width="1.2"/>
<line x1="1665" y1="59.6" x2="1665" y2="66.6" stroke="#262626" stroke-width="1.2"/>
<line x1="973.4" y1="559.9" x2="980.4" y2="559.9" stroke="#262626" stroke-width="1.2"/>
<line x1="1665" y1="559.9" x2="1658" y2="559.9" stroke="#262626" stroke-width="1.2"/>
<line x1="973.4" y1="446.2" x2="980.4" y2="446.2" stroke="#262626" stroke-width="1.2"/>
<line x1="1665" y1="446.2" x2="1658" y2="446.2" stroke="#262626" stroke-width="1.2"/>
<line x1="973.4" y1="332.5" x2="980.4" y2="332.5" stroke="#262626" stroke-width="1.2"/>
<line x1="1665" y1="332.5" x2="1658" y2="332.5" stroke="#262626" stroke-width="1.2"/>
<line x1="973.4" y1="218.8" x2="980.4" y2="218.8" stroke="#262626" stroke-width="1.2"/>
<line x1="1665" y1="218.8" x2="1658" y2="218.8" stroke="#262626" stroke-width="1.2"/>
<line x1="973.4" y1="105.1" x2="980.4" y2="105.1" stroke="#262626" stroke-width="1.2"/>
<line x1="1665" y1="105.1" x2="1658" y2="105.1" stroke="#262626" stroke-width="1.2"/>
<rect x="966.6" y="772.3" width="697.1" height="551.1" fill="none" stroke="#262626" stroke-width="1.2"/>
<line x1="1140.9" y1="1323.4" x2="1140.9" y2="1316.4" stroke="#262626" stroke-width="1.2"/>
<line x1="1140.9" y1="772.3" x2="1140.9" y2="779.3" stroke="#262626" stroke-width="1.2"/>
<line x1="1315.2" y1="1323.4" x2="1315.2" y2="1316.4" stroke="#262626" stroke-width="1.2"/>
<line x1="1315.2" y1="772.3" x2="1315.2" y2="779.3" stroke="#262626" stroke-width="1.2"/>
<line x1="1489.4" y1="1323.4" x2="1489.4" y2="1316.4" stroke="#262626" stroke-width="1.2"/>
<line x1="1489.4" y1="772.3" x2="1489.4" y2="779.3" stroke="#262626" stroke-width="1.2"/>
<line x1="966.6" y1="1277.5" x2="973.6" y2="1277.5" stroke="#262626" stroke-width="1.2"/>
<line x1="1663.7" y1="1277.5" x2="1656.7" y2="1277.5" stroke="#262626" stroke-width="1.2"/>
<line x1="966.6" y1="1162.7" x2="973.6" y2="1162.7" stroke="#262626" stroke-width="1.2"/>
<line x1="1663.7" y1="1162.7" x2="1656.7" y2="1162.7" stroke="#262626" stroke-width="1.2"/>
<line x1="966.6" y1="1047.8" x2="973.6" y2="1047.8" stroke="#262626" stroke-width="1.2"/>
<line x1="1663.7" y1="1047.8" x2="1656.7" y2="1047.8" stroke="#262626" stroke-width="1.2"/>
<line x1="966.6" y1="933" x2="973.6" y2="933" stroke="#262626" stroke-width="1.2"/>
<line x1="1663.7" y1="933" x2="1656.7" y2="933" stroke="#262626" stroke-width="1.2"/>
<line x1="966.6" y1="818.2" x2="973.6" y2="818.2" stroke="#262626" stroke-width="1.2"/>
<line x1="1663.7" y1="818.2" x2="1656.7" y2="818.2" stroke="#262626" stroke-width="1.2"/>
<text x="974.9" y="636.2" font-size="23" text-anchor="middle" font-weight="bold" textLength="60.5" lengthAdjust="spacingAndGlyphs" fill="#000">-100</text>
<text x="967.1" y="568.1" font-size="23" text-anchor="end" font-weight="bold" textLength="60.5" lengthAdjust="spacingAndGlyphs" fill="#000">-100</text>
<text x="1147.8" y="636.2" font-size="23" text-anchor="middle" font-weight="bold" textLength="44.5" lengthAdjust="spacingAndGlyphs" fill="#000">-50</text>
<text x="967.1" y="454.4" font-size="23" text-anchor="end" font-weight="bold" textLength="44.5" lengthAdjust="spacingAndGlyphs" fill="#000">-50</text>
<text x="1320.7" y="636.2" font-size="23" text-anchor="middle" font-weight="bold" textLength="18.5" lengthAdjust="spacingAndGlyphs" fill="#000">0</text>
<text x="967.1" y="340.7" font-size="23" text-anchor="end" font-weight="bold" textLength="18.5" lengthAdjust="spacingAndGlyphs" fill="#000">0</text>
<text x="1493.6" y="636.2" font-size="23" text-anchor="middle" font-weight="bold" textLength="34.5" lengthAdjust="spacingAndGlyphs" fill="#000">50</text>
<text x="967.1" y="227" font-size="23" text-anchor="end" font-weight="bold" textLength="34.5" lengthAdjust="spacingAndGlyphs" fill="#000">50</text>
<text x="1666.5" y="636.2" font-size="23" text-anchor="middle" font-weight="bold" textLength="50.5" lengthAdjust="spacingAndGlyphs" fill="#000">100</text>
<text x="967.1" y="113.3" font-size="23" text-anchor="end" font-weight="bold" textLength="50.5" lengthAdjust="spacingAndGlyphs" fill="#000">100</text>
<text x="968.1" y="1354.2" font-size="23" text-anchor="middle" font-weight="bold" textLength="60.5" lengthAdjust="spacingAndGlyphs" fill="#000">-100</text>
<text x="960.3" y="1285.7" font-size="23" text-anchor="end" font-weight="bold" textLength="60.5" lengthAdjust="spacingAndGlyphs" fill="#000">-100</text>
<text x="1142.4" y="1354.2" font-size="23" text-anchor="middle" font-weight="bold" textLength="44.5" lengthAdjust="spacingAndGlyphs" fill="#000">-50</text>
<text x="960.3" y="1170.9" font-size="23" text-anchor="end" font-weight="bold" textLength="44.5" lengthAdjust="spacingAndGlyphs" fill="#000">-50</text>
<text x="1316.7" y="1354.2" font-size="23" text-anchor="middle" font-weight="bold" textLength="18.5" lengthAdjust="spacingAndGlyphs" fill="#000">0</text>
<text x="960.3" y="1056" font-size="23" text-anchor="end" font-weight="bold" textLength="18.5" lengthAdjust="spacingAndGlyphs" fill="#000">0</text>
<text x="1490.9" y="1354.2" font-size="23" text-anchor="middle" font-weight="bold" textLength="34.5" lengthAdjust="spacingAndGlyphs" fill="#000">50</text>
<text x="960.3" y="941.2" font-size="23" text-anchor="end" font-weight="bold" textLength="34.5" lengthAdjust="spacingAndGlyphs" fill="#000">50</text>
<text x="1665.2" y="1354.2" font-size="23" text-anchor="middle" font-weight="bold" textLength="50.5" lengthAdjust="spacingAndGlyphs" fill="#000">100</text>
<text x="960.3" y="826.4" font-size="23" text-anchor="end" font-weight="bold" textLength="50.5" lengthAdjust="spacingAndGlyphs" fill="#000">100</text>
<polygon points="1188.5,202.9 1398.8,184.5 1437.8,210.5 1476.8,234.2 1505.8,253.4 1564,352 1558.1,416.6 1513.3,487.3 1481.9,525 1297,555.2 1222.4,559.6 1196.5,542.3 1134.4,500 1118.6,487.9 1112.1,478.6 1107.5,470.3 1105.6,462.9 1080.3,383.9 1114.2,303.1 1137.3,275.5 1160.2,242.7" fill="#079ccf"/>
<polygon points="1195.7,540.7 1180,517.1 1154.9,493.5 1149.3,489.8 1127,470.3 1108,460 1104.7,450.8 1102.4,434 1100.5,422 1117.7,399.7 1128.9,359.7 1186.2,316.1 1169.4,290 1175.5,248 1179.2,216 1160.2,242.7 1137.3,275.5 1114.2,303.1 1080.3,383.9 1105.6,462.9 1107.5,470.3 1112.1,478.6 1118.6,487.9 1134.4,500 1195.2,541.4" fill="#33b8a1"/>
<polygon points="1460.7,232 1458.4,249.5 1474.5,271.7 1505.1,287.8 1516.5,308.4 1492.1,361.2 1537.6,376.5 1558.7,410 1564,352 1505.8,253.4 1476.8,234.2 1437.8,210.5" fill="#33b8a1"/>
<polygon points="1527.4,454.3 1507,479.4 1513.3,485.7 1514.2,485.9 1548.5,431.7 1547.8,430.7" fill="#33b8a1"/>
<polygon points="1105.6,462 1101,438.7 1094,408 1112.1,370 1124.3,344.4 1163.3,313.8 1152.6,289.3 1158.6,245 1137.3,275.5 1114.2,303.1 1080.3,383.9 1105.3,462" fill="#a5be6b"/>
<polygon points="1140,500 1134.4,494 1112.8,479.5 1118.6,487.9 1134.4,500 1136.2,501.3" fill="#a5be6b"/>
<polygon points="1486.7,245 1486,250.3 1492.8,260.2 1505.8,267.1 1537.2,326.8 1525,355.8 1551.8,366.3 1561.1,383.5 1564,352 1505.8,253.4 1476.8,234.2" fill="#a5be6b"/>
<polygon points="1094.5,425.7 1088,396 1100,370 1117.4,329.8 1132.7,317.6 1134.2,303.1 1137.8,274.8 1137.3,275.5 1114.2,303.1 1080.3,383.9 1093.7,425.8" fill="#fbbc41"/>
<polygon points="1551,332.9 1563.6,355.9 1564,352 1542.8,316.1" fill="#fbbc41"/>
<polygon points="1115.2,301.8 1114.2,303.1 1080.3,383.9 1080.4,384.1 1082.3,384.3 1103.9,335 1116.9,309.3 1116.6,302.9" fill="#f9fb0e"/>
<polygon points="1328.6,550 1481.9,525 1493.2,511.4 1503.1,488.1 1517.2,455.9 1503.1,422.9 1468.5,370.2 1459.1,367.1 1487.5,299.2 1471.4,290.8 1457.7,283.2 1430.1,245 1437.8,223.5 1397.2,184.8 1367.4,189.1 1330,194.5 1213,212.5 1196.2,225.8 1188.5,271 1190,289.3 1209.2,318.4 1179.4,341.3 1149.4,370.2 1144.2,390 1108.4,433.1 1126.6,453.5 1151.7,466.9 1183.1,492 1227.1,551.7 1275.9,549.3 1277.4,542.3 1308.8,534.4 1328.6,549" fill="#066fdf"/>
<polygon points="1226.8,310.7 1232.9,321.4 1206.1,347.4 1191,360 1170.6,379.6 1158.8,452.7 1178.4,463.7 1216.1,507.7 1228.7,523.4 1246,540.7 1237.3,523.4 1247.6,519.5 1323,500.6 1378.1,539.1 1445.7,524.2 1463.8,520.3 1478.7,509.3 1488.9,484.1 1485.8,481 1494.4,476.3 1485,455.9 1471.6,413.4 1447.3,385.9 1422.1,374.1 1405.3,365 1438.5,335.2 1452.3,301.5 1439.3,293.9 1420.2,267.1 1348.8,252.5 1316.7,245.8 1333.6,235.5 1282.5,242.2 1268.3,254.6 1250,278.6" fill="#352a87"/>
<defs><mask id="mc1" maskUnits="userSpaceOnUse" x="0" y="0" width="1700" height="1400"><rect width="1700" height="1400" fill="#fff"/><rect x="1350.1" y="182.5" width="15" height="16" transform="rotate(-8.2 1357.6 190.5)" fill="#000"/><rect x="1328.4" y="240.4" width="15" height="16" transform="rotate(11.8 1335.9 248.4)" fill="#000"/><rect x="1165.8" y="249.1" width="15" height="16" transform="rotate(95 1173.3 257.1)" fill="#000"/><rect x="1181.2" y="270.8" width="15" height="16" transform="rotate(80 1188.7 278.8)" fill="#000"/><rect x="1147.5" y="289.1" width="15" height="16" transform="rotate(100 1155 297.1)" fill="#000"/><rect x="1130.6" y="302.1" width="15" height="16" transform="rotate(100 1138.1 310.1)" fill="#000"/><rect x="1101.2" y="317" width="15" height="16" transform="rotate(-68 1108.7 325)" fill="#000"/><rect x="1452.8" y="232.2" width="15" height="16" transform="rotate(-82.5 1460.3 240.2)" fill="#000"/><rect x="1470.7" y="285.3" width="15" height="16" transform="rotate(27.6 1478.2 293.3)" fill="#000"/><rect x="1205.3" y="331.1" width="15" height="16" transform="rotate(-44.1 1212.8 339.1)" fill="#000"/><rect x="1405.5" y="360" width="15" height="16" transform="rotate(28.4 1413 368)" fill="#000"/><rect x="1547.8" y="333.5" width="15" height="16" transform="rotate(61.3 1555.3 341.5)" fill="#000"/><rect x="1521.3" y="350.4" width="15" height="16" transform="rotate(21.4 1528.8 358.4)" fill="#000"/><rect x="1540.6" y="384.1" width="15" height="16" transform="rotate(57.8 1548.1 392.1)" fill="#000"/><rect x="1095.4" y="428.5" width="15" height="16" transform="rotate(82.2 1102.9 436.5)" fill="#000"/><rect x="1108.9" y="439.6" width="15" height="16" transform="rotate(48.3 1116.4 447.6)" fill="#000"/><rect x="1118.5" y="480.6" width="15" height="16" transform="rotate(33.7 1126 488.6)" fill="#000"/><rect x="1494.8" y="466.2" width="15" height="16" transform="rotate(-66.4 1502.3 474.2)" fill="#000"/><rect x="1511.7" y="451.7" width="15" height="16" transform="rotate(-50.9 1519.2 459.7)" fill="#000"/><rect x="1212.6" y="507.2" width="15" height="16" transform="rotate(51.3 1220.1 515.2)" fill="#000"/><rect x="1234.3" y="514.4" width="15" height="16" transform="rotate(-20.7 1241.8 522.4)" fill="#000"/><rect x="1277.7" y="531.3" width="15" height="16" transform="rotate(-14.1 1285.2 539.3)" fill="#000"/><rect x="1436" y="516.8" width="15" height="16" transform="rotate(-12.4 1443.5 524.8)" fill="#000"/></mask></defs>
<g mask="url(#mc1)" fill="none" stroke="#000" stroke-width="1.1" stroke-linejoin="round">
<polyline points="1250,278.6 1268.3,254.6 1282.5,242.2 1333.6,235.5 1316.7,245.8 1348.8,252.5 1420.2,267.1 1439.3,293.9 1452.3,301.5 1438.5,335.2 1405.3,365 1422.1,374.1 1447.3,385.9 1471.6,413.4 1485,455.9 1494.4,476.3 1485.8,481 1488.9,484.1 1478.7,509.3 1463.8,520.3 1445.7,524.2 1378.1,539.1 1323,500.6 1247.6,519.5 1237.3,523.4 1246,540.7 1228.7,523.4 1216.1,507.7 1178.4,463.7 1158.8,452.7 1170.6,379.6 1191,360 1206.1,347.4 1232.9,321.4 1226.8,310.7 1250,278.6"/>
<polyline points="1328.6,549 1308.8,534.4 1277.4,542.3 1275.9,549.3 1227.1,551.7 1183.1,492 1151.7,466.9 1126.6,453.5 1108.4,433.1 1144.2,390 1149.4,370.2 1179.4,341.3 1209.2,318.4 1190,289.3 1188.5,271 1196.2,225.8 1213,212.5 1330,194.5 1367.4,189.1 1397.2,184.8 1437.8,223.5 1430.1,245 1457.7,283.2 1471.4,290.8 1487.5,299.2 1459.1,367.1 1468.5,370.2 1503.1,422.9 1517.2,455.9 1503.1,488.1 1492.8,512.4"/>
<polyline points="1179.4,214.4 1175.5,248 1169.4,290 1186.2,316.1 1128.9,359.7 1117.7,399.7 1100.5,422 1102.4,434 1104.7,450.8 1108,460 1127,470.3 1149.3,489.8 1154.9,493.5 1180,517.1 1195.7,540.7"/>
<polyline points="1437.8,210.5 1460.7,232 1458.4,249.5 1474.5,271.7 1505.1,287.8 1516.5,308.4 1492.1,361.2 1537.6,376.5 1558.9,410.3"/>
<polyline points="1547.8,430.7 1527.4,454.3 1507,479.4 1513.3,485.7"/>
<polyline points="1158.7,244.2 1152.6,289.3 1163.3,313.8 1124.3,344.4 1112.1,370 1094,408 1101,438.7 1105.6,462"/>
<polyline points="1112.1,479.1 1134.4,494 1140,500"/>
<polyline points="1476.8,234.2 1486.7,245 1486,250.3 1492.8,260.2 1505.8,267.1 1537.2,326.8 1525,355.8 1551.8,366.3 1561.2,383.6"/>
<polyline points="1138,273.2 1134.2,303.1 1132.7,317.6 1117.4,329.8 1100,370 1088,396 1094.5,425.7"/>
<polyline points="1537.2,304.6 1551,332.9 1564,356.6"/>
<polyline points="1116.6,302.9 1116.9,309.3 1103.9,335 1082.3,384.3"/>
</g>
<g fill="#000"><text x="1357.6" y="196.2" font-size="16" text-anchor="middle" textLength="9" lengthAdjust="spacingAndGlyphs" transform="rotate(-8.2 1357.6 190.5)">2</text><text x="1335.9" y="254.1" font-size="16" text-anchor="middle" textLength="9" lengthAdjust="spacingAndGlyphs" transform="rotate(11.8 1335.9 248.4)">1</text><text x="1173.3" y="262.8" font-size="16" text-anchor="middle" textLength="9" lengthAdjust="spacingAndGlyphs" transform="rotate(95 1173.3 257.1)">3</text><text x="1188.7" y="284.5" font-size="16" text-anchor="middle" textLength="9" lengthAdjust="spacingAndGlyphs" transform="rotate(80 1188.7 278.8)">2</text><text x="1155" y="302.8" font-size="16" text-anchor="middle" textLength="9" lengthAdjust="spacingAndGlyphs" transform="rotate(100 1155 297.1)">4</text><text x="1138.1" y="315.8" font-size="16" text-anchor="middle" textLength="9" lengthAdjust="spacingAndGlyphs" transform="rotate(100 1138.1 310.1)">5</text><text x="1108.7" y="330.7" font-size="16" text-anchor="middle" textLength="9" lengthAdjust="spacingAndGlyphs" transform="rotate(-68 1108.7 325)">6</text><text x="1460.3" y="245.9" font-size="16" text-anchor="middle" textLength="9" lengthAdjust="spacingAndGlyphs" transform="rotate(-82.5 1460.3 240.2)">3</text><text x="1478.2" y="299" font-size="16" text-anchor="middle" textLength="9" lengthAdjust="spacingAndGlyphs" transform="rotate(27.6 1478.2 293.3)">2</text><text x="1212.8" y="344.8" font-size="16" text-anchor="middle" textLength="9" lengthAdjust="spacingAndGlyphs" transform="rotate(-44.1 1212.8 339.1)">1</text><text x="1413" y="373.7" font-size="16" text-anchor="middle" textLength="9" lengthAdjust="spacingAndGlyphs" transform="rotate(28.4 1413 368)">1</text><text x="1555.3" y="347.2" font-size="16" text-anchor="middle" textLength="9" lengthAdjust="spacingAndGlyphs" transform="rotate(61.3 1555.3 341.5)">5</text><text x="1528.8" y="364.1" font-size="16" text-anchor="middle" textLength="9" lengthAdjust="spacingAndGlyphs" transform="rotate(21.4 1528.8 358.4)">4</text><text x="1548.1" y="397.8" font-size="16" text-anchor="middle" textLength="9" lengthAdjust="spacingAndGlyphs" transform="rotate(57.8 1548.1 392.1)">3</text><text x="1102.9" y="442.2" font-size="16" text-anchor="middle" textLength="9" lengthAdjust="spacingAndGlyphs" transform="rotate(82.2 1102.9 436.5)">3</text><text x="1116.4" y="453.3" font-size="16" text-anchor="middle" textLength="9" lengthAdjust="spacingAndGlyphs" transform="rotate(48.3 1116.4 447.6)">2</text><text x="1126" y="494.3" font-size="16" text-anchor="middle" textLength="9" lengthAdjust="spacingAndGlyphs" transform="rotate(33.7 1126 488.6)">4</text><text x="1502.3" y="479.9" font-size="16" text-anchor="middle" textLength="9" lengthAdjust="spacingAndGlyphs" transform="rotate(-66.4 1502.3 474.2)">2</text><text x="1519.2" y="465.4" font-size="16" text-anchor="middle" textLength="9" lengthAdjust="spacingAndGlyphs" transform="rotate(-50.9 1519.2 459.7)">3</text><text x="1220.1" y="520.9" font-size="16" text-anchor="middle" textLength="9" lengthAdjust="spacingAndGlyphs" transform="rotate(51.3 1220.1 515.2)">1</text><text x="1241.8" y="528.1" font-size="16" text-anchor="middle" textLength="9" lengthAdjust="spacingAndGlyphs" transform="rotate(-20.7 1241.8 522.4)">1</text><text x="1285.2" y="545" font-size="16" text-anchor="middle" textLength="9" lengthAdjust="spacingAndGlyphs" transform="rotate(-14.1 1285.2 539.3)">2</text><text x="1443.5" y="530.5" font-size="16" text-anchor="middle" textLength="9" lengthAdjust="spacingAndGlyphs" transform="rotate(-12.4 1443.5 524.8)">1</text></g>
<polygon points="1183.2,917.5 1395,899.5 1454.6,936.6 1500.5,966.5 1561.7,1065.9 1556.3,1132 1506.6,1207 1479.1,1243.7 1454.6,1246.7 1320,1268.1 1217,1277.5 1188.3,1253.6 1113.7,1206 1099.6,1179 1093.1,1161 1075.1,1098.6 1115,1012" fill="#0faeb9"/>
<polygon points="1089.9,1129.5 1118.9,1090.3 1137.3,1069 1158,1030.7 1158.7,1006.2 1187,948.1 1187.8,932.8 1217.7,918 1222.1,920.6 1280.3,960 1330,989.4 1367.4,1018.5 1402.6,1052.1 1411.8,1081.2 1445.4,1096.8 1497.4,1138.1 1492.8,1177.9 1482.1,1217.7 1479.1,1226.8 1457.7,1245.2 1457.9,1246.3 1479.1,1243.7 1506.6,1207 1556.3,1132 1561.7,1065.9 1500.5,966.5 1454.6,936.6 1395,899.5 1183.2,917.5 1115,1012 1075.1,1098.6 1092,1157.2 1093.1,1157.1" fill="#65be86"/>
<polygon points="1325,1267 1302,1257 1285,1269 1284.5,1271 1283.3,1271.4 1320,1268.1 1325,1267.3" fill="#65be86"/>
<polygon points="1163,1234 1110.1,1199 1113.7,1206 1160.7,1236" fill="#65be86"/>
<polygon points="1176,927.4 1115,1012 1075.1,1098.6 1083.5,1127.6 1083.5,1127.6 1082.2,1114.1 1106,1080 1134.2,1027.7 1133.5,1017 1137.3,1009.3 1158.7,965 1176,927.7" fill="#c0bc60"/>
<polygon points="1291.8,909.1 1295.3,911.8 1314.7,922.1 1336.8,934.4 1408.7,920.6 1430.9,935.1 1456.1,963.4 1439.3,995.5 1447,1032.2 1460.7,1067.4 1457,1086 1512.7,1122.8 1518.8,1138.1 1514.3,1171.8 1499,1208.5 1486,1234.5 1506.6,1207 1556.3,1132 1561.7,1065.9 1500.5,966.5 1454.6,936.6 1395,899.5 1239.9,912.7" fill="#c0bc60"/>
<polygon points="1378.1,909.1 1399.5,905.3 1473.7,965 1459.2,995.5 1486.7,1003.2 1502.8,1006.2 1511.2,1021.5 1494,1084 1494.4,1089.2 1531.1,1118.2 1540.2,1138.1 1525,1176.4 1506.6,1207 1556.3,1132 1561.7,1065.9 1524.9,1006.1 1485.3,956.6 1454.6,936.6 1395,899.5 1367.4,901.8 1367.4,901.9" fill="#ffc337"/>
<polygon points="1488.2,977.2 1502.8,981.8 1539.5,1046.8 1529.5,1085 1540.2,1101.4 1552.5,1117.5 1557,1116.7 1557.6,1116.6 1561.7,1065.9 1500.5,966.5 1493.6,962 1492.8,963" fill="#f9fb0e"/>
<polygon points="1320,969.5 1379.7,985.6 1419.4,995.5 1428.6,981 1432,958 1419.4,940.5 1414.8,936.6 1330,953.5 1291,961.1" fill="#0faeb9"/>
<polygon points="1414.8,968.8 1419.4,959.6 1413.3,952.7 1381.2,959.6" fill="#108ed2"/>
<polygon points="1183.2,1023.1 1183.2,1033 1169.4,1055.2 1144.6,1080 1134.3,1094.1 1115,1114.7 1093.8,1136.6 1097.6,1162.3 1105,1187 1121.4,1199.6 1178,1231.7 1188.3,1253.6 1217,1277.5 1251.8,1274.3 1271.5,1267 1272,1258 1313.5,1231.5 1341,1263 1341,1264.8 1417.9,1252.5 1417.9,1251.3 1462.2,1226.1 1466.8,1217.7 1482.1,1190.1 1472.2,1176.4 1473.7,1159.5 1462.2,1128.9 1439.3,1112.9 1388.8,1090 1370.5,1078.1 1367.4,1075.1 1333.8,1041.4 1268.1,987.1 1219.1,985.6 1191.6,966.5 1191.6,975.7" fill="#108ed2"/>
<polygon points="1401.1,1211.5 1425.5,1176.4 1405.7,1142.7 1338.4,1108.3 1310.1,1104.5 1304,1093.8 1299.4,1076.6 1310.1,1065.1 1249.7,1012.4 1208.4,1011.6 1208.4,1034.5 1200,1049.1 1180.1,1065.9 1163.9,1080 1152.3,1092.9 1139.4,1105.7 1097.6,1144.3 1100.9,1170 1107.3,1175.1 1151,1183.5 1154.2,1211.1 1176.7,1222.7 1191.5,1233 1213.8,1274.3 1213.8,1274.8 1217,1277.5 1222.3,1277 1258,1263.5 1256,1250 1326.1,1205.4 1370.5,1258.2 1370.5,1260.1 1385.8,1257.6 1388.1,1251.3" fill="#0268e1"/>
<polygon points="1101.5,1153.3 1102.8,1161 1160,1171.3 1165.8,1114.7 1170.3,1095.4" fill="#352a87"/>
<polygon points="1189.5,1190 1192,1225 1208,1234 1220,1258 1236,1264 1245.5,1260.5 1242,1244 1285,1214 1319.5,1191 1239,1182.5 1191,1186.5" fill="#352a87"/>
<defs><mask id="mc2" maskUnits="userSpaceOnUse" x="0" y="0" width="1700" height="1400"><rect width="1700" height="1400" fill="#fff"/><rect x="1180.9" y="913.5" width="40" height="16" transform="rotate(-26.3 1200.9 921.5)" fill="#000"/><rect x="1294.7" y="914.1" width="40" height="16" transform="rotate(28 1314.7 922.1)" fill="#000"/><rect x="1128" y="978.4" width="40" height="16" transform="rotate(-64.2 1148 986.4)" fill="#000"/><rect x="1166.2" y="989.1" width="40" height="16" transform="rotate(-80 1186.2 997.1)" fill="#000"/><rect x="1165" y="1064" width="15" height="16" transform="rotate(-41 1172.5 1072)" fill="#000"/><rect x="1409.4" y="949.3" width="40" height="16" transform="rotate(54.2 1429.4 957.3)" fill="#000"/><rect x="1336.7" y="970.7" width="40" height="16" transform="rotate(15.1 1356.7 978.7)" fill="#000"/><rect x="1417.8" y="1007.4" width="40" height="16" transform="rotate(78.2 1437.8 1015.4)" fill="#000"/><rect x="1449.9" y="986" width="40" height="16" transform="rotate(55 1469.9 994)" fill="#000"/><rect x="1365.8" y="1024.2" width="40" height="16" transform="rotate(43.7 1385.8 1032.2)" fill="#000"/><rect x="1330.6" y="1048.7" width="40" height="16" transform="rotate(45.1 1350.6 1056.7)" fill="#000"/><rect x="1517.7" y="1064.5" width="30" height="16" transform="rotate(-75 1532.7 1072.5)" fill="#000"/><rect x="1291.9" y="1076.3" width="15" height="16" transform="rotate(75 1299.4 1084.3)" fill="#000"/><rect x="1083.6" y="1101.1" width="40" height="16" transform="rotate(-53.5 1103.6 1109.1)" fill="#000"/><rect x="1151.2" y="1092" width="45.7" height="16" transform="rotate(-76.9 1174 1100)" fill="#000"/><rect x="1091.4" y="1164.6" width="15" height="16" transform="rotate(73.3 1098.9 1172.6)" fill="#000"/><rect x="1087.3" y="1182" width="40" height="16" transform="rotate(37.5 1107.3 1190)" fill="#000"/><rect x="1158.3" y="1208.9" width="15" height="16" transform="rotate(27.3 1165.8 1216.9)" fill="#000"/><rect x="1170.2" y="1202" width="45.7" height="16" transform="rotate(85.9 1193 1210)" fill="#000"/><rect x="1240.2" y="1221" width="45.7" height="16" transform="rotate(-34.9 1263 1229)" fill="#000"/><rect x="1240.5" y="1260" width="15" height="16" transform="rotate(-20.7 1248 1268)" fill="#000"/><rect x="1270" y="1237" width="40" height="16" transform="rotate(-32.6 1290 1245)" fill="#000"/><rect x="1284" y="1256" width="40" height="16" transform="rotate(-4 1304 1264)" fill="#000"/><rect x="1389.7" y="1216.5" width="15" height="16" transform="rotate(-71.9 1397.2 1224.5)" fill="#000"/><rect x="1453" y="1199" width="40" height="16" transform="rotate(-61 1473 1207)" fill="#000"/><rect x="1469.8" y="1179" width="40" height="16" transform="rotate(-75 1489.8 1187)" fill="#000"/><rect x="1486.6" y="1177.5" width="40" height="16" transform="rotate(-67.4 1506.6 1185.5)" fill="#000"/><rect x="1512.6" y="1151.5" width="40" height="16" transform="rotate(-68.4 1532.6 1159.5)" fill="#000"/></mask></defs>
<g mask="url(#mc2)" fill="none" stroke="#000" stroke-width="1.1" stroke-linejoin="round">
<polyline points="1320,1268.1 1370.5,1258.2 1418,1251.5"/>
<polyline points="1093.1,1157.1 1089.9,1129.5 1118.9,1090.3 1137.3,1069 1158,1030.7 1158.7,1006.2 1187,948.1 1187.8,932.8 1217.7,918 1222.1,920.6 1280.3,960 1330,989.4 1367.4,1018.5 1402.6,1052.1 1411.8,1081.2 1445.4,1096.8 1497.4,1138.1 1492.8,1177.9 1482.1,1217.7 1479.1,1226.8 1457.7,1245.2"/>
<polyline points="1278,1273.5 1284.5,1271 1285,1269 1302,1257 1325,1267"/>
<polyline points="1108.6,1198.3 1144.6,1227.9 1162.6,1233"/>
<polyline points="1176,927.7 1158.7,965 1137.3,1009.3 1133.5,1017 1134.2,1027.7 1106,1080 1082.2,1114.1 1083.5,1127.6"/>
<polyline points="1215,914.4 1291.8,909.1 1295.3,911.8 1314.7,922.1 1336.8,934.4 1408.7,920.6 1430.9,935.1 1456.1,963.4 1439.3,995.5 1447,1032.2 1460.7,1067.4 1457,1086 1512.7,1122.8 1518.8,1138.1 1514.3,1171.8 1499,1208.5 1486,1234.5"/>
<polyline points="1367.4,901.9 1378.1,909.1 1399.5,905.3 1473.7,965 1459.2,995.5 1486.7,1003.2 1502.8,1006.2 1511.2,1021.5 1494,1084 1494.4,1089.2 1531.1,1118.2 1540.2,1138.1 1525,1176.4 1506.6,1207"/>
<polyline points="1112.8,1015.4 1089.9,1062.8"/>
<polyline points="1492.8,963 1488.2,977.2 1502.8,981.8 1539.5,1046.8 1529.5,1085 1540.2,1101.4 1552.5,1117.5 1557,1116.7"/>
<polyline points="1454.6,936.6 1492.8,963"/>
<polyline points="1291,961.1 1330,953.5 1414.8,936.6 1419.4,940.5 1432,958 1428.6,981 1419.4,995.5 1379.7,985.6 1320,969.5 1291,961.1"/>
<polyline points="1381.2,959.6 1413.3,952.7 1419.4,959.6 1414.8,968.8 1381.2,959.6"/>
<polyline points="1191.6,975.7 1191.6,966.5 1219.1,985.6 1268.1,987.1 1333.8,1041.4 1367.4,1075.1 1370.5,1078.1 1388.8,1090 1439.3,1112.9 1462.2,1128.9 1473.7,1159.5 1472.2,1176.4 1482.1,1190.1 1466.8,1217.7 1462.2,1226.1 1417.9,1251.3"/>
<polyline points="1341,1263 1313.5,1231.5 1272,1258 1271.5,1267 1250,1275"/>
<polyline points="1188.3,1253.6 1178,1231.7 1121.4,1199.6 1105,1187 1097.6,1162.3 1093.8,1136.6 1115,1114.7 1134.3,1094.1 1144.6,1080 1169.4,1055.2 1183.2,1033 1183.2,1023.1 1191.6,975.7"/>
<polyline points="1388.1,1251.3 1401.1,1211.5 1425.5,1176.4 1405.7,1142.7 1338.4,1108.3 1310.1,1104.5 1304,1093.8 1299.4,1076.6 1310.1,1065.1 1249.7,1012.4 1208.4,1011.6 1208.4,1034.5 1200,1049.1 1180.1,1065.9 1163.9,1080 1152.3,1092.9 1139.4,1105.7 1097.6,1144.3 1100.9,1170 1107.3,1175.1 1151,1183.5 1154.2,1211.1 1176.7,1222.7 1191.5,1233 1213.8,1274.3"/>
<polyline points="1370.5,1258.2 1326.1,1205.4 1256,1250 1258,1263.5 1221,1277.5"/>
<polyline points="1170.3,1095.4 1165.8,1114.7 1160,1171.3 1102.8,1161 1101.5,1153.3 1170.3,1095.4"/>
<polyline points="1191,1186.5 1239,1182.5 1319.5,1191 1285,1214 1242,1244 1245.5,1260.5 1236,1264 1220,1258 1208,1234 1192,1225 1189.5,1190 1191,1186.5"/>
</g>
<g fill="#000"><text x="1200.9" y="927.2" font-size="16" text-anchor="middle" textLength="34" lengthAdjust="spacingAndGlyphs" transform="rotate(-26.3 1200.9 921.5)">0.04</text><text x="1314.7" y="927.8" font-size="16" text-anchor="middle" textLength="34" lengthAdjust="spacingAndGlyphs" transform="rotate(28 1314.7 922.1)">0.06</text><text x="1148" y="992.1" font-size="16" text-anchor="middle" textLength="34" lengthAdjust="spacingAndGlyphs" transform="rotate(-64.2 1148 986.4)">0.06</text><text x="1186.2" y="1002.8" font-size="16" text-anchor="middle" textLength="34" lengthAdjust="spacingAndGlyphs" transform="rotate(-80 1186.2 997.1)">0.02</text><text x="1172.5" y="1077.7" font-size="16" text-anchor="middle" textLength="9" lengthAdjust="spacingAndGlyphs" transform="rotate(-41 1172.5 1072)">0</text><text x="1429.4" y="963" font-size="16" text-anchor="middle" textLength="34" lengthAdjust="spacingAndGlyphs" transform="rotate(54.2 1429.4 957.3)">0.04</text><text x="1356.7" y="984.4" font-size="16" text-anchor="middle" textLength="34" lengthAdjust="spacingAndGlyphs" transform="rotate(15.1 1356.7 978.7)">0.04</text><text x="1437.8" y="1021.1" font-size="16" text-anchor="middle" textLength="34" lengthAdjust="spacingAndGlyphs" transform="rotate(78.2 1437.8 1015.4)">0.06</text><text x="1469.9" y="999.7" font-size="16" text-anchor="middle" textLength="34" lengthAdjust="spacingAndGlyphs" transform="rotate(55 1469.9 994)">0.08</text><text x="1385.8" y="1037.9" font-size="16" text-anchor="middle" textLength="34" lengthAdjust="spacingAndGlyphs" transform="rotate(43.7 1385.8 1032.2)">0.04</text><text x="1350.6" y="1062.4" font-size="16" text-anchor="middle" textLength="34" lengthAdjust="spacingAndGlyphs" transform="rotate(45.1 1350.6 1056.7)">0.02</text><text x="1532.7" y="1078.2" font-size="16" text-anchor="middle" textLength="24" lengthAdjust="spacingAndGlyphs" transform="rotate(-75 1532.7 1072.5)">0.1</text><text x="1299.4" y="1090" font-size="16" text-anchor="middle" textLength="9" lengthAdjust="spacingAndGlyphs" transform="rotate(75 1299.4 1084.3)">0</text><text x="1103.6" y="1114.8" font-size="16" text-anchor="middle" textLength="34" lengthAdjust="spacingAndGlyphs" transform="rotate(-53.5 1103.6 1109.1)">0.04</text><text x="1174" y="1105.7" font-size="16" text-anchor="middle" textLength="39.7" lengthAdjust="spacingAndGlyphs" transform="rotate(-76.9 1174 1100)">-0.02</text><text x="1098.9" y="1178.3" font-size="16" text-anchor="middle" textLength="9" lengthAdjust="spacingAndGlyphs" transform="rotate(73.3 1098.9 1172.6)">0</text><text x="1107.3" y="1195.7" font-size="16" text-anchor="middle" textLength="34" lengthAdjust="spacingAndGlyphs" transform="rotate(37.5 1107.3 1190)">0.02</text><text x="1165.8" y="1222.6" font-size="16" text-anchor="middle" textLength="9" lengthAdjust="spacingAndGlyphs" transform="rotate(27.3 1165.8 1216.9)">0</text><text x="1193" y="1215.7" font-size="16" text-anchor="middle" textLength="39.7" lengthAdjust="spacingAndGlyphs" transform="rotate(85.9 1193 1210)">-0.02</text><text x="1263" y="1234.7" font-size="16" text-anchor="middle" textLength="39.7" lengthAdjust="spacingAndGlyphs" transform="rotate(-34.9 1263 1229)">-0.02</text><text x="1248" y="1273.7" font-size="16" text-anchor="middle" textLength="9" lengthAdjust="spacingAndGlyphs" transform="rotate(-20.7 1248 1268)">0</text><text x="1290" y="1250.7" font-size="16" text-anchor="middle" textLength="34" lengthAdjust="spacingAndGlyphs" transform="rotate(-32.6 1290 1245)">0.02</text><text x="1304" y="1269.7" font-size="16" text-anchor="middle" textLength="34" lengthAdjust="spacingAndGlyphs" transform="rotate(-4 1304 1264)">0.04</text><text x="1397.2" y="1230.2" font-size="16" text-anchor="middle" textLength="9" lengthAdjust="spacingAndGlyphs" transform="rotate(-71.9 1397.2 1224.5)">0</text><text x="1473" y="1212.7" font-size="16" text-anchor="middle" textLength="34" lengthAdjust="spacingAndGlyphs" transform="rotate(-61 1473 1207)">0.02</text><text x="1489.8" y="1192.7" font-size="16" text-anchor="middle" textLength="34" lengthAdjust="spacingAndGlyphs" transform="rotate(-75 1489.8 1187)">0.04</text><text x="1506.6" y="1191.2" font-size="16" text-anchor="middle" textLength="34" lengthAdjust="spacingAndGlyphs" transform="rotate(-67.4 1506.6 1185.5)">0.06</text><text x="1532.6" y="1165.2" font-size="16" text-anchor="middle" textLength="34" lengthAdjust="spacingAndGlyphs" transform="rotate(-68.4 1532.6 1159.5)">0.08</text></g>
</svg></body></html>
